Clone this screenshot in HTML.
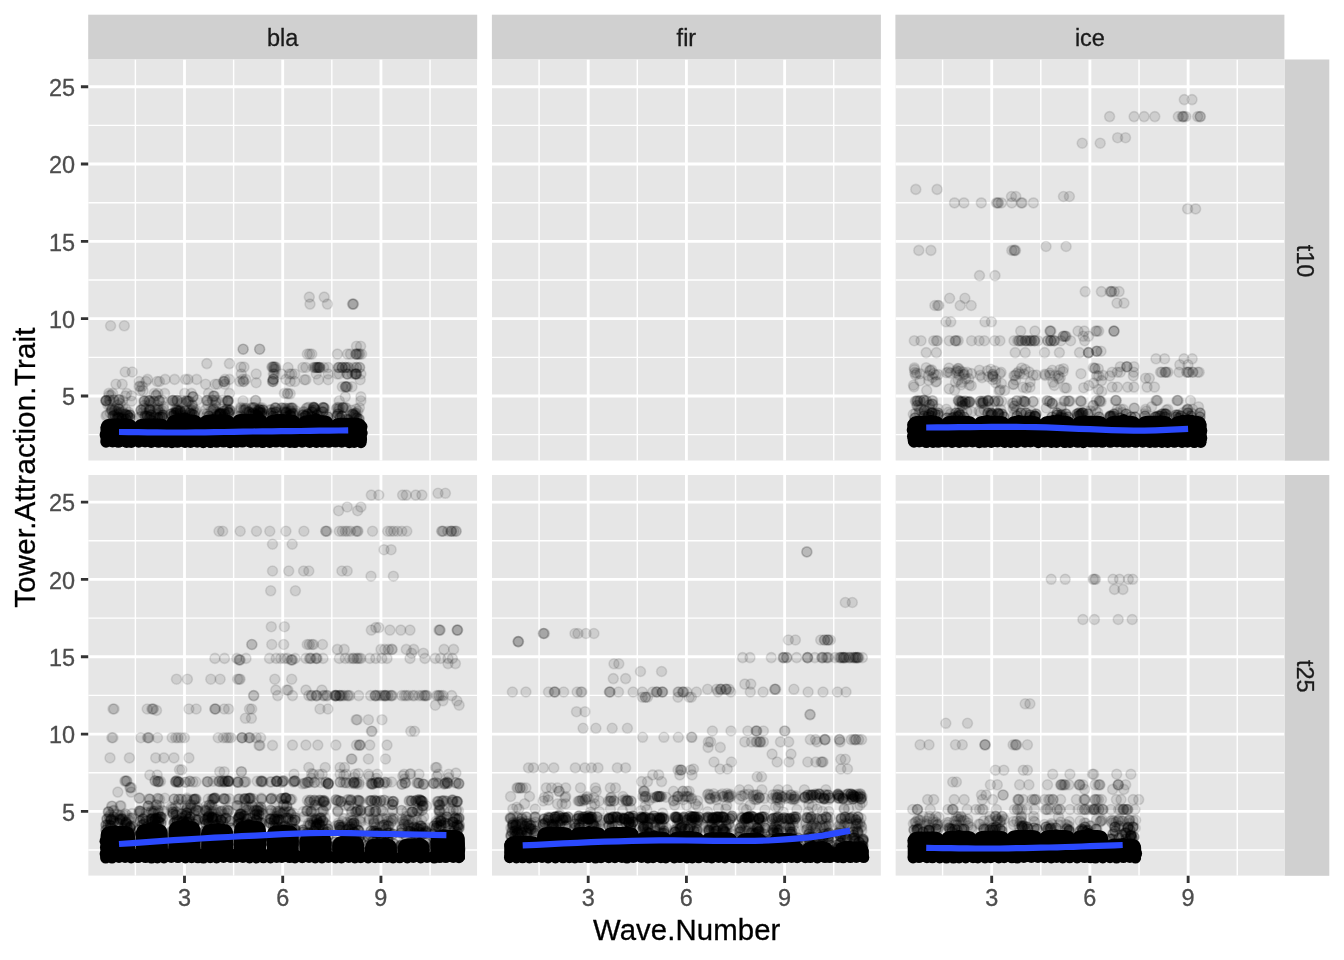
<!DOCTYPE html>
<html lang="en"><head><meta charset="utf-8"><title>Tower.Attraction.Trait by Wave.Number</title>
<style>
html,body{margin:0;padding:0;background:#fff}
svg{display:block}
text{font-family:"Liberation Sans",sans-serif}
.st{font-size:23.47px;fill:#1a1a1a;stroke:#1a1a1a;stroke-width:.3px}
.ax{font-size:23.47px;fill:#4d4d4d;stroke:#4d4d4d;stroke-width:.3px}
.ti{font-size:29.33px;fill:#000;stroke:#000;stroke-width:.3px}
.p circle{r:5px;fill:#000;fill-opacity:.1;stroke:#000;stroke-opacity:.1;stroke-width:1.6px}
.p path{fill:#000}
.k circle{r:5.6px;fill:#000}
.q circle{r:5px;fill:#000;fill-opacity:.27;stroke:#000;stroke-opacity:.27;stroke-width:1.6px}
</style></head><body>
<svg width="1344" height="960" viewBox="0 0 1344 960" role="img" aria-label="Scatter plot of Tower.Attraction.Trait by Wave.Number, faceted by tower type and trial">
<rect width="1344" height="960" fill="#fff"/>
<rect x="88.2" y="14.7" width="389.0" height="44.8" fill="#D0D0D0"/>
<text class="st" x="282.7" y="45.6" text-anchor="middle">bla</text>
<rect x="491.9" y="14.7" width="389.0" height="44.8" fill="#D0D0D0"/>
<text class="st" x="686.4" y="45.6" text-anchor="middle">fir</text>
<rect x="895.4" y="14.7" width="389.0" height="44.8" fill="#D0D0D0"/>
<text class="st" x="1089.9" y="45.6" text-anchor="middle">ice</text>
<rect x="1284.5" y="59.5" width="44.8" height="401.2" fill="#D0D0D0"/>
<text class="st" transform="translate(1297.4,261.0) rotate(90)" text-anchor="middle">t10</text>
<rect x="1284.5" y="475.0" width="44.8" height="400.8" fill="#D0D0D0"/>
<text class="st" transform="translate(1297.4,676.3) rotate(90)" text-anchor="middle">t25</text>
<g clip-path="url(#c00)">
<rect x="88.2" y="59.5" width="389.0" height="401.2" fill="#E6E6E6"/>
<path d="M88.2 434.66h389.0M88.2 357.34h389.0M88.2 280.01h389.0M88.2 202.69h389.0M88.2 125.36h389.0M135.39 59.5v401.2M233.61 59.5v401.2M331.83 59.5v401.2M430.05 59.5v401.2" stroke="#fff" stroke-width="1.42" fill="none"/>
<path d="M88.2 396.00h389.0M88.2 318.68h389.0M88.2 241.35h389.0M88.2 164.03h389.0M88.2 86.70h389.0M184.50 59.5v401.2M282.72 59.5v401.2M380.94 59.5v401.2" stroke="#fff" stroke-width="2.85" fill="none"/>
<g class="p"><path d="M100.5 429.4Q100.5 418.4 111.5 418.4H126.5Q137.5 418.4 137.5 429.4V440.6Q137.5 446.6 131.5 446.6H106.5Q100.5 446.6 100.5 440.6Z"/><path d="M133.3 429.4Q133.3 418.4 144.3 418.4H159.3Q170.3 418.4 170.3 429.4V440.6Q170.3 446.6 164.3 446.6H139.3Q133.3 446.6 133.3 440.6Z"/><path d="M166.0 425.6Q166.0 414.6 177.0 414.6H192.0Q203.0 414.6 203.0 425.6V440.6Q203.0 446.6 197.0 446.6H172.0Q166.0 446.6 166.0 440.6Z"/><path d="M198.7 425.6Q198.7 414.6 209.7 414.6H224.7Q235.7 414.6 235.7 425.6V440.6Q235.7 446.6 229.7 446.6H204.7Q198.7 446.6 198.7 440.6Z"/><path d="M231.5 424.8Q231.5 413.8 242.5 413.8H257.5Q268.5 413.8 268.5 424.8V440.6Q268.5 446.6 262.5 446.6H237.5Q231.5 446.6 231.5 440.6Z"/><path d="M264.2 425.6Q264.2 414.6 275.2 414.6H290.2Q301.2 414.6 301.2 425.6V440.6Q301.2 446.6 295.2 446.6H270.2Q264.2 446.6 264.2 440.6Z"/><path d="M297.0 426.3Q297.0 415.3 308.0 415.3H323.0Q334.0 415.3 334.0 426.3V440.6Q334.0 446.6 328.0 446.6H303.0Q297.0 446.6 297.0 440.6Z"/><path d="M329.7 428.7Q329.7 417.7 340.7 417.7H355.7Q366.7 417.7 366.7 428.7V440.6Q366.7 446.6 360.7 446.6H335.7Q329.7 446.6 329.7 440.6Z"/></g><g class="k"><circle cx="106.0" cy="442.1" r="5.6"/><circle cx="112.6" cy="441.9" r="5.6"/><circle cx="118.3" cy="442.2" r="5.6"/><circle cx="126.5" cy="442.3" r="5.6"/><circle cx="131.3" cy="442.4" r="5.6"/><circle cx="110.4" cy="431.5" r="5.6"/><circle cx="114.5" cy="425.4" r="5.6"/><circle cx="118.2" cy="424.3" r="5.6"/><circle cx="124.7" cy="425.6" r="5.6"/><circle cx="128.0" cy="430.8" r="5.6"/><circle cx="106.2" cy="427.4" r="5.6"/><circle cx="105.2" cy="434.7" r="5.6"/><circle cx="138.7" cy="442.1" r="5.6"/><circle cx="145.1" cy="441.9" r="5.6"/><circle cx="151.2" cy="442.4" r="5.6"/><circle cx="158.6" cy="442.2" r="5.6"/><circle cx="165.8" cy="442.2" r="5.6"/><circle cx="141.8" cy="431.7" r="5.6"/><circle cx="146.3" cy="425.1" r="5.6"/><circle cx="152.4" cy="424.6" r="5.6"/><circle cx="157.3" cy="424.3" r="5.6"/><circle cx="159.9" cy="429.0" r="5.6"/><circle cx="171.9" cy="442.6" r="5.6"/><circle cx="177.6" cy="442.2" r="5.6"/><circle cx="185.0" cy="442.4" r="5.6"/><circle cx="190.6" cy="442.4" r="5.6"/><circle cx="197.2" cy="442.1" r="5.6"/><circle cx="175.2" cy="427.4" r="5.6"/><circle cx="178.7" cy="419.2" r="5.6"/><circle cx="184.9" cy="418.0" r="5.6"/><circle cx="187.8" cy="419.9" r="5.6"/><circle cx="194.4" cy="425.2" r="5.6"/><circle cx="203.3" cy="442.6" r="5.6"/><circle cx="210.5" cy="442.5" r="5.6"/><circle cx="216.7" cy="442.2" r="5.6"/><circle cx="223.5" cy="442.0" r="5.6"/><circle cx="230.0" cy="442.6" r="5.6"/><circle cx="208.6" cy="426.3" r="5.6"/><circle cx="212.3" cy="420.1" r="5.6"/><circle cx="217.3" cy="420.5" r="5.6"/><circle cx="222.5" cy="420.7" r="5.6"/><circle cx="225.3" cy="428.1" r="5.6"/><circle cx="236.7" cy="442.2" r="5.6"/><circle cx="242.4" cy="442.0" r="5.6"/><circle cx="250.7" cy="442.3" r="5.6"/><circle cx="257.0" cy="442.0" r="5.6"/><circle cx="262.7" cy="442.5" r="5.6"/><circle cx="241.5" cy="425.0" r="5.6"/><circle cx="243.8" cy="421.1" r="5.6"/><circle cx="249.0" cy="419.9" r="5.6"/><circle cx="255.2" cy="419.0" r="5.6"/><circle cx="258.1" cy="427.3" r="5.6"/><circle cx="269.8" cy="442.3" r="5.6"/><circle cx="276.1" cy="442.0" r="5.6"/><circle cx="282.9" cy="442.1" r="5.6"/><circle cx="289.9" cy="442.4" r="5.6"/><circle cx="294.9" cy="442.5" r="5.6"/><circle cx="271.9" cy="425.3" r="5.6"/><circle cx="277.4" cy="419.7" r="5.6"/><circle cx="281.9" cy="419.2" r="5.6"/><circle cx="288.1" cy="420.5" r="5.6"/><circle cx="291.5" cy="426.6" r="5.6"/><circle cx="302.1" cy="442.1" r="5.6"/><circle cx="309.7" cy="442.3" r="5.6"/><circle cx="316.4" cy="442.4" r="5.6"/><circle cx="322.1" cy="442.1" r="5.6"/><circle cx="328.9" cy="442.2" r="5.6"/><circle cx="306.7" cy="427.1" r="5.6"/><circle cx="310.7" cy="420.0" r="5.6"/><circle cx="316.2" cy="418.8" r="5.6"/><circle cx="320.7" cy="421.9" r="5.6"/><circle cx="325.7" cy="426.7" r="5.6"/><circle cx="335.5" cy="442.0" r="5.6"/><circle cx="341.7" cy="442.1" r="5.6"/><circle cx="349.2" cy="442.6" r="5.6"/><circle cx="354.2" cy="442.3" r="5.6"/><circle cx="361.0" cy="442.6" r="5.6"/><circle cx="340.0" cy="430.0" r="5.6"/><circle cx="344.1" cy="424.6" r="5.6"/><circle cx="347.8" cy="424.2" r="5.6"/><circle cx="354.1" cy="423.4" r="5.6"/><circle cx="358.4" cy="428.1" r="5.6"/><circle cx="361.9" cy="426.7" r="5.6"/><circle cx="362.1" cy="433.1" r="5.6"/><circle cx="361.5" cy="439.0" r="5.6"/></g><g class="q"><circle cx="128" cy="416" r="5"/><circle cx="117" cy="419" r="5"/><circle cx="119" cy="418" r="5"/><circle cx="126" cy="419" r="5"/><circle cx="118" cy="417" r="5"/><circle cx="130" cy="418" r="5"/><circle cx="113" cy="416" r="5"/><circle cx="122" cy="419" r="5"/><circle cx="130" cy="415" r="5"/><circle cx="127" cy="415" r="5"/><circle cx="147" cy="416" r="5"/><circle cx="162" cy="417" r="5"/><circle cx="151" cy="420" r="5"/><circle cx="150" cy="417" r="5"/><circle cx="163" cy="415" r="5"/><circle cx="151" cy="415" r="5"/><circle cx="145" cy="416" r="5"/><circle cx="153" cy="421" r="5"/><circle cx="158" cy="418" r="5"/><circle cx="160" cy="417" r="5"/><circle cx="171" cy="414" r="5"/><circle cx="194" cy="415" r="5"/><circle cx="180" cy="411" r="5"/><circle cx="176" cy="413" r="5"/><circle cx="178" cy="411" r="5"/><circle cx="192" cy="414" r="5"/><circle cx="174" cy="415" r="5"/><circle cx="185" cy="411" r="5"/><circle cx="174" cy="413" r="5"/><circle cx="190" cy="413" r="5"/><circle cx="225" cy="414" r="5"/><circle cx="229" cy="413" r="5"/><circle cx="220" cy="414" r="5"/><circle cx="220" cy="414" r="5"/><circle cx="219" cy="415" r="5"/><circle cx="209" cy="416" r="5"/><circle cx="220" cy="413" r="5"/><circle cx="217" cy="416" r="5"/><circle cx="224" cy="411" r="5"/><circle cx="228" cy="412" r="5"/><circle cx="260" cy="410" r="5"/><circle cx="251" cy="414" r="5"/><circle cx="255" cy="414" r="5"/><circle cx="258" cy="411" r="5"/><circle cx="260" cy="412" r="5"/><circle cx="262" cy="413" r="5"/><circle cx="249" cy="412" r="5"/><circle cx="263" cy="410" r="5"/><circle cx="258" cy="416" r="5"/><circle cx="253" cy="413" r="5"/><circle cx="286" cy="412" r="5"/><circle cx="276" cy="412" r="5"/><circle cx="273" cy="416" r="5"/><circle cx="290" cy="415" r="5"/><circle cx="291" cy="416" r="5"/><circle cx="273" cy="413" r="5"/><circle cx="271" cy="413" r="5"/><circle cx="293" cy="414" r="5"/><circle cx="287" cy="417" r="5"/><circle cx="286" cy="413" r="5"/><circle cx="317" cy="415" r="5"/><circle cx="312" cy="412" r="5"/><circle cx="303" cy="418" r="5"/><circle cx="328" cy="417" r="5"/><circle cx="306" cy="416" r="5"/><circle cx="323" cy="412" r="5"/><circle cx="303" cy="415" r="5"/><circle cx="305" cy="416" r="5"/><circle cx="308" cy="414" r="5"/><circle cx="312" cy="417" r="5"/><circle cx="348" cy="420" r="5"/><circle cx="338" cy="414" r="5"/><circle cx="340" cy="418" r="5"/><circle cx="354" cy="415" r="5"/><circle cx="359" cy="419" r="5"/><circle cx="353" cy="414" r="5"/><circle cx="337" cy="416" r="5"/><circle cx="357" cy="418" r="5"/><circle cx="342" cy="416" r="5"/><circle cx="347" cy="419" r="5"/></g><g class="p"><circle cx="118.3" cy="413.8" r="5"/><circle cx="120.8" cy="412.9" r="5"/><circle cx="114.1" cy="414.3" r="5"/><circle cx="127.9" cy="415.3" r="5"/><circle cx="120.6" cy="417.5" r="5"/><circle cx="125.3" cy="414.5" r="5"/><circle cx="107.1" cy="415.0" r="5"/><circle cx="112.2" cy="408.8" r="5"/><circle cx="115.1" cy="415.0" r="5"/><circle cx="115.3" cy="408.9" r="5"/><circle cx="122.5" cy="411.9" r="5"/><circle cx="124.7" cy="414.1" r="5"/><circle cx="116.8" cy="411.6" r="5"/><circle cx="106.0" cy="415.9" r="5"/><circle cx="114.7" cy="415.4" r="5"/><circle cx="122.6" cy="414.1" r="5"/><circle cx="128.9" cy="412.4" r="5"/><circle cx="116.8" cy="413.9" r="5"/><circle cx="124.3" cy="413.8" r="5"/><circle cx="123.3" cy="417.2" r="5"/><circle cx="117.6" cy="415.2" r="5"/><circle cx="110.1" cy="412.8" r="5"/><circle cx="118.7" cy="412.4" r="5"/><circle cx="125.7" cy="409.4" r="5"/><circle cx="151.6" cy="414.8" r="5"/><circle cx="150.9" cy="410.1" r="5"/><circle cx="161.6" cy="410.1" r="5"/><circle cx="143.6" cy="408.4" r="5"/><circle cx="155.2" cy="416.9" r="5"/><circle cx="157.7" cy="408.5" r="5"/><circle cx="149.2" cy="411.4" r="5"/><circle cx="146.9" cy="415.7" r="5"/><circle cx="157.5" cy="417.6" r="5"/><circle cx="160.2" cy="412.7" r="5"/><circle cx="141.2" cy="416.5" r="5"/><circle cx="155.7" cy="409.5" r="5"/><circle cx="146.0" cy="408.6" r="5"/><circle cx="141.3" cy="409.7" r="5"/><circle cx="149.1" cy="416.9" r="5"/><circle cx="145.9" cy="413.4" r="5"/><circle cx="159.4" cy="409.7" r="5"/><circle cx="142.2" cy="412.8" r="5"/><circle cx="155.7" cy="414.4" r="5"/><circle cx="161.5" cy="415.1" r="5"/><circle cx="139.2" cy="417.3" r="5"/><circle cx="156.5" cy="412.5" r="5"/><circle cx="163.5" cy="408.9" r="5"/><circle cx="162.5" cy="417.3" r="5"/><circle cx="191.0" cy="411.1" r="5"/><circle cx="188.6" cy="411.0" r="5"/><circle cx="195.0" cy="411.7" r="5"/><circle cx="181.2" cy="412.7" r="5"/><circle cx="176.8" cy="412.2" r="5"/><circle cx="171.6" cy="416.2" r="5"/><circle cx="180.1" cy="410.3" r="5"/><circle cx="190.2" cy="414.5" r="5"/><circle cx="187.7" cy="417.3" r="5"/><circle cx="175.7" cy="408.5" r="5"/><circle cx="179.0" cy="414.0" r="5"/><circle cx="185.8" cy="414.9" r="5"/><circle cx="183.9" cy="415.4" r="5"/><circle cx="172.7" cy="416.0" r="5"/><circle cx="185.1" cy="417.0" r="5"/><circle cx="182.0" cy="414.6" r="5"/><circle cx="182.3" cy="416.7" r="5"/><circle cx="195.2" cy="413.3" r="5"/><circle cx="193.4" cy="408.6" r="5"/><circle cx="180.4" cy="413.2" r="5"/><circle cx="222.5" cy="413.7" r="5"/><circle cx="212.1" cy="410.8" r="5"/><circle cx="227.6" cy="409.1" r="5"/><circle cx="220.6" cy="414.2" r="5"/><circle cx="229.7" cy="411.7" r="5"/><circle cx="205.9" cy="416.9" r="5"/><circle cx="223.8" cy="417.1" r="5"/><circle cx="204.3" cy="414.0" r="5"/><circle cx="217.7" cy="413.5" r="5"/><circle cx="216.9" cy="412.2" r="5"/><circle cx="221.9" cy="413.7" r="5"/><circle cx="213.8" cy="408.5" r="5"/><circle cx="211.0" cy="410.4" r="5"/><circle cx="215.4" cy="414.3" r="5"/><circle cx="205.8" cy="409.6" r="5"/><circle cx="222.5" cy="409.3" r="5"/><circle cx="216.0" cy="411.4" r="5"/><circle cx="207.3" cy="414.0" r="5"/><circle cx="242.3" cy="417.3" r="5"/><circle cx="261.7" cy="415.6" r="5"/><circle cx="240.7" cy="415.8" r="5"/><circle cx="246.8" cy="412.6" r="5"/><circle cx="240.8" cy="408.5" r="5"/><circle cx="262.6" cy="416.3" r="5"/><circle cx="247.5" cy="411.3" r="5"/><circle cx="259.9" cy="413.1" r="5"/><circle cx="260.9" cy="414.7" r="5"/><circle cx="249.9" cy="413.0" r="5"/><circle cx="254.4" cy="415.8" r="5"/><circle cx="252.9" cy="415.6" r="5"/><circle cx="245.8" cy="408.7" r="5"/><circle cx="260.4" cy="410.1" r="5"/><circle cx="237.8" cy="416.3" r="5"/><circle cx="243.6" cy="410.4" r="5"/><circle cx="258.9" cy="412.2" r="5"/><circle cx="255.7" cy="410.2" r="5"/><circle cx="238.6" cy="416.9" r="5"/><circle cx="259.6" cy="417.3" r="5"/><circle cx="275.5" cy="417.3" r="5"/><circle cx="270.0" cy="409.8" r="5"/><circle cx="278.3" cy="416.2" r="5"/><circle cx="273.5" cy="411.6" r="5"/><circle cx="295.0" cy="413.0" r="5"/><circle cx="293.2" cy="413.0" r="5"/><circle cx="284.7" cy="411.4" r="5"/><circle cx="290.7" cy="410.6" r="5"/><circle cx="295.6" cy="410.7" r="5"/><circle cx="293.3" cy="415.7" r="5"/><circle cx="283.6" cy="412.1" r="5"/><circle cx="291.3" cy="413.2" r="5"/><circle cx="290.3" cy="414.0" r="5"/><circle cx="285.0" cy="409.8" r="5"/><circle cx="290.5" cy="411.6" r="5"/><circle cx="269.6" cy="416.0" r="5"/><circle cx="282.9" cy="415.3" r="5"/><circle cx="271.3" cy="409.7" r="5"/><circle cx="327.1" cy="414.8" r="5"/><circle cx="313.1" cy="410.1" r="5"/><circle cx="304.0" cy="411.7" r="5"/><circle cx="305.7" cy="415.0" r="5"/><circle cx="324.1" cy="417.1" r="5"/><circle cx="303.3" cy="413.8" r="5"/><circle cx="315.2" cy="409.6" r="5"/><circle cx="321.1" cy="411.4" r="5"/><circle cx="306.3" cy="408.5" r="5"/><circle cx="313.1" cy="412.0" r="5"/><circle cx="312.5" cy="417.2" r="5"/><circle cx="314.7" cy="416.2" r="5"/><circle cx="303.2" cy="411.9" r="5"/><circle cx="318.9" cy="416.7" r="5"/><circle cx="316.7" cy="414.4" r="5"/><circle cx="312.4" cy="410.4" r="5"/><circle cx="315.2" cy="409.5" r="5"/><circle cx="318.3" cy="413.3" r="5"/><circle cx="351.7" cy="414.5" r="5"/><circle cx="338.4" cy="411.3" r="5"/><circle cx="351.4" cy="410.3" r="5"/><circle cx="338.4" cy="409.2" r="5"/><circle cx="356.0" cy="409.1" r="5"/><circle cx="358.0" cy="411.3" r="5"/><circle cx="356.3" cy="412.8" r="5"/><circle cx="355.7" cy="415.9" r="5"/><circle cx="355.6" cy="413.5" r="5"/><circle cx="354.9" cy="413.4" r="5"/><circle cx="355.8" cy="417.0" r="5"/><circle cx="336.3" cy="409.0" r="5"/><circle cx="118.7" cy="409.0" r="5"/><circle cx="119.0" cy="409.0" r="5"/><circle cx="118.8" cy="409.0" r="5"/><circle cx="111.6" cy="410.2" r="5"/><circle cx="112.0" cy="410.2" r="5"/><circle cx="111.4" cy="410.2" r="5"/><circle cx="113.9" cy="410.2" r="5"/><circle cx="114.7" cy="410.2" r="5"/><circle cx="149.7" cy="410.3" r="5"/><circle cx="149.6" cy="410.2" r="5"/><circle cx="157.9" cy="410.3" r="5"/><circle cx="157.8" cy="410.3" r="5"/><circle cx="149.6" cy="409.6" r="5"/><circle cx="150.0" cy="409.6" r="5"/><circle cx="140.7" cy="410.3" r="5"/><circle cx="141.1" cy="410.3" r="5"/><circle cx="180.5" cy="410.1" r="5"/><circle cx="192.9" cy="410.3" r="5"/><circle cx="176.9" cy="410.1" r="5"/><circle cx="191.0" cy="409.9" r="5"/><circle cx="195.8" cy="410.0" r="5"/><circle cx="176.3" cy="410.2" r="5"/><circle cx="176.7" cy="410.2" r="5"/><circle cx="178.2" cy="410.3" r="5"/><circle cx="213.6" cy="409.7" r="5"/><circle cx="213.2" cy="409.7" r="5"/><circle cx="227.2" cy="409.5" r="5"/><circle cx="226.5" cy="409.5" r="5"/><circle cx="230.2" cy="410.2" r="5"/><circle cx="229.8" cy="410.2" r="5"/><circle cx="229.9" cy="410.2" r="5"/><circle cx="240.7" cy="410.2" r="5"/><circle cx="245.2" cy="410.0" r="5"/><circle cx="244.5" cy="409.7" r="5"/><circle cx="259.4" cy="409.5" r="5"/><circle cx="258.6" cy="409.5" r="5"/><circle cx="107.8" cy="404.9" r="5"/><circle cx="120.3" cy="403.4" r="5"/><circle cx="109.7" cy="404.9" r="5"/><circle cx="122.6" cy="406.4" r="5"/><circle cx="117.6" cy="405.1" r="5"/><circle cx="163.5" cy="406.6" r="5"/><circle cx="149.4" cy="404.9" r="5"/><circle cx="157.7" cy="405.3" r="5"/><circle cx="144.0" cy="405.5" r="5"/><circle cx="151.0" cy="402.4" r="5"/><circle cx="192.3" cy="405.5" r="5"/><circle cx="186.0" cy="403.6" r="5"/><circle cx="192.2" cy="404.8" r="5"/><circle cx="181.8" cy="403.3" r="5"/><circle cx="215.5" cy="405.7" r="5"/><circle cx="216.0" cy="402.5" r="5"/><circle cx="207.9" cy="404.7" r="5"/><circle cx="122.6" cy="400.5" r="5"/><circle cx="113.6" cy="400.0" r="5"/><circle cx="113.9" cy="400.0" r="5"/><circle cx="106.1" cy="400.8" r="5"/><circle cx="106.2" cy="400.8" r="5"/><circle cx="110.0" cy="400.2" r="5"/><circle cx="109.2" cy="400.2" r="5"/><circle cx="119.0" cy="399.8" r="5"/><circle cx="119.5" cy="399.8" r="5"/><circle cx="118.5" cy="399.8" r="5"/><circle cx="131.7" cy="401.1" r="5"/><circle cx="105.9" cy="400.6" r="5"/><circle cx="106.4" cy="400.6" r="5"/><circle cx="105.8" cy="400.6" r="5"/><circle cx="158.2" cy="400.7" r="5"/><circle cx="154.3" cy="401.2" r="5"/><circle cx="153.9" cy="401.2" r="5"/><circle cx="147.6" cy="400.4" r="5"/><circle cx="162.0" cy="400.1" r="5"/><circle cx="149.5" cy="400.8" r="5"/><circle cx="148.8" cy="400.8" r="5"/><circle cx="149.6" cy="400.8" r="5"/><circle cx="144.2" cy="401.1" r="5"/><circle cx="144.0" cy="401.1" r="5"/><circle cx="144.7" cy="401.1" r="5"/><circle cx="159.3" cy="400.8" r="5"/><circle cx="159.4" cy="400.8" r="5"/><circle cx="175.0" cy="401.1" r="5"/><circle cx="181.4" cy="400.3" r="5"/><circle cx="186.1" cy="400.8" r="5"/><circle cx="186.5" cy="400.8" r="5"/><circle cx="177.1" cy="400.5" r="5"/><circle cx="176.8" cy="400.5" r="5"/><circle cx="177.4" cy="400.5" r="5"/><circle cx="173.0" cy="400.8" r="5"/><circle cx="172.1" cy="400.8" r="5"/><circle cx="187.7" cy="401.2" r="5"/><circle cx="187.5" cy="401.2" r="5"/><circle cx="197.4" cy="399.9" r="5"/><circle cx="189.4" cy="401.1" r="5"/><circle cx="188.4" cy="401.1" r="5"/><circle cx="172.5" cy="400.3" r="5"/><circle cx="173.2" cy="400.3" r="5"/><circle cx="222.5" cy="400.1" r="5"/><circle cx="207.8" cy="400.4" r="5"/><circle cx="206.9" cy="400.5" r="5"/><circle cx="206.7" cy="400.5" r="5"/><circle cx="212.8" cy="400.3" r="5"/><circle cx="212.1" cy="400.3" r="5"/><circle cx="228.6" cy="401.0" r="5"/><circle cx="227.8" cy="401.0" r="5"/><circle cx="228.0" cy="400.6" r="5"/><circle cx="227.8" cy="400.6" r="5"/><circle cx="217.0" cy="400.1" r="5"/><circle cx="215.6" cy="400.9" r="5"/><circle cx="227.9" cy="401.2" r="5"/><circle cx="227.0" cy="400.7" r="5"/><circle cx="243.0" cy="400.8" r="5"/><circle cx="255.3" cy="400.5" r="5"/><circle cx="255.9" cy="400.5" r="5"/><circle cx="260.0" cy="407.9" r="5"/><circle cx="253.4" cy="407.7" r="5"/><circle cx="254.3" cy="407.7" r="5"/><circle cx="254.3" cy="407.7" r="5"/><circle cx="252.1" cy="407.8" r="5"/><circle cx="251.5" cy="407.8" r="5"/><circle cx="243.8" cy="408.3" r="5"/><circle cx="246.0" cy="408.0" r="5"/><circle cx="240.6" cy="407.4" r="5"/><circle cx="262.3" cy="407.9" r="5"/><circle cx="281.5" cy="408.0" r="5"/><circle cx="285.5" cy="408.3" r="5"/><circle cx="285.2" cy="408.3" r="5"/><circle cx="281.6" cy="408.0" r="5"/><circle cx="283.3" cy="408.1" r="5"/><circle cx="275.1" cy="407.7" r="5"/><circle cx="291.6" cy="408.1" r="5"/><circle cx="291.2" cy="408.1" r="5"/><circle cx="292.1" cy="408.1" r="5"/><circle cx="292.9" cy="408.1" r="5"/><circle cx="275.9" cy="408.0" r="5"/><circle cx="275.1" cy="408.0" r="5"/><circle cx="275.8" cy="408.0" r="5"/><circle cx="288.6" cy="408.3" r="5"/><circle cx="289.6" cy="408.3" r="5"/><circle cx="314.4" cy="408.2" r="5"/><circle cx="308.7" cy="407.3" r="5"/><circle cx="313.2" cy="407.2" r="5"/><circle cx="313.4" cy="407.2" r="5"/><circle cx="323.8" cy="407.7" r="5"/><circle cx="322.9" cy="407.7" r="5"/><circle cx="307.1" cy="407.8" r="5"/><circle cx="324.4" cy="408.0" r="5"/><circle cx="324.0" cy="408.0" r="5"/><circle cx="313.8" cy="407.7" r="5"/><circle cx="314.0" cy="407.7" r="5"/><circle cx="323.0" cy="407.5" r="5"/><circle cx="323.1" cy="407.5" r="5"/><circle cx="314.5" cy="407.6" r="5"/><circle cx="313.9" cy="407.6" r="5"/><circle cx="338.2" cy="407.4" r="5"/><circle cx="339.6" cy="407.9" r="5"/><circle cx="342.6" cy="407.5" r="5"/><circle cx="125.4" cy="396.0" r="5"/><circle cx="109.1" cy="395.6" r="5"/><circle cx="131.4" cy="395.8" r="5"/><circle cx="156.3" cy="395.4" r="5"/><circle cx="155.8" cy="395.4" r="5"/><circle cx="193.2" cy="396.8" r="5"/><circle cx="192.8" cy="396.8" r="5"/><circle cx="192.8" cy="396.8" r="5"/><circle cx="213.9" cy="396.1" r="5"/><circle cx="213.3" cy="396.1" r="5"/><circle cx="214.5" cy="396.1" r="5"/><circle cx="110.6" cy="325.8" r="5"/><circle cx="124.3" cy="325.8" r="5"/><circle cx="243.2" cy="349.2" r="5"/><circle cx="243.1" cy="349.2" r="5"/><circle cx="259.6" cy="349.2" r="5"/><circle cx="259.7" cy="349.2" r="5"/><circle cx="206.8" cy="363.6" r="5"/><circle cx="229.4" cy="363.6" r="5"/><circle cx="241.0" cy="367.1" r="5"/><circle cx="244.0" cy="367.1" r="5"/><circle cx="271.8" cy="367.1" r="5"/><circle cx="273.3" cy="367.1" r="5"/><circle cx="274.8" cy="367.1" r="5"/><circle cx="272.5" cy="367.1" r="5"/><circle cx="274.0" cy="367.1" r="5"/><circle cx="275.8" cy="367.1" r="5"/><circle cx="274.0" cy="369.3" r="5"/><circle cx="275.5" cy="369.3" r="5"/><circle cx="125.2" cy="372.0" r="5"/><circle cx="132.2" cy="372.0" r="5"/><circle cx="241.3" cy="374.0" r="5"/><circle cx="256.2" cy="374.0" r="5"/><circle cx="273.3" cy="374.0" r="5"/><circle cx="274.3" cy="374.0" r="5"/><circle cx="281.5" cy="374.0" r="5"/><circle cx="147.5" cy="379.4" r="5"/><circle cx="165.1" cy="379.4" r="5"/><circle cx="174.6" cy="379.4" r="5"/><circle cx="185.5" cy="379.4" r="5"/><circle cx="188.0" cy="379.4" r="5"/><circle cx="196.6" cy="379.4" r="5"/><circle cx="224.9" cy="379.4" r="5"/><circle cx="229.4" cy="379.4" r="5"/><circle cx="242.8" cy="379.4" r="5"/><circle cx="245.7" cy="379.4" r="5"/><circle cx="273.3" cy="379.4" r="5"/><circle cx="273.2" cy="379.4" r="5"/><circle cx="273.3" cy="379.4" r="5"/><circle cx="285.9" cy="379.4" r="5"/><circle cx="157.2" cy="381.5" r="5"/><circle cx="159.4" cy="381.5" r="5"/><circle cx="139.3" cy="381.5" r="5"/><circle cx="146.0" cy="381.5" r="5"/><circle cx="224.2" cy="381.5" r="5"/><circle cx="224.4" cy="381.5" r="5"/><circle cx="223.4" cy="381.5" r="5"/><circle cx="239.8" cy="381.5" r="5"/><circle cx="243.5" cy="381.5" r="5"/><circle cx="243.5" cy="381.5" r="5"/><circle cx="272.5" cy="381.5" r="5"/><circle cx="272.8" cy="381.5" r="5"/><circle cx="273.2" cy="381.5" r="5"/><circle cx="256.2" cy="382.7" r="5"/><circle cx="116.0" cy="384.2" r="5"/><circle cx="122.2" cy="384.2" r="5"/><circle cx="205.6" cy="384.2" r="5"/><circle cx="215.2" cy="384.2" r="5"/><circle cx="217.5" cy="384.2" r="5"/><circle cx="224.9" cy="384.2" r="5"/><circle cx="140.1" cy="386.4" r="5"/><circle cx="139.1" cy="386.4" r="5"/><circle cx="142.3" cy="386.4" r="5"/><circle cx="140.1" cy="390.9" r="5"/><circle cx="143.1" cy="390.9" r="5"/><circle cx="108.8" cy="393.4" r="5"/><circle cx="112.6" cy="393.4" r="5"/><circle cx="126.7" cy="393.4" r="5"/><circle cx="154.2" cy="393.4" r="5"/><circle cx="157.9" cy="393.4" r="5"/><circle cx="164.6" cy="393.4" r="5"/><circle cx="184.7" cy="393.4" r="5"/><circle cx="191.4" cy="393.4" r="5"/><circle cx="208.5" cy="393.4" r="5"/><circle cx="229.4" cy="393.4" r="5"/><circle cx="284.4" cy="393.4" r="5"/><circle cx="287.4" cy="393.4" r="5"/><circle cx="111.1" cy="395.3" r="5"/><circle cx="309.3" cy="297.1" r="5"/><circle cx="324.2" cy="297.1" r="5"/><circle cx="310.0" cy="304.1" r="5"/><circle cx="327.4" cy="304.1" r="5"/><circle cx="353.5" cy="304.1" r="5"/><circle cx="353.0" cy="304.1" r="5"/><circle cx="352.5" cy="304.1" r="5"/><circle cx="356.5" cy="346.2" r="5"/><circle cx="360.6" cy="346.2" r="5"/><circle cx="307.3" cy="354.1" r="5"/><circle cx="309.6" cy="354.1" r="5"/><circle cx="311.8" cy="354.1" r="5"/><circle cx="337.4" cy="354.1" r="5"/><circle cx="347.5" cy="354.1" r="5"/><circle cx="350.5" cy="354.1" r="5"/><circle cx="355.7" cy="354.1" r="5"/><circle cx="356.5" cy="354.1" r="5"/><circle cx="356.2" cy="354.1" r="5"/><circle cx="358.7" cy="354.1" r="5"/><circle cx="357.6" cy="354.1" r="5"/><circle cx="359.8" cy="354.1" r="5"/><circle cx="361.7" cy="354.1" r="5"/><circle cx="288.0" cy="367.5" r="5"/><circle cx="302.9" cy="367.5" r="5"/><circle cx="305.9" cy="367.5" r="5"/><circle cx="315.5" cy="367.5" r="5"/><circle cx="319.7" cy="367.5" r="5"/><circle cx="316.9" cy="367.5" r="5"/><circle cx="316.6" cy="367.5" r="5"/><circle cx="317.8" cy="367.5" r="5"/><circle cx="314.7" cy="367.5" r="5"/><circle cx="313.4" cy="367.5" r="5"/><circle cx="318.0" cy="367.5" r="5"/><circle cx="320.0" cy="367.5" r="5"/><circle cx="318.9" cy="367.5" r="5"/><circle cx="319.3" cy="367.5" r="5"/><circle cx="323.7" cy="367.5" r="5"/><circle cx="328.2" cy="367.5" r="5"/><circle cx="339.3" cy="367.5" r="5"/><circle cx="338.7" cy="367.5" r="5"/><circle cx="338.2" cy="367.5" r="5"/><circle cx="342.3" cy="367.5" r="5"/><circle cx="342.2" cy="367.5" r="5"/><circle cx="342.2" cy="367.5" r="5"/><circle cx="345.3" cy="367.5" r="5"/><circle cx="346.1" cy="367.5" r="5"/><circle cx="345.3" cy="367.5" r="5"/><circle cx="348.3" cy="367.5" r="5"/><circle cx="348.6" cy="367.5" r="5"/><circle cx="353.5" cy="367.5" r="5"/><circle cx="356.5" cy="367.5" r="5"/><circle cx="356.5" cy="367.5" r="5"/><circle cx="359.4" cy="367.5" r="5"/><circle cx="359.8" cy="367.5" r="5"/><circle cx="289.5" cy="374.0" r="5"/><circle cx="291.7" cy="374.0" r="5"/><circle cx="294.7" cy="374.0" r="5"/><circle cx="316.3" cy="374.0" r="5"/><circle cx="328.2" cy="374.0" r="5"/><circle cx="337.1" cy="374.0" r="5"/><circle cx="339.3" cy="374.0" r="5"/><circle cx="347.5" cy="374.0" r="5"/><circle cx="347.4" cy="374.0" r="5"/><circle cx="347.0" cy="374.0" r="5"/><circle cx="352.0" cy="374.0" r="5"/><circle cx="356.5" cy="374.0" r="5"/><circle cx="356.4" cy="374.0" r="5"/><circle cx="355.1" cy="374.0" r="5"/><circle cx="355.7" cy="374.0" r="5"/><circle cx="356.2" cy="374.0" r="5"/><circle cx="355.3" cy="374.0" r="5"/><circle cx="360.9" cy="374.0" r="5"/><circle cx="304.4" cy="379.7" r="5"/><circle cx="305.9" cy="379.7" r="5"/><circle cx="318.5" cy="379.7" r="5"/><circle cx="328.2" cy="379.7" r="5"/><circle cx="360.2" cy="379.7" r="5"/><circle cx="290.2" cy="381.5" r="5"/><circle cx="294.7" cy="381.5" r="5"/><circle cx="342.3" cy="386.8" r="5"/><circle cx="346.0" cy="386.8" r="5"/><circle cx="345.4" cy="386.8" r="5"/><circle cx="345.5" cy="386.8" r="5"/><circle cx="347.5" cy="386.8" r="5"/><circle cx="346.5" cy="386.8" r="5"/><circle cx="352.0" cy="386.8" r="5"/><circle cx="290.2" cy="393.8" r="5"/><circle cx="288.0" cy="393.8" r="5"/><circle cx="345.3" cy="396.8" r="5"/><circle cx="360.9" cy="396.8" r="5"/><circle cx="339.3" cy="400.8" r="5"/><circle cx="360.9" cy="400.8" r="5"/><circle cx="337.1" cy="407.7" r="5"/><circle cx="343.1" cy="407.7" r="5"/><circle cx="343.7" cy="407.7" r="5"/><circle cx="342.8" cy="407.7" r="5"/><circle cx="345.3" cy="407.7" r="5"/><circle cx="346.1" cy="407.7" r="5"/><circle cx="359.4" cy="407.7" r="5"/></g><path d="M119.0 432.0 L128.6 432.1 L138.1 432.2 L147.7 432.3 L157.2 432.4 L166.8 432.5 L176.3 432.5 L185.9 432.5 L195.4 432.4 L205.0 432.3 L214.5 432.2 L224.1 432.0 L233.6 431.9 L243.2 431.7 L252.7 431.5 L262.3 431.4 L271.8 431.3 L281.4 431.2 L290.9 431.1 L300.5 431.0 L310.0 430.8 L319.6 430.7 L329.1 430.6 L338.7 430.5 L348.2 430.3" fill="none" stroke="#2A49FE" stroke-width="6.2" stroke-linejoin="round"/>
</g>
<g clip-path="url(#c01)">
<rect x="491.9" y="59.5" width="389.0" height="401.2" fill="#E6E6E6"/>
<path d="M491.9 434.66h389.0M491.9 357.34h389.0M491.9 280.01h389.0M491.9 202.69h389.0M491.9 125.36h389.0M539.09 59.5v401.2M637.31 59.5v401.2M735.53 59.5v401.2M833.75 59.5v401.2" stroke="#fff" stroke-width="1.42" fill="none"/>
<path d="M491.9 396.00h389.0M491.9 318.68h389.0M491.9 241.35h389.0M491.9 164.03h389.0M491.9 86.70h389.0M588.20 59.5v401.2M686.42 59.5v401.2M784.64 59.5v401.2" stroke="#fff" stroke-width="2.85" fill="none"/>
<g class="p"></g><g class="k"></g><g class="q"></g><g class="p"></g>
</g>
<g clip-path="url(#c02)">
<rect x="895.4" y="59.5" width="389.0" height="401.2" fill="#E6E6E6"/>
<path d="M895.4 434.66h389.0M895.4 357.34h389.0M895.4 280.01h389.0M895.4 202.69h389.0M895.4 125.36h389.0M942.59 59.5v401.2M1040.81 59.5v401.2M1139.03 59.5v401.2M1237.25 59.5v401.2" stroke="#fff" stroke-width="1.42" fill="none"/>
<path d="M895.4 396.00h389.0M895.4 318.68h389.0M895.4 241.35h389.0M895.4 164.03h389.0M895.4 86.70h389.0M991.70 59.5v401.2M1089.92 59.5v401.2M1188.14 59.5v401.2" stroke="#fff" stroke-width="2.85" fill="none"/>
<g class="p"><path d="M907.7 426.8Q907.7 415.8 918.7 415.8H933.7Q944.7 415.8 944.7 426.8V440.6Q944.7 446.6 938.7 446.6H913.7Q907.7 446.6 907.7 440.6Z"/><path d="M940.5 426.8Q940.5 415.8 951.5 415.8H966.5Q977.5 415.8 977.5 426.8V440.6Q977.5 446.6 971.5 446.6H946.5Q940.5 446.6 940.5 440.6Z"/><path d="M973.2 426.8Q973.2 415.8 984.2 415.8H999.2Q1010.2 415.8 1010.2 426.8V440.6Q1010.2 446.6 1004.2 446.6H979.2Q973.2 446.6 973.2 440.6Z"/><path d="M1005.9 426.8Q1005.9 415.8 1016.9 415.8H1031.9Q1042.9 415.8 1042.9 426.8V440.6Q1042.9 446.6 1036.9 446.6H1011.9Q1005.9 446.6 1005.9 440.6Z"/><path d="M1038.7 426.8Q1038.7 415.8 1049.7 415.8H1064.7Q1075.7 415.8 1075.7 426.8V440.6Q1075.7 446.6 1069.7 446.6H1044.7Q1038.7 446.6 1038.7 440.6Z"/><path d="M1071.4 426.8Q1071.4 415.8 1082.4 415.8H1097.4Q1108.4 415.8 1108.4 426.8V440.6Q1108.4 446.6 1102.4 446.6H1077.4Q1071.4 446.6 1071.4 440.6Z"/><path d="M1104.2 426.8Q1104.2 415.8 1115.2 415.8H1130.2Q1141.2 415.8 1141.2 426.8V440.6Q1141.2 446.6 1135.2 446.6H1110.2Q1104.2 446.6 1104.2 440.6Z"/><path d="M1136.9 426.8Q1136.9 415.8 1147.9 415.8H1162.9Q1173.9 415.8 1173.9 426.8V440.6Q1173.9 446.6 1167.9 446.6H1142.9Q1136.9 446.6 1136.9 440.6Z"/><path d="M1169.6 426.8Q1169.6 415.8 1180.6 415.8H1195.6Q1206.6 415.8 1206.6 426.8V440.6Q1206.6 446.6 1200.6 446.6H1175.6Q1169.6 446.6 1169.6 440.6Z"/></g><g class="k"><circle cx="914.0" cy="442.1" r="5.6"/><circle cx="919.2" cy="441.9" r="5.6"/><circle cx="926.3" cy="442.5" r="5.6"/><circle cx="933.0" cy="442.3" r="5.6"/><circle cx="938.3" cy="442.2" r="5.6"/><circle cx="916.6" cy="427.0" r="5.6"/><circle cx="920.8" cy="421.6" r="5.6"/><circle cx="925.8" cy="422.4" r="5.6"/><circle cx="930.9" cy="420.6" r="5.6"/><circle cx="935.5" cy="428.6" r="5.6"/><circle cx="912.7" cy="424.8" r="5.6"/><circle cx="912.3" cy="429.9" r="5.6"/><circle cx="912.6" cy="436.5" r="5.6"/><circle cx="945.0" cy="442.0" r="5.6"/><circle cx="952.0" cy="442.4" r="5.6"/><circle cx="959.2" cy="442.3" r="5.6"/><circle cx="965.9" cy="442.0" r="5.6"/><circle cx="972.5" cy="441.9" r="5.6"/><circle cx="949.6" cy="427.1" r="5.6"/><circle cx="952.9" cy="422.3" r="5.6"/><circle cx="959.8" cy="421.5" r="5.6"/><circle cx="962.5" cy="421.6" r="5.6"/><circle cx="968.7" cy="427.4" r="5.6"/><circle cx="979.2" cy="442.6" r="5.6"/><circle cx="984.7" cy="442.2" r="5.6"/><circle cx="991.3" cy="442.3" r="5.6"/><circle cx="997.5" cy="441.9" r="5.6"/><circle cx="1004.7" cy="442.3" r="5.6"/><circle cx="981.8" cy="429.5" r="5.6"/><circle cx="987.1" cy="420.6" r="5.6"/><circle cx="992.2" cy="421.5" r="5.6"/><circle cx="996.4" cy="423.0" r="5.6"/><circle cx="1000.9" cy="427.0" r="5.6"/><circle cx="1010.7" cy="442.3" r="5.6"/><circle cx="1016.9" cy="442.4" r="5.6"/><circle cx="1024.9" cy="442.1" r="5.6"/><circle cx="1030.4" cy="441.9" r="5.6"/><circle cx="1038.3" cy="442.6" r="5.6"/><circle cx="1015.2" cy="429.4" r="5.6"/><circle cx="1018.9" cy="420.6" r="5.6"/><circle cx="1024.0" cy="422.4" r="5.6"/><circle cx="1030.4" cy="421.2" r="5.6"/><circle cx="1034.0" cy="426.5" r="5.6"/><circle cx="1044.5" cy="442.0" r="5.6"/><circle cx="1051.3" cy="442.3" r="5.6"/><circle cx="1056.6" cy="442.3" r="5.6"/><circle cx="1064.7" cy="442.5" r="5.6"/><circle cx="1070.1" cy="442.4" r="5.6"/><circle cx="1046.7" cy="426.6" r="5.6"/><circle cx="1053.2" cy="420.6" r="5.6"/><circle cx="1058.6" cy="419.8" r="5.6"/><circle cx="1062.8" cy="423.6" r="5.6"/><circle cx="1066.9" cy="429.0" r="5.6"/><circle cx="1077.6" cy="442.2" r="5.6"/><circle cx="1083.4" cy="442.6" r="5.6"/><circle cx="1090.6" cy="442.0" r="5.6"/><circle cx="1096.0" cy="442.0" r="5.6"/><circle cx="1102.3" cy="442.2" r="5.6"/><circle cx="1080.9" cy="429.5" r="5.6"/><circle cx="1085.1" cy="421.0" r="5.6"/><circle cx="1089.7" cy="421.8" r="5.6"/><circle cx="1094.2" cy="422.5" r="5.6"/><circle cx="1097.9" cy="427.5" r="5.6"/><circle cx="1110.2" cy="442.2" r="5.6"/><circle cx="1117.0" cy="441.9" r="5.6"/><circle cx="1123.5" cy="442.2" r="5.6"/><circle cx="1128.7" cy="442.1" r="5.6"/><circle cx="1135.7" cy="442.2" r="5.6"/><circle cx="1113.3" cy="428.3" r="5.6"/><circle cx="1119.2" cy="421.2" r="5.6"/><circle cx="1123.7" cy="419.7" r="5.6"/><circle cx="1126.7" cy="423.6" r="5.6"/><circle cx="1131.7" cy="426.6" r="5.6"/><circle cx="1142.7" cy="442.1" r="5.6"/><circle cx="1149.8" cy="442.4" r="5.6"/><circle cx="1155.2" cy="442.2" r="5.6"/><circle cx="1161.9" cy="442.3" r="5.6"/><circle cx="1167.7" cy="442.4" r="5.6"/><circle cx="1147.0" cy="427.7" r="5.6"/><circle cx="1152.0" cy="422.8" r="5.6"/><circle cx="1156.1" cy="422.3" r="5.6"/><circle cx="1160.3" cy="421.0" r="5.6"/><circle cx="1164.0" cy="429.2" r="5.6"/><circle cx="1174.4" cy="442.2" r="5.6"/><circle cx="1182.0" cy="442.4" r="5.6"/><circle cx="1187.5" cy="442.1" r="5.6"/><circle cx="1194.3" cy="442.5" r="5.6"/><circle cx="1200.8" cy="442.4" r="5.6"/><circle cx="1180.1" cy="427.1" r="5.6"/><circle cx="1182.9" cy="420.4" r="5.6"/><circle cx="1188.4" cy="419.9" r="5.6"/><circle cx="1191.7" cy="420.4" r="5.6"/><circle cx="1198.6" cy="427.3" r="5.6"/><circle cx="1200.9" cy="424.8" r="5.6"/><circle cx="1201.7" cy="430.8" r="5.6"/><circle cx="1201.7" cy="438.1" r="5.6"/></g><g class="q"><circle cx="938" cy="413" r="5"/><circle cx="915" cy="418" r="5"/><circle cx="935" cy="414" r="5"/><circle cx="931" cy="416" r="5"/><circle cx="929" cy="415" r="5"/><circle cx="928" cy="417" r="5"/><circle cx="924" cy="416" r="5"/><circle cx="932" cy="413" r="5"/><circle cx="938" cy="415" r="5"/><circle cx="958" cy="417" r="5"/><circle cx="947" cy="418" r="5"/><circle cx="958" cy="416" r="5"/><circle cx="956" cy="413" r="5"/><circle cx="960" cy="415" r="5"/><circle cx="952" cy="418" r="5"/><circle cx="954" cy="417" r="5"/><circle cx="959" cy="413" r="5"/><circle cx="964" cy="417" r="5"/><circle cx="1002" cy="414" r="5"/><circle cx="998" cy="413" r="5"/><circle cx="999" cy="414" r="5"/><circle cx="988" cy="413" r="5"/><circle cx="1004" cy="417" r="5"/><circle cx="998" cy="414" r="5"/><circle cx="991" cy="415" r="5"/><circle cx="991" cy="413" r="5"/><circle cx="992" cy="414" r="5"/><circle cx="1021" cy="413" r="5"/><circle cx="1035" cy="416" r="5"/><circle cx="1026" cy="413" r="5"/><circle cx="1030" cy="415" r="5"/><circle cx="1017" cy="416" r="5"/><circle cx="1030" cy="417" r="5"/><circle cx="1035" cy="417" r="5"/><circle cx="1035" cy="416" r="5"/><circle cx="1036" cy="414" r="5"/><circle cx="1057" cy="415" r="5"/><circle cx="1061" cy="415" r="5"/><circle cx="1052" cy="417" r="5"/><circle cx="1057" cy="413" r="5"/><circle cx="1060" cy="418" r="5"/><circle cx="1066" cy="414" r="5"/><circle cx="1068" cy="417" r="5"/><circle cx="1064" cy="418" r="5"/><circle cx="1061" cy="417" r="5"/><circle cx="1083" cy="413" r="5"/><circle cx="1080" cy="415" r="5"/><circle cx="1099" cy="417" r="5"/><circle cx="1082" cy="413" r="5"/><circle cx="1088" cy="414" r="5"/><circle cx="1078" cy="416" r="5"/><circle cx="1081" cy="414" r="5"/><circle cx="1079" cy="413" r="5"/><circle cx="1077" cy="414" r="5"/><circle cx="1110" cy="417" r="5"/><circle cx="1131" cy="417" r="5"/><circle cx="1114" cy="414" r="5"/><circle cx="1120" cy="418" r="5"/><circle cx="1135" cy="417" r="5"/><circle cx="1111" cy="416" r="5"/><circle cx="1126" cy="414" r="5"/><circle cx="1113" cy="416" r="5"/><circle cx="1110" cy="416" r="5"/><circle cx="1162" cy="414" r="5"/><circle cx="1166" cy="414" r="5"/><circle cx="1165" cy="414" r="5"/><circle cx="1155" cy="417" r="5"/><circle cx="1160" cy="416" r="5"/><circle cx="1145" cy="416" r="5"/><circle cx="1165" cy="417" r="5"/><circle cx="1158" cy="416" r="5"/><circle cx="1156" cy="417" r="5"/><circle cx="1200" cy="417" r="5"/><circle cx="1191" cy="416" r="5"/><circle cx="1176" cy="415" r="5"/><circle cx="1179" cy="418" r="5"/><circle cx="1176" cy="417" r="5"/><circle cx="1178" cy="415" r="5"/><circle cx="1188" cy="413" r="5"/><circle cx="1200" cy="413" r="5"/><circle cx="1181" cy="416" r="5"/></g><g class="p"><circle cx="919.7" cy="410.0" r="5"/><circle cx="929.5" cy="408.4" r="5"/><circle cx="931.7" cy="412.6" r="5"/><circle cx="924.2" cy="410.5" r="5"/><circle cx="913.3" cy="414.3" r="5"/><circle cx="923.8" cy="413.7" r="5"/><circle cx="932.1" cy="412.7" r="5"/><circle cx="915.7" cy="413.2" r="5"/><circle cx="919.2" cy="412.9" r="5"/><circle cx="926.8" cy="411.0" r="5"/><circle cx="921.2" cy="409.6" r="5"/><circle cx="918.7" cy="407.5" r="5"/><circle cx="938.3" cy="408.9" r="5"/><circle cx="924.5" cy="410.6" r="5"/><circle cx="928.3" cy="414.2" r="5"/><circle cx="924.1" cy="410.5" r="5"/><circle cx="950.6" cy="413.8" r="5"/><circle cx="966.9" cy="411.7" r="5"/><circle cx="959.5" cy="407.4" r="5"/><circle cx="961.9" cy="412.3" r="5"/><circle cx="971.6" cy="411.7" r="5"/><circle cx="946.4" cy="409.3" r="5"/><circle cx="948.5" cy="412.2" r="5"/><circle cx="1000.6" cy="409.4" r="5"/><circle cx="979.0" cy="411.1" r="5"/><circle cx="989.4" cy="410.8" r="5"/><circle cx="984.1" cy="410.0" r="5"/><circle cx="980.5" cy="412.4" r="5"/><circle cx="988.4" cy="407.3" r="5"/><circle cx="1013.3" cy="408.7" r="5"/><circle cx="1016.4" cy="410.1" r="5"/><circle cx="1021.6" cy="411.0" r="5"/><circle cx="1031.1" cy="411.5" r="5"/><circle cx="1014.5" cy="413.6" r="5"/><circle cx="1046.2" cy="408.0" r="5"/><circle cx="1060.9" cy="407.1" r="5"/><circle cx="1062.2" cy="414.4" r="5"/><circle cx="1061.3" cy="408.5" r="5"/><circle cx="1095.8" cy="410.7" r="5"/><circle cx="1086.2" cy="411.0" r="5"/><circle cx="1097.7" cy="412.5" r="5"/><circle cx="1090.6" cy="410.9" r="5"/><circle cx="1134.6" cy="408.3" r="5"/><circle cx="1134.0" cy="408.1" r="5"/><circle cx="1117.3" cy="412.8" r="5"/><circle cx="1122.4" cy="412.6" r="5"/><circle cx="1120.8" cy="409.3" r="5"/><circle cx="1166.4" cy="410.0" r="5"/><circle cx="1163.7" cy="413.8" r="5"/><circle cx="1151.6" cy="406.8" r="5"/><circle cx="1146.1" cy="411.3" r="5"/><circle cx="1144.1" cy="413.9" r="5"/><circle cx="1198.5" cy="406.9" r="5"/><circle cx="1192.0" cy="413.6" r="5"/><circle cx="1182.8" cy="412.8" r="5"/><circle cx="1192.6" cy="409.3" r="5"/><circle cx="1186.5" cy="410.5" r="5"/><circle cx="916.1" cy="401.2" r="5"/><circle cx="915.3" cy="401.2" r="5"/><circle cx="926.7" cy="400.9" r="5"/><circle cx="926.0" cy="400.9" r="5"/><circle cx="917.2" cy="400.4" r="5"/><circle cx="923.7" cy="400.3" r="5"/><circle cx="924.2" cy="400.3" r="5"/><circle cx="923.6" cy="400.3" r="5"/><circle cx="932.0" cy="400.7" r="5"/><circle cx="932.7" cy="400.7" r="5"/><circle cx="917.8" cy="401.2" r="5"/><circle cx="917.4" cy="401.2" r="5"/><circle cx="919.8" cy="400.8" r="5"/><circle cx="920.2" cy="400.8" r="5"/><circle cx="958.2" cy="400.4" r="5"/><circle cx="958.7" cy="400.4" r="5"/><circle cx="969.8" cy="402.0" r="5"/><circle cx="959.8" cy="401.8" r="5"/><circle cx="960.8" cy="401.8" r="5"/><circle cx="962.5" cy="402.2" r="5"/><circle cx="962.5" cy="402.2" r="5"/><circle cx="969.6" cy="401.3" r="5"/><circle cx="967.2" cy="402.2" r="5"/><circle cx="965.0" cy="401.1" r="5"/><circle cx="969.0" cy="402.0" r="5"/><circle cx="969.6" cy="402.0" r="5"/><circle cx="968.4" cy="402.0" r="5"/><circle cx="965.4" cy="401.1" r="5"/><circle cx="958.7" cy="401.1" r="5"/><circle cx="961.9" cy="401.4" r="5"/><circle cx="961.9" cy="401.4" r="5"/><circle cx="983.2" cy="400.9" r="5"/><circle cx="987.8" cy="400.5" r="5"/><circle cx="988.5" cy="400.5" r="5"/><circle cx="988.1" cy="400.5" r="5"/><circle cx="998.4" cy="401.3" r="5"/><circle cx="998.3" cy="401.3" r="5"/><circle cx="1001.6" cy="401.3" r="5"/><circle cx="994.7" cy="401.5" r="5"/><circle cx="994.2" cy="401.5" r="5"/><circle cx="995.0" cy="400.6" r="5"/><circle cx="980.0" cy="401.3" r="5"/><circle cx="980.4" cy="401.3" r="5"/><circle cx="982.7" cy="401.7" r="5"/><circle cx="983.6" cy="401.7" r="5"/><circle cx="988.2" cy="401.2" r="5"/><circle cx="988.3" cy="401.2" r="5"/><circle cx="1016.7" cy="400.9" r="5"/><circle cx="1017.0" cy="400.9" r="5"/><circle cx="1024.0" cy="401.2" r="5"/><circle cx="1023.2" cy="401.2" r="5"/><circle cx="1032.9" cy="401.6" r="5"/><circle cx="1033.2" cy="401.6" r="5"/><circle cx="1021.6" cy="400.6" r="5"/><circle cx="1024.7" cy="401.8" r="5"/><circle cx="1024.7" cy="401.8" r="5"/><circle cx="1025.4" cy="401.8" r="5"/><circle cx="1065.0" cy="401.0" r="5"/><circle cx="1064.1" cy="401.0" r="5"/><circle cx="1069.0" cy="401.1" r="5"/><circle cx="1068.5" cy="401.1" r="5"/><circle cx="1069.9" cy="401.1" r="5"/><circle cx="1047.0" cy="400.7" r="5"/><circle cx="1047.7" cy="400.7" r="5"/><circle cx="1049.7" cy="401.5" r="5"/><circle cx="1049.6" cy="401.5" r="5"/><circle cx="1081.2" cy="401.4" r="5"/><circle cx="1081.1" cy="401.4" r="5"/><circle cx="1080.3" cy="400.9" r="5"/><circle cx="1101.2" cy="401.6" r="5"/><circle cx="1100.1" cy="401.3" r="5"/><circle cx="1099.4" cy="401.3" r="5"/><circle cx="916.8" cy="405.6" r="5"/><circle cx="917.4" cy="405.6" r="5"/><circle cx="929.7" cy="404.8" r="5"/><circle cx="929.3" cy="404.8" r="5"/><circle cx="932.0" cy="404.2" r="5"/><circle cx="932.4" cy="404.2" r="5"/><circle cx="932.9" cy="404.2" r="5"/><circle cx="965.3" cy="403.7" r="5"/><circle cx="965.4" cy="403.7" r="5"/><circle cx="962.5" cy="405.8" r="5"/><circle cx="962.3" cy="405.8" r="5"/><circle cx="983.2" cy="403.1" r="5"/><circle cx="983.1" cy="403.1" r="5"/><circle cx="980.9" cy="403.2" r="5"/><circle cx="981.8" cy="403.2" r="5"/><circle cx="1014.7" cy="406.0" r="5"/><circle cx="1014.0" cy="406.0" r="5"/><circle cx="1013.4" cy="403.3" r="5"/><circle cx="1012.4" cy="403.3" r="5"/><circle cx="1052.5" cy="403.5" r="5"/><circle cx="1052.3" cy="403.5" r="5"/><circle cx="1052.0" cy="403.5" r="5"/><circle cx="1093.5" cy="405.6" r="5"/><circle cx="1092.9" cy="405.6" r="5"/><circle cx="926.2" cy="367.7" r="5"/><circle cx="933.7" cy="373.6" r="5"/><circle cx="916.8" cy="373.3" r="5"/><circle cx="915.5" cy="374.9" r="5"/><circle cx="931.7" cy="369.9" r="5"/><circle cx="914.4" cy="367.9" r="5"/><circle cx="930.1" cy="371.0" r="5"/><circle cx="935.7" cy="375.0" r="5"/><circle cx="914.8" cy="372.6" r="5"/><circle cx="920.2" cy="373.7" r="5"/><circle cx="928.2" cy="375.6" r="5"/><circle cx="930.1" cy="370.1" r="5"/><circle cx="938.2" cy="374.6" r="5"/><circle cx="914.5" cy="369.6" r="5"/><circle cx="958.7" cy="368.6" r="5"/><circle cx="960.1" cy="370.9" r="5"/><circle cx="948.2" cy="371.9" r="5"/><circle cx="963.3" cy="372.1" r="5"/><circle cx="956.4" cy="370.3" r="5"/><circle cx="950.3" cy="373.1" r="5"/><circle cx="957.7" cy="368.5" r="5"/><circle cx="957.7" cy="371.2" r="5"/><circle cx="949.0" cy="368.1" r="5"/><circle cx="959.0" cy="375.0" r="5"/><circle cx="956.1" cy="372.4" r="5"/><circle cx="964.4" cy="374.3" r="5"/><circle cx="963.4" cy="374.6" r="5"/><circle cx="946.5" cy="372.7" r="5"/><circle cx="971.6" cy="373.6" r="5"/><circle cx="967.3" cy="372.4" r="5"/><circle cx="1001.1" cy="372.3" r="5"/><circle cx="980.3" cy="375.4" r="5"/><circle cx="979.4" cy="370.2" r="5"/><circle cx="992.8" cy="376.2" r="5"/><circle cx="992.9" cy="376.6" r="5"/><circle cx="999.9" cy="373.5" r="5"/><circle cx="992.4" cy="374.5" r="5"/><circle cx="988.3" cy="376.7" r="5"/><circle cx="992.8" cy="374.4" r="5"/><circle cx="990.8" cy="369.3" r="5"/><circle cx="994.7" cy="370.9" r="5"/><circle cx="987.4" cy="370.7" r="5"/><circle cx="1021.7" cy="368.0" r="5"/><circle cx="1025.1" cy="369.4" r="5"/><circle cx="1029.0" cy="371.9" r="5"/><circle cx="1033.2" cy="375.3" r="5"/><circle cx="1036.4" cy="375.1" r="5"/><circle cx="1016.6" cy="373.5" r="5"/><circle cx="1015.1" cy="375.5" r="5"/><circle cx="1019.6" cy="373.9" r="5"/><circle cx="1013.9" cy="375.7" r="5"/><circle cx="1018.5" cy="371.8" r="5"/><circle cx="1024.1" cy="374.1" r="5"/><circle cx="1055.1" cy="375.4" r="5"/><circle cx="1058.4" cy="375.7" r="5"/><circle cx="1059.9" cy="369.7" r="5"/><circle cx="1049.6" cy="373.0" r="5"/><circle cx="1045.1" cy="375.4" r="5"/><circle cx="1044.7" cy="374.2" r="5"/><circle cx="1063.0" cy="371.7" r="5"/><circle cx="1063.4" cy="368.7" r="5"/><circle cx="1050.0" cy="375.3" r="5"/><circle cx="1052.3" cy="370.3" r="5"/><circle cx="1102.9" cy="375.4" r="5"/><circle cx="1095.0" cy="368.2" r="5"/><circle cx="1096.8" cy="375.8" r="5"/><circle cx="1094.8" cy="368.6" r="5"/><circle cx="1093.3" cy="367.7" r="5"/><circle cx="1081.0" cy="373.7" r="5"/><circle cx="1098.3" cy="368.8" r="5"/><circle cx="926.7" cy="390.4" r="5"/><circle cx="936.6" cy="381.5" r="5"/><circle cx="914.0" cy="387.0" r="5"/><circle cx="935.7" cy="382.0" r="5"/><circle cx="932.4" cy="377.5" r="5"/><circle cx="913.5" cy="385.2" r="5"/><circle cx="920.0" cy="380.7" r="5"/><circle cx="928.7" cy="380.4" r="5"/><circle cx="969.2" cy="385.0" r="5"/><circle cx="949.2" cy="388.9" r="5"/><circle cx="968.8" cy="378.6" r="5"/><circle cx="971.3" cy="385.7" r="5"/><circle cx="961.9" cy="382.3" r="5"/><circle cx="961.1" cy="384.8" r="5"/><circle cx="965.6" cy="378.9" r="5"/><circle cx="954.7" cy="390.3" r="5"/><circle cx="955.5" cy="382.2" r="5"/><circle cx="958.2" cy="380.1" r="5"/><circle cx="995.7" cy="382.9" r="5"/><circle cx="982.0" cy="377.6" r="5"/><circle cx="1001.4" cy="383.5" r="5"/><circle cx="1000.2" cy="389.9" r="5"/><circle cx="999.3" cy="390.9" r="5"/><circle cx="1004.6" cy="390.5" r="5"/><circle cx="992.6" cy="379.7" r="5"/><circle cx="996.0" cy="379.3" r="5"/><circle cx="1013.2" cy="384.4" r="5"/><circle cx="1030.0" cy="387.2" r="5"/><circle cx="1026.4" cy="388.2" r="5"/><circle cx="1015.6" cy="380.0" r="5"/><circle cx="1030.2" cy="382.1" r="5"/><circle cx="1023.1" cy="387.3" r="5"/><circle cx="1013.5" cy="384.3" r="5"/><circle cx="1064.7" cy="387.9" r="5"/><circle cx="1058.9" cy="378.9" r="5"/><circle cx="1066.5" cy="388.0" r="5"/><circle cx="1060.3" cy="377.8" r="5"/><circle cx="1052.9" cy="382.3" r="5"/><circle cx="1054.3" cy="385.4" r="5"/><circle cx="1093.7" cy="383.1" r="5"/><circle cx="1083.7" cy="387.7" r="5"/><circle cx="1101.5" cy="380.6" r="5"/><circle cx="1098.4" cy="389.6" r="5"/><circle cx="1088.8" cy="385.6" r="5"/><circle cx="1082.2" cy="143.2" r="5"/><circle cx="915.8" cy="189.4" r="5"/><circle cx="937.1" cy="189.4" r="5"/><circle cx="1011.5" cy="196.5" r="5"/><circle cx="1015.8" cy="196.5" r="5"/><circle cx="1063.5" cy="196.5" r="5"/><circle cx="1069.4" cy="196.5" r="5"/><circle cx="954.5" cy="202.9" r="5"/><circle cx="963.9" cy="202.9" r="5"/><circle cx="981.3" cy="202.9" r="5"/><circle cx="997.7" cy="202.9" r="5"/><circle cx="996.5" cy="202.9" r="5"/><circle cx="998.4" cy="202.9" r="5"/><circle cx="1001.4" cy="202.9" r="5"/><circle cx="1011.8" cy="202.9" r="5"/><circle cx="1022.2" cy="202.9" r="5"/><circle cx="1021.2" cy="202.9" r="5"/><circle cx="1033.4" cy="202.9" r="5"/><circle cx="1184.3" cy="99.6" r="5"/><circle cx="1192.0" cy="99.6" r="5"/><circle cx="1109.6" cy="116.6" r="5"/><circle cx="1134.1" cy="116.6" r="5"/><circle cx="1144.1" cy="116.6" r="5"/><circle cx="1154.8" cy="116.6" r="5"/><circle cx="1178.3" cy="116.6" r="5"/><circle cx="1183.1" cy="116.6" r="5"/><circle cx="1183.8" cy="116.6" r="5"/><circle cx="1182.3" cy="116.6" r="5"/><circle cx="1185.8" cy="116.6" r="5"/><circle cx="1197.7" cy="116.6" r="5"/><circle cx="1200.4" cy="116.6" r="5"/><circle cx="1200.0" cy="116.6" r="5"/><circle cx="1117.6" cy="137.7" r="5"/><circle cx="1125.5" cy="137.7" r="5"/><circle cx="1100.2" cy="143.2" r="5"/><circle cx="1187.6" cy="208.9" r="5"/><circle cx="1195.6" cy="208.9" r="5"/><circle cx="918.8" cy="250.4" r="5"/><circle cx="930.9" cy="250.4" r="5"/><circle cx="1011.8" cy="250.4" r="5"/><circle cx="1014.0" cy="250.4" r="5"/><circle cx="1014.7" cy="250.4" r="5"/><circle cx="1015.5" cy="250.4" r="5"/><circle cx="1046.0" cy="246.5" r="5"/><circle cx="1066.1" cy="246.5" r="5"/><circle cx="979.5" cy="275.6" r="5"/><circle cx="995.0" cy="275.6" r="5"/><circle cx="1085.2" cy="291.6" r="5"/><circle cx="949.6" cy="298.3" r="5"/><circle cx="964.9" cy="298.3" r="5"/><circle cx="934.9" cy="305.5" r="5"/><circle cx="937.7" cy="305.5" r="5"/><circle cx="938.8" cy="305.5" r="5"/><circle cx="960.2" cy="305.5" r="5"/><circle cx="971.2" cy="305.5" r="5"/><circle cx="946.0" cy="321.8" r="5"/><circle cx="950.8" cy="321.8" r="5"/><circle cx="985.0" cy="321.8" r="5"/><circle cx="991.4" cy="321.8" r="5"/><circle cx="1020.7" cy="331.1" r="5"/><circle cx="1034.9" cy="331.1" r="5"/><circle cx="1051.0" cy="331.1" r="5"/><circle cx="1050.1" cy="331.1" r="5"/><circle cx="1050.1" cy="331.1" r="5"/><circle cx="1078.0" cy="331.1" r="5"/><circle cx="1084.3" cy="331.1" r="5"/><circle cx="1063.2" cy="336.3" r="5"/><circle cx="1063.3" cy="336.3" r="5"/><circle cx="1065.2" cy="336.3" r="5"/><circle cx="1066.2" cy="336.3" r="5"/><circle cx="1064.9" cy="336.3" r="5"/><circle cx="1083.2" cy="336.3" r="5"/><circle cx="1088.5" cy="336.3" r="5"/><circle cx="914.3" cy="340.7" r="5"/><circle cx="921.0" cy="340.7" r="5"/><circle cx="933.7" cy="340.7" r="5"/><circle cx="936.4" cy="340.7" r="5"/><circle cx="937.4" cy="340.7" r="5"/><circle cx="949.3" cy="340.7" r="5"/><circle cx="955.3" cy="340.7" r="5"/><circle cx="955.3" cy="340.7" r="5"/><circle cx="956.3" cy="340.7" r="5"/><circle cx="958.2" cy="340.7" r="5"/><circle cx="971.6" cy="340.7" r="5"/><circle cx="979.1" cy="340.7" r="5"/><circle cx="984.3" cy="340.7" r="5"/><circle cx="994.7" cy="340.7" r="5"/><circle cx="999.9" cy="340.7" r="5"/><circle cx="1014.0" cy="340.7" r="5"/><circle cx="1021.5" cy="340.7" r="5"/><circle cx="1017.8" cy="340.7" r="5"/><circle cx="1019.0" cy="340.7" r="5"/><circle cx="1021.7" cy="340.7" r="5"/><circle cx="1019.6" cy="340.7" r="5"/><circle cx="1025.2" cy="340.7" r="5"/><circle cx="1027.3" cy="340.7" r="5"/><circle cx="1026.5" cy="340.7" r="5"/><circle cx="1025.4" cy="340.7" r="5"/><circle cx="1031.2" cy="340.7" r="5"/><circle cx="1034.3" cy="340.7" r="5"/><circle cx="1031.7" cy="340.7" r="5"/><circle cx="1029.5" cy="340.7" r="5"/><circle cx="1030.1" cy="340.7" r="5"/><circle cx="1034.3" cy="340.7" r="5"/><circle cx="1034.9" cy="340.7" r="5"/><circle cx="1037.9" cy="340.7" r="5"/><circle cx="1050.5" cy="340.7" r="5"/><circle cx="1054.1" cy="340.7" r="5"/><circle cx="1047.9" cy="340.7" r="5"/><circle cx="1053.7" cy="340.7" r="5"/><circle cx="1054.7" cy="340.7" r="5"/><circle cx="1050.7" cy="340.7" r="5"/><circle cx="1051.2" cy="340.7" r="5"/><circle cx="1047.8" cy="340.7" r="5"/><circle cx="1060.9" cy="340.7" r="5"/><circle cx="1070.6" cy="340.7" r="5"/><circle cx="1084.7" cy="340.7" r="5"/><circle cx="926.2" cy="352.6" r="5"/><circle cx="936.4" cy="352.6" r="5"/><circle cx="1015.2" cy="352.6" r="5"/><circle cx="1025.2" cy="352.6" r="5"/><circle cx="1044.6" cy="352.6" r="5"/><circle cx="1059.4" cy="352.6" r="5"/><circle cx="1079.5" cy="352.6" r="5"/><circle cx="1088.5" cy="352.6" r="5"/><circle cx="1088.5" cy="352.6" r="5"/><circle cx="1088.5" cy="352.6" r="5"/><circle cx="1101.4" cy="291.6" r="5"/><circle cx="1111.4" cy="291.6" r="5"/><circle cx="1111.6" cy="291.6" r="5"/><circle cx="1110.2" cy="291.6" r="5"/><circle cx="1114.3" cy="291.6" r="5"/><circle cx="1119.1" cy="291.6" r="5"/><circle cx="1117.0" cy="303.1" r="5"/><circle cx="1124.0" cy="303.1" r="5"/><circle cx="1095.7" cy="331.1" r="5"/><circle cx="1096.9" cy="331.1" r="5"/><circle cx="1098.7" cy="331.1" r="5"/><circle cx="1114.0" cy="331.1" r="5"/><circle cx="1114.1" cy="331.1" r="5"/><circle cx="1113.8" cy="331.1" r="5"/><circle cx="1096.5" cy="351.2" r="5"/><circle cx="1097.2" cy="351.2" r="5"/><circle cx="1096.6" cy="351.2" r="5"/><circle cx="1101.0" cy="351.2" r="5"/><circle cx="1156.0" cy="358.8" r="5"/><circle cx="1164.6" cy="358.8" r="5"/><circle cx="1184.0" cy="358.8" r="5"/><circle cx="1192.2" cy="358.8" r="5"/><circle cx="1179.8" cy="364.8" r="5"/><circle cx="1188.0" cy="364.8" r="5"/><circle cx="1120.3" cy="366.7" r="5"/><circle cx="1126.7" cy="366.7" r="5"/><circle cx="1126.7" cy="366.7" r="5"/><circle cx="1127.2" cy="366.7" r="5"/><circle cx="1134.0" cy="366.7" r="5"/><circle cx="1112.1" cy="372.2" r="5"/><circle cx="1117.3" cy="372.2" r="5"/><circle cx="1120.3" cy="372.2" r="5"/><circle cx="1133.7" cy="372.2" r="5"/><circle cx="1160.5" cy="372.2" r="5"/><circle cx="1165.7" cy="372.2" r="5"/><circle cx="1161.8" cy="372.2" r="5"/><circle cx="1166.0" cy="372.2" r="5"/><circle cx="1164.9" cy="372.2" r="5"/><circle cx="1167.9" cy="372.2" r="5"/><circle cx="1179.1" cy="372.2" r="5"/><circle cx="1188.8" cy="372.2" r="5"/><circle cx="1192.9" cy="372.2" r="5"/><circle cx="1192.6" cy="372.2" r="5"/><circle cx="1186.7" cy="372.2" r="5"/><circle cx="1188.5" cy="372.2" r="5"/><circle cx="1197.7" cy="372.2" r="5"/><circle cx="1187.3" cy="372.2" r="5"/><circle cx="1199.2" cy="372.2" r="5"/><circle cx="1098.7" cy="375.9" r="5"/><circle cx="1109.9" cy="375.9" r="5"/><circle cx="1133.4" cy="375.9" r="5"/><circle cx="1145.6" cy="378.2" r="5"/><circle cx="1149.3" cy="378.2" r="5"/><circle cx="1112.1" cy="387.1" r="5"/><circle cx="1117.3" cy="387.1" r="5"/><circle cx="1127.7" cy="387.1" r="5"/><circle cx="1134.0" cy="387.1" r="5"/><circle cx="1147.1" cy="387.1" r="5"/><circle cx="1154.5" cy="387.1" r="5"/><circle cx="1101.7" cy="391.5" r="5"/><circle cx="1096.5" cy="400.5" r="5"/><circle cx="1099.5" cy="400.5" r="5"/><circle cx="1116.3" cy="400.5" r="5"/><circle cx="1115.4" cy="400.5" r="5"/><circle cx="1116.1" cy="400.5" r="5"/><circle cx="1156.0" cy="400.5" r="5"/><circle cx="1156.8" cy="400.5" r="5"/><circle cx="1157.5" cy="400.5" r="5"/><circle cx="1177.3" cy="400.5" r="5"/><circle cx="1178.3" cy="400.5" r="5"/><circle cx="1177.2" cy="400.5" r="5"/><circle cx="1190.5" cy="400.5" r="5"/><circle cx="1117.3" cy="409.4" r="5"/><circle cx="1123.3" cy="409.4" r="5"/><circle cx="1145.6" cy="409.4" r="5"/><circle cx="1167.9" cy="409.4" r="5"/><circle cx="1188.0" cy="409.4" r="5"/><circle cx="1187.6" cy="409.4" r="5"/><circle cx="1187.3" cy="409.4" r="5"/><circle cx="1199.2" cy="420.6" r="5"/></g><path d="M926.2 427.5 L937.1 427.4 L948.0 427.3 L959.0 427.2 L969.9 427.1 L980.8 427.0 L991.7 426.9 L1002.6 426.9 L1013.5 426.9 L1024.4 427.0 L1035.4 427.1 L1046.3 427.4 L1057.2 427.8 L1068.1 428.3 L1079.0 428.8 L1089.9 429.2 L1100.8 429.7 L1111.7 430.1 L1122.7 430.4 L1133.6 430.6 L1144.5 430.6 L1155.4 430.3 L1166.3 429.9 L1177.2 429.4 L1188.1 428.9" fill="none" stroke="#2A49FE" stroke-width="6.2" stroke-linejoin="round"/>
</g>
<g clip-path="url(#c10)">
<rect x="88.2" y="475.0" width="389.0" height="400.8" fill="#E6E6E6"/>
<path d="M88.2 850.06h389.0M88.2 772.74h389.0M88.2 695.41h389.0M88.2 618.09h389.0M88.2 540.76h389.0M135.39 475.0v400.8M233.61 475.0v400.8M331.83 475.0v400.8M430.05 475.0v400.8" stroke="#fff" stroke-width="1.42" fill="none"/>
<path d="M88.2 811.40h389.0M88.2 734.08h389.0M88.2 656.75h389.0M88.2 579.43h389.0M88.2 502.10h389.0M184.50 475.0v400.8M282.72 475.0v400.8M380.94 475.0v400.8" stroke="#fff" stroke-width="2.85" fill="none"/>
<g class="p"><path d="M100.5 837.1Q100.5 826.1 111.5 826.1H124.0Q135.0 826.1 135.0 837.1V856.4Q135.0 856.5 134.9 856.5H100.6Q100.5 856.5 100.5 856.4Z"/><path d="M100.5 853.5Q100.5 848.5 105.5 848.5H132.5Q137.5 848.5 137.5 853.5V856.0Q137.5 862.0 131.5 862.0H106.5Q100.5 862.0 100.5 856.0Z"/><path d="M135.8 834.8Q135.8 823.8 146.8 823.8H156.8Q167.8 823.8 167.8 834.8V856.4Q167.8 856.5 167.7 856.5H135.9Q135.8 856.5 135.8 856.4Z"/><path d="M133.3 853.5Q133.3 848.5 138.3 848.5H165.3Q170.3 848.5 170.3 853.5V856.0Q170.3 862.0 164.3 862.0H139.3Q133.3 862.0 133.3 856.0Z"/><path d="M168.5 831.7Q168.5 820.7 179.5 820.7H189.5Q200.5 820.7 200.5 831.7V856.4Q200.5 856.5 200.4 856.5H168.6Q168.5 856.5 168.5 856.4Z"/><path d="M166.0 853.5Q166.0 848.5 171.0 848.5H198.0Q203.0 848.5 203.0 853.5V856.0Q203.0 862.0 197.0 862.0H172.0Q166.0 862.0 166.0 856.0Z"/><path d="M201.2 834.8Q201.2 823.8 212.2 823.8H222.2Q233.2 823.8 233.2 834.8V856.4Q233.2 856.5 233.1 856.5H201.3Q201.2 856.5 201.2 856.4Z"/><path d="M198.7 853.5Q198.7 848.5 203.7 848.5H230.7Q235.7 848.5 235.7 853.5V856.0Q235.7 862.0 229.7 862.0H204.7Q198.7 862.0 198.7 856.0Z"/><path d="M234.0 831.7Q234.0 820.7 245.0 820.7H255.0Q266.0 820.7 266.0 831.7V856.4Q266.0 856.5 265.9 856.5H234.1Q234.0 856.5 234.0 856.4Z"/><path d="M231.5 853.5Q231.5 848.5 236.5 848.5H263.5Q268.5 848.5 268.5 853.5V856.0Q268.5 862.0 262.5 862.0H237.5Q231.5 862.0 231.5 856.0Z"/><path d="M266.7 836.3Q266.7 825.3 277.7 825.3H287.7Q298.7 825.3 298.7 836.3V858.0Q298.7 858.1 298.6 858.1H266.8Q266.7 858.1 266.7 858.0Z"/><path d="M264.2 855.1Q264.2 850.1 269.2 850.1H296.2Q301.2 850.1 301.2 855.1V856.0Q301.2 862.0 295.2 862.0H270.2Q264.2 862.0 264.2 856.0Z"/><path d="M299.5 842.5Q299.5 831.5 310.5 831.5H320.5Q331.5 831.5 331.5 842.5V858.7Q331.5 858.8 331.4 858.8H299.6Q299.5 858.8 299.5 858.7Z"/><path d="M297.0 855.8Q297.0 850.8 302.0 850.8H329.0Q334.0 850.8 334.0 855.8V856.0Q334.0 862.0 328.0 862.0H303.0Q297.0 862.0 297.0 856.0Z"/><path d="M332.2 847.1Q332.2 836.1 343.2 836.1H353.2Q364.2 836.1 364.2 847.1V859.5Q364.2 859.6 364.1 859.6H332.3Q332.2 859.6 332.2 859.5Z"/><path d="M329.7 856.6Q329.7 851.6 334.7 851.6H361.7Q366.7 851.6 366.7 856.6V856.0Q366.7 862.0 360.7 862.0H335.7Q329.7 862.0 329.7 856.0Z"/><path d="M364.9 849.5Q364.9 838.5 375.9 838.5H385.9Q396.9 838.5 396.9 849.5V860.3Q396.9 860.4 396.8 860.4H365.0Q364.9 860.4 364.9 860.3Z"/><path d="M362.4 857.4Q362.4 852.4 367.4 852.4H394.4Q399.4 852.4 399.4 857.4V856.0Q399.4 862.0 393.4 862.0H368.4Q362.4 862.0 362.4 856.0Z"/><path d="M397.7 849.5Q397.7 838.5 408.7 838.5H418.7Q429.7 838.5 429.7 849.5V860.3Q429.7 860.4 429.6 860.4H397.8Q397.7 860.4 397.7 860.3Z"/><path d="M395.2 857.4Q395.2 852.4 400.2 852.4H427.2Q432.2 852.4 432.2 857.4V856.0Q432.2 862.0 426.2 862.0H401.2Q395.2 862.0 395.2 856.0Z"/><path d="M430.4 841.0Q430.4 830.0 441.4 830.0H453.9Q464.9 830.0 464.9 841.0V859.5Q464.9 859.6 464.8 859.6H430.5Q430.4 859.6 430.4 859.5Z"/><path d="M427.9 856.6Q427.9 851.6 432.9 851.6H459.9Q464.9 851.6 464.9 856.6V856.0Q464.9 862.0 458.9 862.0H433.9Q427.9 862.0 427.9 856.0Z"/></g><g class="k"><circle cx="105.7" cy="858.0" r="5.6"/><circle cx="112.0" cy="858.0" r="5.6"/><circle cx="119.0" cy="857.3" r="5.6"/><circle cx="125.1" cy="857.4" r="5.6"/><circle cx="131.2" cy="857.8" r="5.6"/><circle cx="108.2" cy="839.8" r="5.6"/><circle cx="115.8" cy="830.8" r="5.6"/><circle cx="118.9" cy="832.2" r="5.6"/><circle cx="123.5" cy="833.3" r="5.6"/><circle cx="127.8" cy="838.1" r="5.6"/><circle cx="106.5" cy="835.1" r="5.6"/><circle cx="105.1" cy="841.3" r="5.6"/><circle cx="105.6" cy="847.5" r="5.6"/><circle cx="105.2" cy="853.9" r="5.6"/><circle cx="138.1" cy="857.5" r="5.6"/><circle cx="145.4" cy="857.5" r="5.6"/><circle cx="151.5" cy="858.0" r="5.6"/><circle cx="157.4" cy="857.8" r="5.6"/><circle cx="164.0" cy="857.8" r="5.6"/><circle cx="141.2" cy="834.5" r="5.6"/><circle cx="147.5" cy="828.9" r="5.6"/><circle cx="150.4" cy="828.0" r="5.6"/><circle cx="157.2" cy="829.4" r="5.6"/><circle cx="161.6" cy="835.0" r="5.6"/><circle cx="171.3" cy="857.3" r="5.6"/><circle cx="177.9" cy="857.5" r="5.6"/><circle cx="185.4" cy="857.9" r="5.6"/><circle cx="191.7" cy="857.6" r="5.6"/><circle cx="197.9" cy="857.7" r="5.6"/><circle cx="175.4" cy="833.5" r="5.6"/><circle cx="180.6" cy="826.6" r="5.6"/><circle cx="184.5" cy="824.2" r="5.6"/><circle cx="190.3" cy="828.4" r="5.6"/><circle cx="194.3" cy="831.5" r="5.6"/><circle cx="203.5" cy="858.0" r="5.6"/><circle cx="210.3" cy="857.6" r="5.6"/><circle cx="216.6" cy="857.9" r="5.6"/><circle cx="223.6" cy="857.3" r="5.6"/><circle cx="230.6" cy="857.4" r="5.6"/><circle cx="206.4" cy="835.7" r="5.6"/><circle cx="211.7" cy="829.9" r="5.6"/><circle cx="218.0" cy="828.7" r="5.6"/><circle cx="222.2" cy="830.7" r="5.6"/><circle cx="226.2" cy="835.1" r="5.6"/><circle cx="236.3" cy="857.4" r="5.6"/><circle cx="242.9" cy="857.3" r="5.6"/><circle cx="249.6" cy="857.9" r="5.6"/><circle cx="256.4" cy="857.8" r="5.6"/><circle cx="263.4" cy="857.7" r="5.6"/><circle cx="241.1" cy="832.1" r="5.6"/><circle cx="244.0" cy="827.7" r="5.6"/><circle cx="248.9" cy="824.8" r="5.6"/><circle cx="256.1" cy="827.6" r="5.6"/><circle cx="259.2" cy="833.8" r="5.6"/><circle cx="270.5" cy="857.8" r="5.6"/><circle cx="276.7" cy="857.4" r="5.6"/><circle cx="281.8" cy="857.3" r="5.6"/><circle cx="289.5" cy="857.5" r="5.6"/><circle cx="295.0" cy="857.9" r="5.6"/><circle cx="274.7" cy="835.8" r="5.6"/><circle cx="279.4" cy="833.2" r="5.6"/><circle cx="284.0" cy="830.0" r="5.6"/><circle cx="286.2" cy="831.5" r="5.6"/><circle cx="292.0" cy="837.3" r="5.6"/><circle cx="302.3" cy="857.6" r="5.6"/><circle cx="309.0" cy="857.4" r="5.6"/><circle cx="315.2" cy="857.8" r="5.6"/><circle cx="322.0" cy="857.9" r="5.6"/><circle cx="328.5" cy="857.4" r="5.6"/><circle cx="307.5" cy="843.7" r="5.6"/><circle cx="311.3" cy="837.3" r="5.6"/><circle cx="314.3" cy="837.8" r="5.6"/><circle cx="319.9" cy="839.0" r="5.6"/><circle cx="324.2" cy="842.4" r="5.6"/><circle cx="335.4" cy="857.9" r="5.6"/><circle cx="341.5" cy="857.9" r="5.6"/><circle cx="348.7" cy="857.4" r="5.6"/><circle cx="354.9" cy="857.9" r="5.6"/><circle cx="360.8" cy="857.6" r="5.6"/><circle cx="339.9" cy="849.5" r="5.6"/><circle cx="342.2" cy="842.2" r="5.6"/><circle cx="347.5" cy="841.8" r="5.6"/><circle cx="352.4" cy="842.5" r="5.6"/><circle cx="356.6" cy="847.7" r="5.6"/><circle cx="368.1" cy="857.9" r="5.6"/><circle cx="375.1" cy="857.6" r="5.6"/><circle cx="380.5" cy="857.5" r="5.6"/><circle cx="387.2" cy="857.3" r="5.6"/><circle cx="393.1" cy="857.8" r="5.6"/><circle cx="372.3" cy="852.2" r="5.6"/><circle cx="377.1" cy="845.6" r="5.6"/><circle cx="380.5" cy="844.4" r="5.6"/><circle cx="385.7" cy="843.3" r="5.6"/><circle cx="390.9" cy="852.1" r="5.6"/><circle cx="399.7" cy="857.7" r="5.6"/><circle cx="407.3" cy="857.8" r="5.6"/><circle cx="413.3" cy="857.4" r="5.6"/><circle cx="420.7" cy="857.9" r="5.6"/><circle cx="427.1" cy="857.4" r="5.6"/><circle cx="404.8" cy="849.3" r="5.6"/><circle cx="408.4" cy="845.2" r="5.6"/><circle cx="412.5" cy="844.5" r="5.6"/><circle cx="419.8" cy="843.2" r="5.6"/><circle cx="423.4" cy="851.0" r="5.6"/><circle cx="434.2" cy="858.0" r="5.6"/><circle cx="439.8" cy="857.5" r="5.6"/><circle cx="445.8" cy="857.5" r="5.6"/><circle cx="453.2" cy="857.4" r="5.6"/><circle cx="459.0" cy="857.6" r="5.6"/><circle cx="438.2" cy="841.0" r="5.6"/><circle cx="443.2" cy="834.9" r="5.6"/><circle cx="445.9" cy="834.9" r="5.6"/><circle cx="449.6" cy="836.4" r="5.6"/><circle cx="455.9" cy="840.6" r="5.6"/><circle cx="458.8" cy="839.0" r="5.6"/><circle cx="459.3" cy="844.9" r="5.6"/><circle cx="459.4" cy="850.4" r="5.6"/></g><g class="q"><circle cx="110" cy="825" r="5"/><circle cx="126" cy="822" r="5"/><circle cx="125" cy="825" r="5"/><circle cx="127" cy="824" r="5"/><circle cx="108" cy="825" r="5"/><circle cx="107" cy="819" r="5"/><circle cx="131" cy="826" r="5"/><circle cx="114" cy="821" r="5"/><circle cx="111" cy="828" r="5"/><circle cx="111" cy="826" r="5"/><circle cx="122" cy="819" r="5"/><circle cx="111" cy="819" r="5"/><circle cx="120" cy="820" r="5"/><circle cx="127" cy="828" r="5"/><circle cx="123" cy="829" r="5"/><circle cx="106" cy="825" r="5"/><circle cx="126" cy="823" r="5"/><circle cx="111" cy="820" r="5"/><circle cx="130" cy="827" r="5"/><circle cx="118" cy="823" r="5"/><circle cx="130" cy="828" r="5"/><circle cx="120" cy="819" r="5"/><circle cx="155" cy="819" r="5"/><circle cx="159" cy="822" r="5"/><circle cx="146" cy="821" r="5"/><circle cx="152" cy="824" r="5"/><circle cx="161" cy="823" r="5"/><circle cx="151" cy="819" r="5"/><circle cx="160" cy="817" r="5"/><circle cx="156" cy="825" r="5"/><circle cx="161" cy="817" r="5"/><circle cx="157" cy="819" r="5"/><circle cx="152" cy="822" r="5"/><circle cx="154" cy="826" r="5"/><circle cx="156" cy="818" r="5"/><circle cx="143" cy="819" r="5"/><circle cx="157" cy="826" r="5"/><circle cx="140" cy="821" r="5"/><circle cx="144" cy="824" r="5"/><circle cx="155" cy="820" r="5"/><circle cx="158" cy="821" r="5"/><circle cx="147" cy="827" r="5"/><circle cx="142" cy="825" r="5"/><circle cx="152" cy="819" r="5"/><circle cx="177" cy="820" r="5"/><circle cx="196" cy="820" r="5"/><circle cx="190" cy="817" r="5"/><circle cx="189" cy="819" r="5"/><circle cx="186" cy="816" r="5"/><circle cx="176" cy="815" r="5"/><circle cx="194" cy="824" r="5"/><circle cx="177" cy="822" r="5"/><circle cx="174" cy="823" r="5"/><circle cx="188" cy="823" r="5"/><circle cx="173" cy="814" r="5"/><circle cx="182" cy="818" r="5"/><circle cx="184" cy="821" r="5"/><circle cx="183" cy="822" r="5"/><circle cx="187" cy="822" r="5"/><circle cx="175" cy="822" r="5"/><circle cx="182" cy="814" r="5"/><circle cx="187" cy="813" r="5"/><circle cx="182" cy="822" r="5"/><circle cx="190" cy="822" r="5"/><circle cx="198" cy="820" r="5"/><circle cx="179" cy="821" r="5"/><circle cx="212" cy="817" r="5"/><circle cx="230" cy="821" r="5"/><circle cx="210" cy="828" r="5"/><circle cx="206" cy="824" r="5"/><circle cx="221" cy="820" r="5"/><circle cx="226" cy="818" r="5"/><circle cx="213" cy="820" r="5"/><circle cx="216" cy="819" r="5"/><circle cx="209" cy="816" r="5"/><circle cx="205" cy="820" r="5"/><circle cx="213" cy="818" r="5"/><circle cx="208" cy="817" r="5"/><circle cx="204" cy="819" r="5"/><circle cx="223" cy="822" r="5"/><circle cx="209" cy="823" r="5"/><circle cx="216" cy="825" r="5"/><circle cx="208" cy="818" r="5"/><circle cx="219" cy="824" r="5"/><circle cx="221" cy="820" r="5"/><circle cx="208" cy="821" r="5"/><circle cx="219" cy="826" r="5"/><circle cx="212" cy="818" r="5"/><circle cx="252" cy="822" r="5"/><circle cx="247" cy="819" r="5"/><circle cx="255" cy="815" r="5"/><circle cx="239" cy="824" r="5"/><circle cx="248" cy="824" r="5"/><circle cx="241" cy="823" r="5"/><circle cx="239" cy="817" r="5"/><circle cx="239" cy="818" r="5"/><circle cx="262" cy="823" r="5"/><circle cx="257" cy="818" r="5"/><circle cx="241" cy="814" r="5"/><circle cx="256" cy="820" r="5"/><circle cx="260" cy="823" r="5"/><circle cx="259" cy="815" r="5"/><circle cx="240" cy="814" r="5"/><circle cx="257" cy="814" r="5"/><circle cx="244" cy="816" r="5"/><circle cx="257" cy="821" r="5"/><circle cx="238" cy="824" r="5"/><circle cx="250" cy="818" r="5"/><circle cx="240" cy="817" r="5"/><circle cx="238" cy="819" r="5"/><circle cx="283" cy="827" r="5"/><circle cx="271" cy="819" r="5"/><circle cx="292" cy="822" r="5"/><circle cx="270" cy="823" r="5"/><circle cx="295" cy="820" r="5"/><circle cx="288" cy="829" r="5"/><circle cx="285" cy="826" r="5"/><circle cx="295" cy="829" r="5"/><circle cx="275" cy="819" r="5"/><circle cx="273" cy="826" r="5"/><circle cx="278" cy="819" r="5"/><circle cx="288" cy="818" r="5"/><circle cx="275" cy="828" r="5"/><circle cx="279" cy="820" r="5"/><circle cx="286" cy="818" r="5"/><circle cx="288" cy="828" r="5"/><circle cx="278" cy="827" r="5"/><circle cx="277" cy="821" r="5"/><circle cx="281" cy="820" r="5"/><circle cx="270" cy="819" r="5"/><circle cx="274" cy="821" r="5"/><circle cx="292" cy="829" r="5"/><circle cx="317" cy="824" r="5"/><circle cx="303" cy="830" r="5"/><circle cx="314" cy="831" r="5"/><circle cx="307" cy="833" r="5"/><circle cx="309" cy="833" r="5"/><circle cx="310" cy="825" r="5"/><circle cx="327" cy="832" r="5"/><circle cx="303" cy="832" r="5"/><circle cx="325" cy="833" r="5"/><circle cx="320" cy="834" r="5"/><circle cx="312" cy="833" r="5"/><circle cx="319" cy="831" r="5"/><circle cx="323" cy="829" r="5"/><circle cx="313" cy="835" r="5"/><circle cx="357" cy="840" r="5"/><circle cx="348" cy="829" r="5"/><circle cx="356" cy="836" r="5"/><circle cx="359" cy="837" r="5"/><circle cx="350" cy="833" r="5"/><circle cx="354" cy="837" r="5"/><circle cx="346" cy="836" r="5"/><circle cx="359" cy="831" r="5"/><circle cx="377" cy="833" r="5"/><circle cx="384" cy="839" r="5"/><circle cx="381" cy="841" r="5"/><circle cx="373" cy="841" r="5"/><circle cx="370" cy="835" r="5"/><circle cx="390" cy="833" r="5"/><circle cx="374" cy="831" r="5"/><circle cx="377" cy="834" r="5"/><circle cx="416" cy="837" r="5"/><circle cx="419" cy="832" r="5"/><circle cx="419" cy="836" r="5"/><circle cx="423" cy="834" r="5"/><circle cx="410" cy="831" r="5"/><circle cx="411" cy="842" r="5"/><circle cx="426" cy="831" r="5"/><circle cx="415" cy="834" r="5"/><circle cx="452" cy="833" r="5"/><circle cx="454" cy="827" r="5"/><circle cx="459" cy="828" r="5"/><circle cx="441" cy="825" r="5"/><circle cx="448" cy="824" r="5"/><circle cx="434" cy="826" r="5"/><circle cx="457" cy="832" r="5"/><circle cx="436" cy="828" r="5"/><circle cx="319" cy="823" r="5"/><circle cx="316" cy="827" r="5"/><circle cx="321" cy="818" r="5"/><circle cx="316" cy="826" r="5"/><circle cx="328" cy="829" r="5"/><circle cx="317" cy="820" r="5"/><circle cx="323" cy="821" r="5"/><circle cx="320" cy="825" r="5"/><circle cx="360" cy="836" r="5"/><circle cx="346" cy="830" r="5"/><circle cx="354" cy="832" r="5"/><circle cx="340" cy="830" r="5"/><circle cx="352" cy="829" r="5"/><circle cx="358" cy="830" r="5"/><circle cx="340" cy="827" r="5"/><circle cx="345" cy="836" r="5"/><circle cx="346" cy="835" r="5"/><circle cx="352" cy="824" r="5"/><circle cx="354" cy="823" r="5"/><circle cx="339" cy="825" r="5"/><circle cx="355" cy="833" r="5"/><circle cx="348" cy="834" r="5"/><circle cx="376" cy="831" r="5"/><circle cx="378" cy="833" r="5"/><circle cx="386" cy="829" r="5"/><circle cx="371" cy="831" r="5"/><circle cx="388" cy="838" r="5"/><circle cx="387" cy="838" r="5"/><circle cx="379" cy="833" r="5"/><circle cx="368" cy="837" r="5"/><circle cx="385" cy="835" r="5"/><circle cx="381" cy="836" r="5"/><circle cx="384" cy="825" r="5"/><circle cx="388" cy="833" r="5"/><circle cx="393" cy="834" r="5"/><circle cx="375" cy="833" r="5"/><circle cx="426" cy="833" r="5"/><circle cx="408" cy="831" r="5"/><circle cx="417" cy="828" r="5"/><circle cx="419" cy="829" r="5"/><circle cx="411" cy="832" r="5"/><circle cx="426" cy="832" r="5"/><circle cx="421" cy="833" r="5"/><circle cx="401" cy="833" r="5"/><circle cx="414" cy="833" r="5"/><circle cx="406" cy="836" r="5"/><circle cx="402" cy="829" r="5"/><circle cx="414" cy="827" r="5"/><circle cx="423" cy="828" r="5"/><circle cx="421" cy="826" r="5"/><circle cx="457" cy="819" r="5"/><circle cx="457" cy="825" r="5"/><circle cx="459" cy="818" r="5"/><circle cx="455" cy="818" r="5"/><circle cx="453" cy="822" r="5"/><circle cx="447" cy="817" r="5"/><circle cx="441" cy="821" r="5"/><circle cx="458" cy="826" r="5"/><circle cx="437" cy="826" r="5"/><circle cx="445" cy="823" r="5"/><circle cx="439" cy="827" r="5"/><circle cx="437" cy="823" r="5"/><circle cx="107" cy="838" r="5"/><circle cx="106" cy="830" r="5"/><circle cx="107" cy="834" r="5"/><circle cx="131" cy="833" r="5"/><circle cx="132" cy="851" r="5"/><circle cx="132" cy="846" r="5"/><circle cx="139" cy="836" r="5"/><circle cx="139" cy="830" r="5"/><circle cx="138" cy="836" r="5"/><circle cx="165" cy="850" r="5"/><circle cx="165" cy="846" r="5"/><circle cx="164" cy="852" r="5"/><circle cx="172" cy="831" r="5"/><circle cx="171" cy="845" r="5"/><circle cx="172" cy="839" r="5"/><circle cx="198" cy="849" r="5"/><circle cx="197" cy="838" r="5"/><circle cx="197" cy="832" r="5"/><circle cx="205" cy="841" r="5"/><circle cx="205" cy="850" r="5"/><circle cx="205" cy="831" r="5"/><circle cx="230" cy="845" r="5"/><circle cx="229" cy="835" r="5"/><circle cx="231" cy="828" r="5"/><circle cx="237" cy="842" r="5"/><circle cx="237" cy="847" r="5"/><circle cx="238" cy="838" r="5"/><circle cx="262" cy="838" r="5"/><circle cx="263" cy="842" r="5"/><circle cx="263" cy="837" r="5"/><circle cx="270" cy="841" r="5"/><circle cx="270" cy="837" r="5"/><circle cx="270" cy="842" r="5"/><circle cx="296" cy="845" r="5"/><circle cx="295" cy="830" r="5"/><circle cx="296" cy="841" r="5"/><circle cx="303" cy="843" r="5"/><circle cx="302" cy="854" r="5"/><circle cx="303" cy="840" r="5"/><circle cx="328" cy="846" r="5"/><circle cx="328" cy="836" r="5"/><circle cx="329" cy="846" r="5"/><circle cx="335" cy="854" r="5"/><circle cx="335" cy="846" r="5"/><circle cx="335" cy="842" r="5"/><circle cx="361" cy="842" r="5"/><circle cx="360" cy="855" r="5"/><circle cx="361" cy="852" r="5"/><circle cx="368" cy="845" r="5"/><circle cx="368" cy="851" r="5"/><circle cx="368" cy="854" r="5"/><circle cx="394" cy="854" r="5"/><circle cx="394" cy="844" r="5"/><circle cx="393" cy="848" r="5"/><circle cx="401" cy="846" r="5"/><circle cx="401" cy="845" r="5"/><circle cx="401" cy="854" r="5"/><circle cx="426" cy="843" r="5"/><circle cx="426" cy="853" r="5"/><circle cx="426" cy="847" r="5"/><circle cx="434" cy="839" r="5"/><circle cx="433" cy="834" r="5"/><circle cx="434" cy="845" r="5"/><circle cx="459" cy="838" r="5"/><circle cx="460" cy="849" r="5"/><circle cx="459" cy="854" r="5"/></g><g class="p"><circle cx="109.6" cy="817.6" r="5"/><circle cx="110.4" cy="814.6" r="5"/><circle cx="122.2" cy="819.0" r="5"/><circle cx="132.1" cy="818.4" r="5"/><circle cx="129.7" cy="818.2" r="5"/><circle cx="120.6" cy="815.1" r="5"/><circle cx="121.1" cy="817.8" r="5"/><circle cx="126.6" cy="814.7" r="5"/><circle cx="120.6" cy="816.2" r="5"/><circle cx="113.3" cy="817.0" r="5"/><circle cx="125.2" cy="813.8" r="5"/><circle cx="132.0" cy="813.6" r="5"/><circle cx="131.9" cy="817.9" r="5"/><circle cx="113.2" cy="810.7" r="5"/><circle cx="117.1" cy="815.2" r="5"/><circle cx="128.7" cy="820.1" r="5"/><circle cx="109.0" cy="816.4" r="5"/><circle cx="111.2" cy="820.8" r="5"/><circle cx="124.6" cy="815.5" r="5"/><circle cx="117.8" cy="814.5" r="5"/><circle cx="113.9" cy="817.2" r="5"/><circle cx="114.7" cy="814.5" r="5"/><circle cx="150.7" cy="812.9" r="5"/><circle cx="153.0" cy="813.0" r="5"/><circle cx="139.9" cy="810.7" r="5"/><circle cx="162.5" cy="818.4" r="5"/><circle cx="158.1" cy="813.0" r="5"/><circle cx="158.1" cy="819.0" r="5"/><circle cx="139.6" cy="813.2" r="5"/><circle cx="153.2" cy="818.0" r="5"/><circle cx="159.0" cy="818.1" r="5"/><circle cx="162.0" cy="810.5" r="5"/><circle cx="157.6" cy="809.9" r="5"/><circle cx="146.3" cy="812.5" r="5"/><circle cx="139.2" cy="811.0" r="5"/><circle cx="143.4" cy="818.6" r="5"/><circle cx="158.6" cy="818.5" r="5"/><circle cx="155.5" cy="808.7" r="5"/><circle cx="152.8" cy="813.2" r="5"/><circle cx="158.6" cy="811.1" r="5"/><circle cx="151.8" cy="818.6" r="5"/><circle cx="164.5" cy="811.2" r="5"/><circle cx="151.2" cy="811.9" r="5"/><circle cx="145.2" cy="816.6" r="5"/><circle cx="172.4" cy="811.7" r="5"/><circle cx="186.2" cy="814.9" r="5"/><circle cx="176.3" cy="811.8" r="5"/><circle cx="171.4" cy="807.3" r="5"/><circle cx="175.6" cy="806.2" r="5"/><circle cx="186.3" cy="812.7" r="5"/><circle cx="173.3" cy="809.2" r="5"/><circle cx="172.9" cy="812.4" r="5"/><circle cx="197.5" cy="807.1" r="5"/><circle cx="190.0" cy="809.7" r="5"/><circle cx="187.6" cy="808.0" r="5"/><circle cx="194.4" cy="815.0" r="5"/><circle cx="194.9" cy="805.5" r="5"/><circle cx="186.7" cy="812.5" r="5"/><circle cx="172.8" cy="812.3" r="5"/><circle cx="172.3" cy="808.7" r="5"/><circle cx="187.0" cy="808.1" r="5"/><circle cx="194.2" cy="812.6" r="5"/><circle cx="191.0" cy="808.0" r="5"/><circle cx="186.0" cy="815.4" r="5"/><circle cx="226.8" cy="813.2" r="5"/><circle cx="216.3" cy="809.9" r="5"/><circle cx="207.2" cy="818.8" r="5"/><circle cx="221.6" cy="811.4" r="5"/><circle cx="218.0" cy="813.1" r="5"/><circle cx="224.4" cy="810.2" r="5"/><circle cx="221.1" cy="811.2" r="5"/><circle cx="217.5" cy="817.3" r="5"/><circle cx="225.1" cy="818.6" r="5"/><circle cx="208.6" cy="813.0" r="5"/><circle cx="213.8" cy="809.5" r="5"/><circle cx="212.0" cy="813.8" r="5"/><circle cx="209.1" cy="810.0" r="5"/><circle cx="213.6" cy="811.4" r="5"/><circle cx="223.4" cy="814.3" r="5"/><circle cx="207.2" cy="808.7" r="5"/><circle cx="205.1" cy="810.2" r="5"/><circle cx="208.3" cy="814.5" r="5"/><circle cx="215.8" cy="814.5" r="5"/><circle cx="219.6" cy="811.8" r="5"/><circle cx="221.9" cy="818.4" r="5"/><circle cx="213.9" cy="817.1" r="5"/><circle cx="262.2" cy="810.2" r="5"/><circle cx="262.8" cy="813.8" r="5"/><circle cx="254.8" cy="810.4" r="5"/><circle cx="245.5" cy="814.0" r="5"/><circle cx="252.7" cy="806.4" r="5"/><circle cx="249.8" cy="810.4" r="5"/><circle cx="261.6" cy="813.2" r="5"/><circle cx="246.1" cy="806.5" r="5"/><circle cx="239.0" cy="815.6" r="5"/><circle cx="254.3" cy="810.8" r="5"/><circle cx="260.6" cy="809.9" r="5"/><circle cx="244.2" cy="808.9" r="5"/><circle cx="248.5" cy="809.2" r="5"/><circle cx="242.0" cy="815.3" r="5"/><circle cx="260.7" cy="806.9" r="5"/><circle cx="240.8" cy="814.9" r="5"/><circle cx="258.6" cy="808.4" r="5"/><circle cx="248.6" cy="806.9" r="5"/><circle cx="258.3" cy="807.1" r="5"/><circle cx="260.8" cy="807.3" r="5"/><circle cx="269.7" cy="813.8" r="5"/><circle cx="272.1" cy="811.0" r="5"/><circle cx="291.2" cy="814.1" r="5"/><circle cx="281.1" cy="813.2" r="5"/><circle cx="277.4" cy="813.2" r="5"/><circle cx="294.8" cy="820.3" r="5"/><circle cx="279.8" cy="812.0" r="5"/><circle cx="274.3" cy="816.9" r="5"/><circle cx="291.0" cy="814.5" r="5"/><circle cx="276.5" cy="816.3" r="5"/><circle cx="279.2" cy="815.2" r="5"/><circle cx="295.6" cy="818.0" r="5"/><circle cx="278.1" cy="811.0" r="5"/><circle cx="282.4" cy="813.7" r="5"/><circle cx="292.3" cy="819.6" r="5"/><circle cx="274.3" cy="819.1" r="5"/><circle cx="274.3" cy="820.0" r="5"/><circle cx="275.8" cy="810.8" r="5"/><circle cx="293.2" cy="813.2" r="5"/><circle cx="283.1" cy="812.6" r="5"/><circle cx="294.7" cy="817.6" r="5"/><circle cx="288.8" cy="819.3" r="5"/><circle cx="312.3" cy="821.2" r="5"/><circle cx="318.8" cy="824.6" r="5"/><circle cx="313.1" cy="825.1" r="5"/><circle cx="311.8" cy="818.2" r="5"/><circle cx="308.6" cy="823.3" r="5"/><circle cx="318.1" cy="824.8" r="5"/><circle cx="325.5" cy="823.4" r="5"/><circle cx="310.3" cy="823.4" r="5"/><circle cx="314.3" cy="822.0" r="5"/><circle cx="313.0" cy="822.4" r="5"/><circle cx="307.5" cy="826.2" r="5"/><circle cx="325.0" cy="817.8" r="5"/><circle cx="321.8" cy="821.6" r="5"/><circle cx="327.6" cy="825.5" r="5"/><circle cx="303.7" cy="816.8" r="5"/><circle cx="316.6" cy="821.0" r="5"/><circle cx="315.9" cy="819.1" r="5"/><circle cx="319.7" cy="818.8" r="5"/><circle cx="315.8" cy="818.3" r="5"/><circle cx="319.7" cy="817.9" r="5"/><circle cx="322.6" cy="825.5" r="5"/><circle cx="314.0" cy="819.6" r="5"/><circle cx="353.8" cy="822.9" r="5"/><circle cx="350.6" cy="817.5" r="5"/><circle cx="340.9" cy="825.1" r="5"/><circle cx="343.1" cy="826.6" r="5"/><circle cx="350.8" cy="821.2" r="5"/><circle cx="360.9" cy="821.9" r="5"/><circle cx="341.3" cy="827.1" r="5"/><circle cx="350.7" cy="826.6" r="5"/><circle cx="338.6" cy="822.7" r="5"/><circle cx="356.4" cy="824.8" r="5"/><circle cx="342.2" cy="827.8" r="5"/><circle cx="360.4" cy="818.5" r="5"/><circle cx="348.9" cy="827.5" r="5"/><circle cx="359.9" cy="820.9" r="5"/><circle cx="353.7" cy="820.2" r="5"/><circle cx="349.7" cy="823.3" r="5"/><circle cx="355.1" cy="827.3" r="5"/><circle cx="342.3" cy="821.5" r="5"/><circle cx="347.1" cy="822.2" r="5"/><circle cx="349.9" cy="827.1" r="5"/><circle cx="339.5" cy="828.4" r="5"/><circle cx="352.5" cy="820.5" r="5"/><circle cx="335.6" cy="826.0" r="5"/><circle cx="343.7" cy="818.6" r="5"/><circle cx="387.3" cy="826.1" r="5"/><circle cx="379.8" cy="821.2" r="5"/><circle cx="388.6" cy="826.1" r="5"/><circle cx="373.2" cy="818.9" r="5"/><circle cx="386.0" cy="824.6" r="5"/><circle cx="374.3" cy="822.9" r="5"/><circle cx="368.8" cy="820.7" r="5"/><circle cx="388.5" cy="825.8" r="5"/><circle cx="390.9" cy="817.9" r="5"/><circle cx="369.3" cy="819.0" r="5"/><circle cx="388.2" cy="821.0" r="5"/><circle cx="373.8" cy="822.5" r="5"/><circle cx="392.7" cy="820.9" r="5"/><circle cx="393.0" cy="818.3" r="5"/><circle cx="383.5" cy="818.3" r="5"/><circle cx="380.2" cy="826.7" r="5"/><circle cx="382.2" cy="825.9" r="5"/><circle cx="375.9" cy="827.3" r="5"/><circle cx="381.6" cy="818.8" r="5"/><circle cx="394.0" cy="819.0" r="5"/><circle cx="386.6" cy="819.0" r="5"/><circle cx="373.9" cy="820.8" r="5"/><circle cx="391.7" cy="820.3" r="5"/><circle cx="378.0" cy="819.4" r="5"/><circle cx="390.9" cy="823.2" r="5"/><circle cx="373.8" cy="824.1" r="5"/><circle cx="419.6" cy="825.9" r="5"/><circle cx="406.1" cy="816.5" r="5"/><circle cx="401.7" cy="827.1" r="5"/><circle cx="421.7" cy="820.2" r="5"/><circle cx="423.6" cy="816.9" r="5"/><circle cx="405.3" cy="819.3" r="5"/><circle cx="407.6" cy="820.1" r="5"/><circle cx="402.0" cy="818.9" r="5"/><circle cx="406.0" cy="820.3" r="5"/><circle cx="412.6" cy="820.2" r="5"/><circle cx="411.2" cy="828.1" r="5"/><circle cx="408.5" cy="825.3" r="5"/><circle cx="426.7" cy="827.9" r="5"/><circle cx="420.8" cy="826.8" r="5"/><circle cx="409.2" cy="819.6" r="5"/><circle cx="415.3" cy="828.0" r="5"/><circle cx="408.0" cy="824.7" r="5"/><circle cx="417.5" cy="822.1" r="5"/><circle cx="412.5" cy="828.2" r="5"/><circle cx="412.1" cy="822.7" r="5"/><circle cx="404.3" cy="821.4" r="5"/><circle cx="404.3" cy="823.7" r="5"/><circle cx="403.9" cy="824.0" r="5"/><circle cx="402.9" cy="821.4" r="5"/><circle cx="416.3" cy="816.8" r="5"/><circle cx="408.6" cy="827.0" r="5"/><circle cx="443.9" cy="819.3" r="5"/><circle cx="439.5" cy="816.6" r="5"/><circle cx="440.1" cy="820.5" r="5"/><circle cx="436.2" cy="821.3" r="5"/><circle cx="453.5" cy="822.2" r="5"/><circle cx="440.7" cy="821.4" r="5"/><circle cx="459.3" cy="825.1" r="5"/><circle cx="452.8" cy="821.7" r="5"/><circle cx="459.2" cy="825.0" r="5"/><circle cx="455.5" cy="828.0" r="5"/><circle cx="457.9" cy="827.8" r="5"/><circle cx="441.9" cy="825.6" r="5"/><circle cx="440.7" cy="817.5" r="5"/><circle cx="438.8" cy="821.2" r="5"/><circle cx="449.1" cy="827.7" r="5"/><circle cx="453.4" cy="816.5" r="5"/><circle cx="446.9" cy="825.9" r="5"/><circle cx="441.2" cy="821.3" r="5"/><circle cx="458.6" cy="819.2" r="5"/><circle cx="440.8" cy="826.7" r="5"/><circle cx="452.5" cy="822.3" r="5"/><circle cx="441.7" cy="818.3" r="5"/><circle cx="114.0" cy="810.4" r="5"/><circle cx="108.8" cy="811.9" r="5"/><circle cx="108.3" cy="811.9" r="5"/><circle cx="108.3" cy="812.0" r="5"/><circle cx="151.4" cy="810.5" r="5"/><circle cx="153.8" cy="811.2" r="5"/><circle cx="154.2" cy="811.2" r="5"/><circle cx="140.2" cy="811.5" r="5"/><circle cx="139.2" cy="811.5" r="5"/><circle cx="140.5" cy="811.5" r="5"/><circle cx="186.2" cy="810.4" r="5"/><circle cx="186.5" cy="810.4" r="5"/><circle cx="175.9" cy="811.9" r="5"/><circle cx="197.4" cy="810.7" r="5"/><circle cx="197.9" cy="810.7" r="5"/><circle cx="198.3" cy="810.7" r="5"/><circle cx="195.9" cy="810.1" r="5"/><circle cx="196.4" cy="810.1" r="5"/><circle cx="196.4" cy="810.1" r="5"/><circle cx="206.4" cy="811.1" r="5"/><circle cx="206.4" cy="811.1" r="5"/><circle cx="205.5" cy="810.5" r="5"/><circle cx="211.5" cy="811.4" r="5"/><circle cx="227.3" cy="809.9" r="5"/><circle cx="227.4" cy="809.9" r="5"/><circle cx="228.6" cy="811.0" r="5"/><circle cx="228.5" cy="811.0" r="5"/><circle cx="246.5" cy="810.1" r="5"/><circle cx="246.8" cy="810.1" r="5"/><circle cx="256.5" cy="810.6" r="5"/><circle cx="256.9" cy="810.6" r="5"/><circle cx="256.8" cy="810.6" r="5"/><circle cx="259.1" cy="811.5" r="5"/><circle cx="258.7" cy="811.5" r="5"/><circle cx="257.6" cy="810.6" r="5"/><circle cx="277.4" cy="811.8" r="5"/><circle cx="270.8" cy="810.3" r="5"/><circle cx="270.6" cy="810.3" r="5"/><circle cx="279.6" cy="811.0" r="5"/><circle cx="289.0" cy="811.8" r="5"/><circle cx="290.0" cy="811.8" r="5"/><circle cx="288.1" cy="811.8" r="5"/><circle cx="283.8" cy="811.7" r="5"/><circle cx="284.8" cy="811.7" r="5"/><circle cx="313.9" cy="811.1" r="5"/><circle cx="323.1" cy="810.6" r="5"/><circle cx="322.7" cy="810.6" r="5"/><circle cx="311.4" cy="811.4" r="5"/><circle cx="311.0" cy="811.6" r="5"/><circle cx="310.4" cy="811.6" r="5"/><circle cx="311.8" cy="811.6" r="5"/><circle cx="321.6" cy="811.6" r="5"/><circle cx="324.0" cy="811.2" r="5"/><circle cx="303.4" cy="811.5" r="5"/><circle cx="306.7" cy="810.9" r="5"/><circle cx="307.6" cy="810.9" r="5"/><circle cx="307.0" cy="810.9" r="5"/><circle cx="356.7" cy="811.9" r="5"/><circle cx="356.0" cy="811.9" r="5"/><circle cx="360.9" cy="810.1" r="5"/><circle cx="357.5" cy="810.5" r="5"/><circle cx="357.6" cy="810.5" r="5"/><circle cx="358.0" cy="810.5" r="5"/><circle cx="355.3" cy="812.0" r="5"/><circle cx="360.8" cy="810.5" r="5"/><circle cx="338.1" cy="811.5" r="5"/><circle cx="337.7" cy="811.5" r="5"/><circle cx="337.8" cy="810.2" r="5"/><circle cx="351.5" cy="811.5" r="5"/><circle cx="351.9" cy="811.5" r="5"/><circle cx="359.9" cy="811.0" r="5"/><circle cx="360.7" cy="811.0" r="5"/><circle cx="376.0" cy="811.2" r="5"/><circle cx="375.5" cy="811.2" r="5"/><circle cx="375.8" cy="811.2" r="5"/><circle cx="374.7" cy="812.1" r="5"/><circle cx="373.7" cy="812.1" r="5"/><circle cx="382.3" cy="810.9" r="5"/><circle cx="382.8" cy="810.9" r="5"/><circle cx="380.9" cy="810.1" r="5"/><circle cx="392.2" cy="810.6" r="5"/><circle cx="393.0" cy="810.6" r="5"/><circle cx="369.5" cy="810.8" r="5"/><circle cx="369.7" cy="810.8" r="5"/><circle cx="369.2" cy="811.2" r="5"/><circle cx="368.3" cy="811.2" r="5"/><circle cx="406.9" cy="811.3" r="5"/><circle cx="412.4" cy="811.9" r="5"/><circle cx="412.2" cy="811.9" r="5"/><circle cx="421.9" cy="810.2" r="5"/><circle cx="422.5" cy="810.2" r="5"/><circle cx="417.4" cy="810.7" r="5"/><circle cx="417.2" cy="810.7" r="5"/><circle cx="417.6" cy="810.7" r="5"/><circle cx="401.6" cy="810.5" r="5"/><circle cx="401.4" cy="810.5" r="5"/><circle cx="419.1" cy="811.9" r="5"/><circle cx="412.1" cy="812.1" r="5"/><circle cx="412.7" cy="812.1" r="5"/><circle cx="411.3" cy="812.1" r="5"/><circle cx="439.1" cy="810.4" r="5"/><circle cx="439.9" cy="810.4" r="5"/><circle cx="439.1" cy="810.4" r="5"/><circle cx="453.3" cy="810.2" r="5"/><circle cx="456.1" cy="810.7" r="5"/><circle cx="439.2" cy="811.5" r="5"/><circle cx="440.2" cy="811.5" r="5"/><circle cx="444.3" cy="811.3" r="5"/><circle cx="456.6" cy="810.3" r="5"/><circle cx="458.5" cy="810.7" r="5"/><circle cx="449.4" cy="811.6" r="5"/><circle cx="450.5" cy="810.7" r="5"/><circle cx="111.6" cy="806.2" r="5"/><circle cx="112.3" cy="806.2" r="5"/><circle cx="120.1" cy="805.9" r="5"/><circle cx="121.0" cy="805.9" r="5"/><circle cx="159.3" cy="805.7" r="5"/><circle cx="156.6" cy="804.9" r="5"/><circle cx="156.1" cy="804.9" r="5"/><circle cx="148.4" cy="806.0" r="5"/><circle cx="148.0" cy="806.0" r="5"/><circle cx="148.5" cy="806.0" r="5"/><circle cx="178.5" cy="804.6" r="5"/><circle cx="190.6" cy="804.8" r="5"/><circle cx="190.5" cy="804.6" r="5"/><circle cx="185.2" cy="805.8" r="5"/><circle cx="209.4" cy="805.0" r="5"/><circle cx="209.4" cy="805.0" r="5"/><circle cx="205.9" cy="806.3" r="5"/><circle cx="211.9" cy="805.1" r="5"/><circle cx="211.3" cy="805.1" r="5"/><circle cx="251.5" cy="805.0" r="5"/><circle cx="237.2" cy="805.7" r="5"/><circle cx="236.8" cy="805.7" r="5"/><circle cx="237.9" cy="805.7" r="5"/><circle cx="283.6" cy="804.8" r="5"/><circle cx="283.3" cy="804.8" r="5"/><circle cx="284.3" cy="804.8" r="5"/><circle cx="286.7" cy="806.2" r="5"/><circle cx="287.0" cy="806.2" r="5"/><circle cx="286.5" cy="806.2" r="5"/><circle cx="314.8" cy="805.2" r="5"/><circle cx="315.7" cy="805.2" r="5"/><circle cx="325.6" cy="805.8" r="5"/><circle cx="326.3" cy="805.8" r="5"/><circle cx="345.5" cy="805.7" r="5"/><circle cx="348.8" cy="805.9" r="5"/><circle cx="349.1" cy="805.9" r="5"/><circle cx="392.2" cy="804.5" r="5"/><circle cx="392.6" cy="804.5" r="5"/><circle cx="392.3" cy="804.5" r="5"/><circle cx="423.0" cy="805.4" r="5"/><circle cx="426.5" cy="806.0" r="5"/><circle cx="423.3" cy="806.0" r="5"/><circle cx="422.5" cy="806.0" r="5"/><circle cx="422.4" cy="806.0" r="5"/><circle cx="439.7" cy="805.4" r="5"/><circle cx="439.4" cy="804.8" r="5"/><circle cx="439.6" cy="804.8" r="5"/><circle cx="438.4" cy="804.8" r="5"/><circle cx="150.0" cy="799.3" r="5"/><circle cx="149.8" cy="799.3" r="5"/><circle cx="158.2" cy="798.5" r="5"/><circle cx="157.4" cy="798.5" r="5"/><circle cx="164.8" cy="798.2" r="5"/><circle cx="159.6" cy="799.2" r="5"/><circle cx="148.8" cy="798.9" r="5"/><circle cx="139.2" cy="798.1" r="5"/><circle cx="139.7" cy="798.1" r="5"/><circle cx="194.1" cy="799.7" r="5"/><circle cx="193.7" cy="799.7" r="5"/><circle cx="174.0" cy="799.1" r="5"/><circle cx="174.3" cy="799.1" r="5"/><circle cx="186.5" cy="799.5" r="5"/><circle cx="186.9" cy="799.6" r="5"/><circle cx="186.9" cy="798.0" r="5"/><circle cx="178.5" cy="799.3" r="5"/><circle cx="178.6" cy="799.3" r="5"/><circle cx="181.6" cy="799.2" r="5"/><circle cx="181.0" cy="799.2" r="5"/><circle cx="196.2" cy="799.1" r="5"/><circle cx="195.8" cy="799.1" r="5"/><circle cx="192.1" cy="799.2" r="5"/><circle cx="195.1" cy="799.3" r="5"/><circle cx="194.3" cy="799.3" r="5"/><circle cx="194.7" cy="799.3" r="5"/><circle cx="213.9" cy="798.2" r="5"/><circle cx="214.2" cy="798.2" r="5"/><circle cx="223.7" cy="798.9" r="5"/><circle cx="223.9" cy="798.9" r="5"/><circle cx="214.8" cy="798.7" r="5"/><circle cx="214.0" cy="798.7" r="5"/><circle cx="215.7" cy="798.0" r="5"/><circle cx="214.7" cy="798.0" r="5"/><circle cx="213.0" cy="799.3" r="5"/><circle cx="213.0" cy="799.3" r="5"/><circle cx="212.0" cy="799.1" r="5"/><circle cx="224.1" cy="798.6" r="5"/><circle cx="208.2" cy="799.1" r="5"/><circle cx="225.0" cy="799.1" r="5"/><circle cx="225.8" cy="799.1" r="5"/><circle cx="229.5" cy="798.8" r="5"/><circle cx="250.6" cy="798.2" r="5"/><circle cx="253.6" cy="798.7" r="5"/><circle cx="245.3" cy="799.5" r="5"/><circle cx="245.0" cy="798.7" r="5"/><circle cx="244.1" cy="798.7" r="5"/><circle cx="249.4" cy="798.6" r="5"/><circle cx="248.6" cy="798.6" r="5"/><circle cx="248.6" cy="798.6" r="5"/><circle cx="249.4" cy="798.2" r="5"/><circle cx="239.1" cy="799.3" r="5"/><circle cx="238.1" cy="799.3" r="5"/><circle cx="239.6" cy="798.8" r="5"/><circle cx="250.8" cy="798.4" r="5"/><circle cx="250.1" cy="798.4" r="5"/><circle cx="261.7" cy="799.2" r="5"/><circle cx="261.5" cy="799.2" r="5"/><circle cx="261.3" cy="798.1" r="5"/><circle cx="245.1" cy="798.9" r="5"/><circle cx="245.2" cy="798.9" r="5"/><circle cx="291.9" cy="799.3" r="5"/><circle cx="270.8" cy="798.9" r="5"/><circle cx="271.1" cy="798.9" r="5"/><circle cx="271.3" cy="798.9" r="5"/><circle cx="284.8" cy="798.0" r="5"/><circle cx="285.7" cy="798.0" r="5"/><circle cx="285.6" cy="798.0" r="5"/><circle cx="271.8" cy="798.1" r="5"/><circle cx="285.9" cy="798.1" r="5"/><circle cx="286.2" cy="798.1" r="5"/><circle cx="283.8" cy="798.5" r="5"/><circle cx="275.2" cy="799.5" r="5"/><circle cx="285.9" cy="798.6" r="5"/><circle cx="285.9" cy="798.6" r="5"/><circle cx="290.3" cy="799.6" r="5"/><circle cx="290.5" cy="799.6" r="5"/><circle cx="282.0" cy="798.5" r="5"/><circle cx="281.4" cy="798.5" r="5"/><circle cx="281.1" cy="798.5" r="5"/><circle cx="307.4" cy="800.4" r="5"/><circle cx="309.3" cy="802.0" r="5"/><circle cx="309.3" cy="802.0" r="5"/><circle cx="314.1" cy="801.4" r="5"/><circle cx="314.4" cy="800.3" r="5"/><circle cx="320.7" cy="800.5" r="5"/><circle cx="324.6" cy="801.2" r="5"/><circle cx="319.8" cy="800.3" r="5"/><circle cx="319.2" cy="800.3" r="5"/><circle cx="314.4" cy="800.3" r="5"/><circle cx="322.7" cy="801.3" r="5"/><circle cx="323.8" cy="800.6" r="5"/><circle cx="324.4" cy="800.6" r="5"/><circle cx="322.9" cy="800.6" r="5"/><circle cx="324.0" cy="802.0" r="5"/><circle cx="323.4" cy="802.0" r="5"/><circle cx="324.1" cy="802.0" r="5"/><circle cx="316.7" cy="801.1" r="5"/><circle cx="310.5" cy="800.3" r="5"/><circle cx="310.2" cy="800.3" r="5"/><circle cx="357.1" cy="800.5" r="5"/><circle cx="336.0" cy="799.8" r="5"/><circle cx="335.7" cy="799.8" r="5"/><circle cx="350.8" cy="800.4" r="5"/><circle cx="350.9" cy="799.9" r="5"/><circle cx="350.9" cy="799.9" r="5"/><circle cx="347.4" cy="799.8" r="5"/><circle cx="348.4" cy="799.8" r="5"/><circle cx="338.0" cy="800.6" r="5"/><circle cx="338.5" cy="800.6" r="5"/><circle cx="337.1" cy="800.6" r="5"/><circle cx="360.1" cy="801.1" r="5"/><circle cx="359.1" cy="801.1" r="5"/><circle cx="358.6" cy="800.2" r="5"/><circle cx="358.0" cy="800.2" r="5"/><circle cx="340.9" cy="801.6" r="5"/><circle cx="341.2" cy="801.6" r="5"/><circle cx="340.6" cy="801.6" r="5"/><circle cx="358.8" cy="800.7" r="5"/><circle cx="351.3" cy="801.1" r="5"/><circle cx="371.7" cy="800.7" r="5"/><circle cx="371.1" cy="800.7" r="5"/><circle cx="371.5" cy="800.7" r="5"/><circle cx="370.2" cy="800.7" r="5"/><circle cx="369.9" cy="800.7" r="5"/><circle cx="393.8" cy="801.5" r="5"/><circle cx="393.1" cy="801.5" r="5"/><circle cx="379.9" cy="802.0" r="5"/><circle cx="384.0" cy="800.3" r="5"/><circle cx="384.4" cy="800.3" r="5"/><circle cx="374.8" cy="801.0" r="5"/><circle cx="380.8" cy="800.6" r="5"/><circle cx="381.0" cy="800.6" r="5"/><circle cx="374.8" cy="800.3" r="5"/><circle cx="374.5" cy="800.3" r="5"/><circle cx="388.8" cy="801.3" r="5"/><circle cx="392.8" cy="801.6" r="5"/><circle cx="393.0" cy="801.6" r="5"/><circle cx="377.1" cy="801.3" r="5"/><circle cx="377.1" cy="801.3" r="5"/><circle cx="376.4" cy="801.3" r="5"/><circle cx="417.5" cy="799.8" r="5"/><circle cx="417.7" cy="801.6" r="5"/><circle cx="411.7" cy="801.0" r="5"/><circle cx="411.4" cy="801.0" r="5"/><circle cx="411.4" cy="801.0" r="5"/><circle cx="421.1" cy="800.6" r="5"/><circle cx="420.7" cy="800.6" r="5"/><circle cx="420.5" cy="800.6" r="5"/><circle cx="422.4" cy="801.5" r="5"/><circle cx="423.0" cy="801.5" r="5"/><circle cx="409.0" cy="800.9" r="5"/><circle cx="409.7" cy="800.9" r="5"/><circle cx="421.5" cy="801.1" r="5"/><circle cx="421.7" cy="801.1" r="5"/><circle cx="421.8" cy="801.1" r="5"/><circle cx="415.8" cy="800.8" r="5"/><circle cx="416.1" cy="800.8" r="5"/><circle cx="415.4" cy="800.8" r="5"/><circle cx="419.0" cy="799.9" r="5"/><circle cx="419.8" cy="799.9" r="5"/><circle cx="419.9" cy="799.9" r="5"/><circle cx="438.6" cy="801.5" r="5"/><circle cx="457.2" cy="801.6" r="5"/><circle cx="457.1" cy="801.6" r="5"/><circle cx="442.6" cy="801.1" r="5"/><circle cx="443.0" cy="801.1" r="5"/><circle cx="452.3" cy="800.1" r="5"/><circle cx="452.1" cy="800.1" r="5"/><circle cx="453.2" cy="800.1" r="5"/><circle cx="452.8" cy="801.9" r="5"/><circle cx="452.2" cy="801.9" r="5"/><circle cx="444.0" cy="800.6" r="5"/><circle cx="441.6" cy="800.9" r="5"/><circle cx="457.5" cy="801.6" r="5"/><circle cx="456.8" cy="801.6" r="5"/><circle cx="456.6" cy="801.6" r="5"/><circle cx="446.8" cy="801.2" r="5"/><circle cx="446.0" cy="801.2" r="5"/><circle cx="437.2" cy="801.6" r="5"/><circle cx="438.0" cy="801.6" r="5"/><circle cx="126.6" cy="781.0" r="5"/><circle cx="126.8" cy="781.0" r="5"/><circle cx="124.8" cy="781.1" r="5"/><circle cx="125.6" cy="781.1" r="5"/><circle cx="155.2" cy="780.8" r="5"/><circle cx="155.0" cy="780.8" r="5"/><circle cx="158.9" cy="781.5" r="5"/><circle cx="158.2" cy="781.5" r="5"/><circle cx="160.5" cy="781.4" r="5"/><circle cx="158.0" cy="781.6" r="5"/><circle cx="157.4" cy="781.6" r="5"/><circle cx="176.7" cy="780.9" r="5"/><circle cx="176.8" cy="780.9" r="5"/><circle cx="195.8" cy="781.8" r="5"/><circle cx="175.8" cy="781.9" r="5"/><circle cx="175.8" cy="781.9" r="5"/><circle cx="185.0" cy="782.2" r="5"/><circle cx="185.9" cy="782.2" r="5"/><circle cx="178.3" cy="782.0" r="5"/><circle cx="179.0" cy="782.0" r="5"/><circle cx="178.6" cy="782.0" r="5"/><circle cx="192.9" cy="782.0" r="5"/><circle cx="178.1" cy="782.1" r="5"/><circle cx="175.4" cy="781.4" r="5"/><circle cx="189.7" cy="781.3" r="5"/><circle cx="189.8" cy="781.3" r="5"/><circle cx="207.7" cy="781.7" r="5"/><circle cx="207.8" cy="781.7" r="5"/><circle cx="207.0" cy="781.7" r="5"/><circle cx="229.2" cy="781.4" r="5"/><circle cx="228.0" cy="781.1" r="5"/><circle cx="228.5" cy="781.1" r="5"/><circle cx="227.4" cy="781.1" r="5"/><circle cx="222.9" cy="781.0" r="5"/><circle cx="222.3" cy="781.0" r="5"/><circle cx="224.4" cy="782.1" r="5"/><circle cx="224.5" cy="781.4" r="5"/><circle cx="225.4" cy="781.4" r="5"/><circle cx="218.7" cy="781.4" r="5"/><circle cx="219.7" cy="781.4" r="5"/><circle cx="219.0" cy="781.4" r="5"/><circle cx="228.0" cy="781.3" r="5"/><circle cx="228.2" cy="781.3" r="5"/><circle cx="228.9" cy="781.3" r="5"/><circle cx="221.9" cy="781.9" r="5"/><circle cx="213.0" cy="781.3" r="5"/><circle cx="244.0" cy="782.3" r="5"/><circle cx="262.1" cy="781.0" r="5"/><circle cx="237.2" cy="781.7" r="5"/><circle cx="260.9" cy="781.1" r="5"/><circle cx="261.4" cy="781.1" r="5"/><circle cx="245.8" cy="781.7" r="5"/><circle cx="244.9" cy="781.7" r="5"/><circle cx="257.2" cy="781.2" r="5"/><circle cx="262.1" cy="781.7" r="5"/><circle cx="263.1" cy="781.7" r="5"/><circle cx="261.2" cy="781.7" r="5"/><circle cx="237.9" cy="782.3" r="5"/><circle cx="238.3" cy="782.3" r="5"/><circle cx="237.7" cy="782.3" r="5"/><circle cx="283.2" cy="781.0" r="5"/><circle cx="276.3" cy="781.3" r="5"/><circle cx="276.8" cy="781.3" r="5"/><circle cx="277.1" cy="781.3" r="5"/><circle cx="271.0" cy="781.9" r="5"/><circle cx="270.6" cy="781.9" r="5"/><circle cx="294.9" cy="781.1" r="5"/><circle cx="295.3" cy="781.1" r="5"/><circle cx="294.7" cy="781.1" r="5"/><circle cx="293.6" cy="781.8" r="5"/><circle cx="293.5" cy="781.8" r="5"/><circle cx="294.2" cy="780.9" r="5"/><circle cx="282.2" cy="782.1" r="5"/><circle cx="282.2" cy="782.1" r="5"/><circle cx="283.7" cy="780.9" r="5"/><circle cx="282.7" cy="780.9" r="5"/><circle cx="276.6" cy="781.4" r="5"/><circle cx="277.3" cy="781.4" r="5"/><circle cx="276.2" cy="781.4" r="5"/><circle cx="328.1" cy="784.0" r="5"/><circle cx="328.1" cy="784.0" r="5"/><circle cx="328.3" cy="784.0" r="5"/><circle cx="307.4" cy="782.0" r="5"/><circle cx="328.4" cy="783.3" r="5"/><circle cx="328.1" cy="783.3" r="5"/><circle cx="328.3" cy="783.3" r="5"/><circle cx="309.4" cy="782.5" r="5"/><circle cx="307.5" cy="782.3" r="5"/><circle cx="308.4" cy="782.3" r="5"/><circle cx="314.5" cy="782.4" r="5"/><circle cx="314.8" cy="782.4" r="5"/><circle cx="304.5" cy="783.3" r="5"/><circle cx="305.5" cy="783.4" r="5"/><circle cx="320.6" cy="782.5" r="5"/><circle cx="325.7" cy="782.2" r="5"/><circle cx="326.0" cy="782.2" r="5"/><circle cx="302.5" cy="783.8" r="5"/><circle cx="353.5" cy="783.1" r="5"/><circle cx="353.8" cy="783.1" r="5"/><circle cx="359.1" cy="784.3" r="5"/><circle cx="345.7" cy="782.7" r="5"/><circle cx="346.2" cy="782.7" r="5"/><circle cx="354.9" cy="783.8" r="5"/><circle cx="349.6" cy="783.3" r="5"/><circle cx="343.5" cy="782.6" r="5"/><circle cx="359.2" cy="782.3" r="5"/><circle cx="353.8" cy="782.2" r="5"/><circle cx="354.3" cy="782.2" r="5"/><circle cx="354.0" cy="782.2" r="5"/><circle cx="340.4" cy="782.1" r="5"/><circle cx="339.9" cy="782.1" r="5"/><circle cx="357.2" cy="783.0" r="5"/><circle cx="356.2" cy="783.0" r="5"/><circle cx="383.5" cy="783.8" r="5"/><circle cx="375.5" cy="782.6" r="5"/><circle cx="375.9" cy="782.6" r="5"/><circle cx="379.1" cy="782.8" r="5"/><circle cx="379.0" cy="782.8" r="5"/><circle cx="378.6" cy="782.8" r="5"/><circle cx="384.6" cy="782.2" r="5"/><circle cx="385.3" cy="782.2" r="5"/><circle cx="386.9" cy="782.7" r="5"/><circle cx="372.3" cy="784.1" r="5"/><circle cx="371.9" cy="784.1" r="5"/><circle cx="391.6" cy="782.0" r="5"/><circle cx="372.6" cy="783.6" r="5"/><circle cx="373.6" cy="783.6" r="5"/><circle cx="371.6" cy="783.5" r="5"/><circle cx="370.8" cy="783.5" r="5"/><circle cx="379.0" cy="782.4" r="5"/><circle cx="378.2" cy="782.4" r="5"/><circle cx="402.0" cy="784.2" r="5"/><circle cx="401.9" cy="784.2" r="5"/><circle cx="416.8" cy="783.0" r="5"/><circle cx="417.8" cy="783.0" r="5"/><circle cx="419.1" cy="783.2" r="5"/><circle cx="418.7" cy="783.2" r="5"/><circle cx="405.4" cy="782.9" r="5"/><circle cx="404.8" cy="782.9" r="5"/><circle cx="405.6" cy="782.9" r="5"/><circle cx="423.3" cy="784.2" r="5"/><circle cx="423.1" cy="784.2" r="5"/><circle cx="423.9" cy="784.2" r="5"/><circle cx="436.0" cy="782.5" r="5"/><circle cx="458.7" cy="783.6" r="5"/><circle cx="459.0" cy="783.6" r="5"/><circle cx="458.5" cy="783.6" r="5"/><circle cx="447.2" cy="782.0" r="5"/><circle cx="447.0" cy="782.0" r="5"/><circle cx="444.6" cy="783.9" r="5"/><circle cx="444.0" cy="783.9" r="5"/><circle cx="447.5" cy="783.3" r="5"/><circle cx="448.1" cy="783.3" r="5"/><circle cx="447.4" cy="783.3" r="5"/><circle cx="438.1" cy="783.6" r="5"/><circle cx="434.2" cy="783.4" r="5"/><circle cx="433.3" cy="783.4" r="5"/><circle cx="433.6" cy="783.4" r="5"/><circle cx="455.4" cy="782.8" r="5"/><circle cx="456.1" cy="782.8" r="5"/><circle cx="445.3" cy="783.1" r="5"/><circle cx="445.2" cy="783.1" r="5"/><circle cx="319.0" cy="774.5" r="5"/><circle cx="311.3" cy="778.0" r="5"/><circle cx="311.6" cy="773.6" r="5"/><circle cx="358.3" cy="773.6" r="5"/><circle cx="353.8" cy="777.5" r="5"/><circle cx="343.8" cy="775.3" r="5"/><circle cx="369.1" cy="776.2" r="5"/><circle cx="376.4" cy="778.3" r="5"/><circle cx="402.8" cy="775.9" r="5"/><circle cx="410.6" cy="773.8" r="5"/><circle cx="404.6" cy="779.0" r="5"/><circle cx="455.9" cy="773.1" r="5"/><circle cx="436.9" cy="776.4" r="5"/><circle cx="448.6" cy="777.6" r="5"/><circle cx="219.0" cy="531.2" r="5"/><circle cx="222.7" cy="531.2" r="5"/><circle cx="240.2" cy="531.2" r="5"/><circle cx="256.5" cy="531.2" r="5"/><circle cx="269.8" cy="531.2" r="5"/><circle cx="285.9" cy="531.2" r="5"/><circle cx="272.5" cy="544.2" r="5"/><circle cx="272.5" cy="571.0" r="5"/><circle cx="270.7" cy="590.8" r="5"/><circle cx="371.3" cy="495.1" r="5"/><circle cx="378.8" cy="495.1" r="5"/><circle cx="402.6" cy="495.1" r="5"/><circle cx="406.3" cy="495.1" r="5"/><circle cx="415.7" cy="495.1" r="5"/><circle cx="421.9" cy="495.1" r="5"/><circle cx="438.0" cy="493.3" r="5"/><circle cx="445.4" cy="493.3" r="5"/><circle cx="347.2" cy="507.0" r="5"/><circle cx="360.9" cy="507.0" r="5"/><circle cx="338.6" cy="510.7" r="5"/><circle cx="357.6" cy="510.7" r="5"/><circle cx="303.9" cy="531.2" r="5"/><circle cx="325.9" cy="531.2" r="5"/><circle cx="325.7" cy="531.2" r="5"/><circle cx="327.0" cy="531.2" r="5"/><circle cx="339.3" cy="531.2" r="5"/><circle cx="342.3" cy="531.2" r="5"/><circle cx="345.3" cy="531.2" r="5"/><circle cx="347.5" cy="531.2" r="5"/><circle cx="350.5" cy="531.2" r="5"/><circle cx="357.2" cy="531.2" r="5"/><circle cx="358.0" cy="531.2" r="5"/><circle cx="356.0" cy="531.2" r="5"/><circle cx="372.5" cy="531.2" r="5"/><circle cx="387.7" cy="531.2" r="5"/><circle cx="390.7" cy="531.2" r="5"/><circle cx="393.7" cy="531.2" r="5"/><circle cx="397.4" cy="531.2" r="5"/><circle cx="401.8" cy="531.2" r="5"/><circle cx="406.8" cy="531.2" r="5"/><circle cx="442.3" cy="531.2" r="5"/><circle cx="441.6" cy="531.2" r="5"/><circle cx="443.3" cy="531.2" r="5"/><circle cx="451.7" cy="531.2" r="5"/><circle cx="451.4" cy="531.2" r="5"/><circle cx="456.0" cy="531.2" r="5"/><circle cx="450.8" cy="531.2" r="5"/><circle cx="447.8" cy="531.2" r="5"/><circle cx="453.9" cy="531.2" r="5"/><circle cx="456.2" cy="531.2" r="5"/><circle cx="292.2" cy="544.2" r="5"/><circle cx="384.0" cy="549.7" r="5"/><circle cx="391.1" cy="549.7" r="5"/><circle cx="288.7" cy="571.0" r="5"/><circle cx="303.6" cy="571.0" r="5"/><circle cx="308.8" cy="571.0" r="5"/><circle cx="341.9" cy="571.0" r="5"/><circle cx="347.2" cy="571.0" r="5"/><circle cx="371.0" cy="576.2" r="5"/><circle cx="393.4" cy="576.2" r="5"/><circle cx="295.4" cy="590.8" r="5"/><circle cx="271.3" cy="626.7" r="5"/><circle cx="284.4" cy="626.7" r="5"/><circle cx="251.7" cy="644.5" r="5"/><circle cx="252.0" cy="644.5" r="5"/><circle cx="271.8" cy="644.5" r="5"/><circle cx="283.7" cy="644.5" r="5"/><circle cx="214.9" cy="658.4" r="5"/><circle cx="224.5" cy="658.4" r="5"/><circle cx="236.8" cy="658.4" r="5"/><circle cx="246.0" cy="658.4" r="5"/><circle cx="269.5" cy="658.4" r="5"/><circle cx="276.2" cy="658.4" r="5"/><circle cx="280.7" cy="658.4" r="5"/><circle cx="284.4" cy="658.4" r="5"/><circle cx="287.4" cy="658.4" r="5"/><circle cx="239.5" cy="659.9" r="5"/><circle cx="240.2" cy="659.9" r="5"/><circle cx="238.9" cy="659.9" r="5"/><circle cx="176.5" cy="679.2" r="5"/><circle cx="187.4" cy="679.2" r="5"/><circle cx="210.8" cy="679.2" r="5"/><circle cx="220.1" cy="679.2" r="5"/><circle cx="237.6" cy="679.2" r="5"/><circle cx="240.1" cy="679.2" r="5"/><circle cx="239.1" cy="679.2" r="5"/><circle cx="274.8" cy="679.2" r="5"/><circle cx="275.8" cy="690.1" r="5"/><circle cx="286.7" cy="690.1" r="5"/><circle cx="253.9" cy="695.6" r="5"/><circle cx="253.5" cy="695.6" r="5"/><circle cx="277.7" cy="695.6" r="5"/><circle cx="113.0" cy="709.0" r="5"/><circle cx="114.1" cy="709.0" r="5"/><circle cx="147.2" cy="709.0" r="5"/><circle cx="152.7" cy="709.0" r="5"/><circle cx="153.4" cy="709.0" r="5"/><circle cx="151.8" cy="709.0" r="5"/><circle cx="188.9" cy="709.0" r="5"/><circle cx="196.2" cy="709.0" r="5"/><circle cx="215.7" cy="709.0" r="5"/><circle cx="215.1" cy="709.0" r="5"/><circle cx="214.7" cy="709.0" r="5"/><circle cx="224.2" cy="709.0" r="5"/><circle cx="228.6" cy="709.0" r="5"/><circle cx="249.5" cy="709.0" r="5"/><circle cx="251.7" cy="709.0" r="5"/><circle cx="156.5" cy="710.4" r="5"/><circle cx="245.4" cy="718.3" r="5"/><circle cx="251.4" cy="718.3" r="5"/><circle cx="112.9" cy="737.7" r="5"/><circle cx="111.8" cy="737.7" r="5"/><circle cx="140.8" cy="737.7" r="5"/><circle cx="148.3" cy="737.7" r="5"/><circle cx="149.0" cy="737.7" r="5"/><circle cx="147.5" cy="737.7" r="5"/><circle cx="157.5" cy="737.7" r="5"/><circle cx="172.1" cy="737.7" r="5"/><circle cx="175.8" cy="737.7" r="5"/><circle cx="178.0" cy="737.7" r="5"/><circle cx="181.0" cy="737.7" r="5"/><circle cx="184.4" cy="737.7" r="5"/><circle cx="218.2" cy="737.7" r="5"/><circle cx="223.4" cy="737.7" r="5"/><circle cx="226.4" cy="737.7" r="5"/><circle cx="228.6" cy="737.7" r="5"/><circle cx="230.9" cy="737.7" r="5"/><circle cx="242.0" cy="737.7" r="5"/><circle cx="242.2" cy="737.7" r="5"/><circle cx="241.9" cy="737.7" r="5"/><circle cx="249.5" cy="737.7" r="5"/><circle cx="248.7" cy="737.7" r="5"/><circle cx="250.0" cy="737.7" r="5"/><circle cx="256.2" cy="737.7" r="5"/><circle cx="260.6" cy="737.7" r="5"/><circle cx="259.9" cy="745.4" r="5"/><circle cx="259.0" cy="745.4" r="5"/><circle cx="272.5" cy="745.4" r="5"/><circle cx="371.3" cy="630.1" r="5"/><circle cx="389.9" cy="630.1" r="5"/><circle cx="400.8" cy="630.1" r="5"/><circle cx="410.0" cy="630.1" r="5"/><circle cx="439.8" cy="630.1" r="5"/><circle cx="440.1" cy="630.1" r="5"/><circle cx="438.9" cy="630.1" r="5"/><circle cx="457.6" cy="630.1" r="5"/><circle cx="457.5" cy="630.1" r="5"/><circle cx="457.0" cy="630.1" r="5"/><circle cx="375.8" cy="627.6" r="5"/><circle cx="378.8" cy="627.6" r="5"/><circle cx="309.3" cy="644.5" r="5"/><circle cx="307.2" cy="644.5" r="5"/><circle cx="313.5" cy="644.5" r="5"/><circle cx="312.0" cy="644.5" r="5"/><circle cx="322.5" cy="644.5" r="5"/><circle cx="337.4" cy="649.4" r="5"/><circle cx="344.2" cy="649.4" r="5"/><circle cx="381.0" cy="649.4" r="5"/><circle cx="384.7" cy="649.4" r="5"/><circle cx="388.4" cy="649.4" r="5"/><circle cx="392.2" cy="649.4" r="5"/><circle cx="391.7" cy="649.4" r="5"/><circle cx="406.3" cy="649.4" r="5"/><circle cx="413.7" cy="649.4" r="5"/><circle cx="444.0" cy="649.4" r="5"/><circle cx="453.6" cy="649.4" r="5"/><circle cx="411.5" cy="653.2" r="5"/><circle cx="423.4" cy="653.2" r="5"/><circle cx="295.1" cy="658.4" r="5"/><circle cx="305.9" cy="658.4" r="5"/><circle cx="310.3" cy="658.4" r="5"/><circle cx="311.2" cy="658.4" r="5"/><circle cx="309.6" cy="658.4" r="5"/><circle cx="316.3" cy="658.4" r="5"/><circle cx="316.0" cy="658.4" r="5"/><circle cx="317.1" cy="658.4" r="5"/><circle cx="323.0" cy="658.4" r="5"/><circle cx="339.3" cy="658.4" r="5"/><circle cx="345.3" cy="658.4" r="5"/><circle cx="349.8" cy="658.4" r="5"/><circle cx="356.5" cy="658.4" r="5"/><circle cx="357.7" cy="658.4" r="5"/><circle cx="352.9" cy="658.4" r="5"/><circle cx="360.9" cy="658.4" r="5"/><circle cx="353.9" cy="658.4" r="5"/><circle cx="359.4" cy="658.4" r="5"/><circle cx="369.8" cy="658.4" r="5"/><circle cx="375.8" cy="658.4" r="5"/><circle cx="381.8" cy="658.4" r="5"/><circle cx="387.0" cy="658.4" r="5"/><circle cx="410.0" cy="658.4" r="5"/><circle cx="424.9" cy="658.4" r="5"/><circle cx="435.3" cy="658.4" r="5"/><circle cx="440.5" cy="658.4" r="5"/><circle cx="448.0" cy="658.4" r="5"/><circle cx="452.4" cy="658.4" r="5"/><circle cx="291.7" cy="659.9" r="5"/><circle cx="291.1" cy="659.9" r="5"/><circle cx="292.4" cy="659.9" r="5"/><circle cx="448.0" cy="663.6" r="5"/><circle cx="455.4" cy="663.6" r="5"/><circle cx="291.7" cy="679.2" r="5"/><circle cx="288.0" cy="690.1" r="5"/><circle cx="305.9" cy="690.1" r="5"/><circle cx="321.9" cy="690.1" r="5"/><circle cx="292.5" cy="695.6" r="5"/><circle cx="308.8" cy="695.6" r="5"/><circle cx="311.8" cy="695.6" r="5"/><circle cx="311.4" cy="695.6" r="5"/><circle cx="317.0" cy="695.6" r="5"/><circle cx="316.5" cy="695.6" r="5"/><circle cx="316.0" cy="695.6" r="5"/><circle cx="326.7" cy="695.6" r="5"/><circle cx="323.0" cy="695.6" r="5"/><circle cx="327.4" cy="695.6" r="5"/><circle cx="324.4" cy="695.6" r="5"/><circle cx="335.6" cy="695.6" r="5"/><circle cx="336.5" cy="695.6" r="5"/><circle cx="334.5" cy="695.6" r="5"/><circle cx="335.2" cy="695.6" r="5"/><circle cx="339.8" cy="695.6" r="5"/><circle cx="335.5" cy="695.6" r="5"/><circle cx="339.3" cy="695.6" r="5"/><circle cx="340.0" cy="695.6" r="5"/><circle cx="342.6" cy="695.6" r="5"/><circle cx="336.5" cy="695.6" r="5"/><circle cx="344.5" cy="695.6" r="5"/><circle cx="341.4" cy="695.6" r="5"/><circle cx="348.2" cy="695.6" r="5"/><circle cx="347.4" cy="695.6" r="5"/><circle cx="349.8" cy="695.6" r="5"/><circle cx="358.7" cy="695.6" r="5"/><circle cx="370.6" cy="695.6" r="5"/><circle cx="375.8" cy="695.6" r="5"/><circle cx="375.2" cy="695.6" r="5"/><circle cx="375.1" cy="695.6" r="5"/><circle cx="380.3" cy="695.6" r="5"/><circle cx="382.4" cy="695.6" r="5"/><circle cx="384.2" cy="695.6" r="5"/><circle cx="377.5" cy="695.6" r="5"/><circle cx="384.7" cy="695.6" r="5"/><circle cx="385.8" cy="695.6" r="5"/><circle cx="385.6" cy="695.6" r="5"/><circle cx="391.4" cy="695.6" r="5"/><circle cx="392.4" cy="695.6" r="5"/><circle cx="390.7" cy="695.6" r="5"/><circle cx="387.9" cy="695.6" r="5"/><circle cx="401.8" cy="695.6" r="5"/><circle cx="408.5" cy="695.6" r="5"/><circle cx="404.4" cy="695.6" r="5"/><circle cx="412.7" cy="695.6" r="5"/><circle cx="406.2" cy="695.6" r="5"/><circle cx="414.5" cy="695.6" r="5"/><circle cx="419.0" cy="695.6" r="5"/><circle cx="424.2" cy="695.6" r="5"/><circle cx="426.0" cy="695.6" r="5"/><circle cx="422.0" cy="695.6" r="5"/><circle cx="427.1" cy="695.6" r="5"/><circle cx="425.0" cy="695.6" r="5"/><circle cx="436.8" cy="695.6" r="5"/><circle cx="441.3" cy="695.6" r="5"/><circle cx="439.4" cy="695.6" r="5"/><circle cx="438.4" cy="695.6" r="5"/><circle cx="443.3" cy="695.6" r="5"/><circle cx="451.7" cy="695.6" r="5"/><circle cx="442.8" cy="700.8" r="5"/><circle cx="456.9" cy="700.8" r="5"/><circle cx="435.3" cy="705.2" r="5"/><circle cx="459.1" cy="705.2" r="5"/><circle cx="320.0" cy="709.0" r="5"/><circle cx="327.9" cy="709.0" r="5"/><circle cx="357.2" cy="719.7" r="5"/><circle cx="356.2" cy="719.7" r="5"/><circle cx="368.4" cy="719.7" r="5"/><circle cx="382.0" cy="719.7" r="5"/><circle cx="372.1" cy="731.3" r="5"/><circle cx="371.4" cy="731.3" r="5"/><circle cx="410.8" cy="731.3" r="5"/><circle cx="414.5" cy="731.3" r="5"/><circle cx="292.5" cy="745.1" r="5"/><circle cx="305.9" cy="745.1" r="5"/><circle cx="317.8" cy="745.1" r="5"/><circle cx="335.9" cy="745.1" r="5"/><circle cx="356.5" cy="745.1" r="5"/><circle cx="359.4" cy="745.1" r="5"/><circle cx="359.6" cy="745.1" r="5"/><circle cx="360.3" cy="745.1" r="5"/><circle cx="369.8" cy="745.1" r="5"/><circle cx="387.0" cy="745.1" r="5"/><circle cx="110.0" cy="757.9" r="5"/><circle cx="129.4" cy="757.9" r="5"/><circle cx="155.7" cy="757.9" r="5"/><circle cx="163.9" cy="757.9" r="5"/><circle cx="174.0" cy="757.9" r="5"/><circle cx="188.9" cy="757.9" r="5"/><circle cx="179.5" cy="769.8" r="5"/><circle cx="181.8" cy="769.8" r="5"/><circle cx="219.7" cy="771.7" r="5"/><circle cx="224.2" cy="771.7" r="5"/><circle cx="241.3" cy="771.7" r="5"/><circle cx="241.5" cy="771.7" r="5"/><circle cx="149.8" cy="775.0" r="5"/><circle cx="157.2" cy="775.0" r="5"/><circle cx="130.4" cy="787.6" r="5"/><circle cx="129.9" cy="787.6" r="5"/><circle cx="131.4" cy="787.6" r="5"/><circle cx="117.8" cy="792.1" r="5"/><circle cx="131.2" cy="792.1" r="5"/><circle cx="352.0" cy="759.0" r="5"/><circle cx="351.3" cy="759.0" r="5"/><circle cx="368.4" cy="759.0" r="5"/><circle cx="385.5" cy="759.0" r="5"/><circle cx="308.8" cy="767.5" r="5"/><circle cx="325.2" cy="767.5" r="5"/><circle cx="340.1" cy="767.5" r="5"/><circle cx="344.5" cy="767.5" r="5"/><circle cx="436.8" cy="767.5" r="5"/><circle cx="435.6" cy="767.5" r="5"/><circle cx="294.0" cy="774.2" r="5"/><circle cx="313.3" cy="774.2" r="5"/><circle cx="322.2" cy="774.2" r="5"/><circle cx="340.1" cy="774.2" r="5"/><circle cx="346.0" cy="774.2" r="5"/><circle cx="355.0" cy="774.2" r="5"/><circle cx="368.4" cy="774.2" r="5"/><circle cx="377.3" cy="774.2" r="5"/><circle cx="404.1" cy="774.2" r="5"/><circle cx="410.0" cy="774.2" r="5"/><circle cx="419.0" cy="774.2" r="5"/><circle cx="438.3" cy="774.2" r="5"/><circle cx="448.7" cy="774.2" r="5"/></g><path d="M119.0 844.0 L132.7 843.1 L146.3 842.1 L159.9 841.2 L173.6 840.2 L187.2 839.4 L200.9 838.5 L214.5 837.7 L228.2 837.0 L241.8 836.2 L255.4 835.6 L269.1 834.8 L282.7 834.2 L296.4 833.6 L310.0 833.2 L323.6 833.0 L337.3 833.0 L350.9 833.2 L364.6 833.5 L378.2 833.8 L391.9 834.0 L405.5 834.3 L419.1 834.5 L432.8 834.8 L446.4 835.1" fill="none" stroke="#2A49FE" stroke-width="6.2" stroke-linejoin="round"/>
</g>
<g clip-path="url(#c11)">
<rect x="491.9" y="475.0" width="389.0" height="400.8" fill="#E6E6E6"/>
<path d="M491.9 850.06h389.0M491.9 772.74h389.0M491.9 695.41h389.0M491.9 618.09h389.0M491.9 540.76h389.0M539.09 475.0v400.8M637.31 475.0v400.8M735.53 475.0v400.8M833.75 475.0v400.8" stroke="#fff" stroke-width="1.42" fill="none"/>
<path d="M491.9 811.40h389.0M491.9 734.08h389.0M491.9 656.75h389.0M491.9 579.43h389.0M491.9 502.10h389.0M588.20 475.0v400.8M686.42 475.0v400.8M784.64 475.0v400.8" stroke="#fff" stroke-width="2.85" fill="none"/>
<g class="p"><path d="M504.2 847.1Q504.2 836.1 515.2 836.1H530.2Q541.2 836.1 541.2 847.1V856.0Q541.2 862.0 535.2 862.0H510.2Q504.2 862.0 504.2 856.0Z"/><path d="M537.0 837.9Q537.0 826.9 548.0 826.9H563.0Q574.0 826.9 574.0 837.9V856.0Q574.0 862.0 568.0 862.0H543.0Q537.0 862.0 537.0 856.0Z"/><path d="M569.7 837.9Q569.7 826.9 580.7 826.9H595.7Q606.7 826.9 606.7 837.9V856.0Q606.7 862.0 600.7 862.0H575.7Q569.7 862.0 569.7 856.0Z"/><path d="M602.4 837.9Q602.4 826.9 613.4 826.9H628.4Q639.4 826.9 639.4 837.9V856.0Q639.4 862.0 633.4 862.0H608.4Q602.4 862.0 602.4 856.0Z"/><path d="M635.2 842.5Q635.2 831.5 646.2 831.5H661.2Q672.2 831.5 672.2 842.5V856.0Q672.2 862.0 666.2 862.0H641.2Q635.2 862.0 635.2 856.0Z"/><path d="M667.9 842.5Q667.9 831.5 678.9 831.5H693.9Q704.9 831.5 704.9 842.5V856.0Q704.9 862.0 698.9 862.0H673.9Q667.9 862.0 667.9 856.0Z"/><path d="M700.7 843.3Q700.7 832.3 711.7 832.3H726.7Q737.7 832.3 737.7 843.3V856.0Q737.7 862.0 731.7 862.0H706.7Q700.7 862.0 700.7 856.0Z"/><path d="M735.9 844.1Q735.9 833.1 746.9 833.1H756.9Q767.9 833.1 767.9 844.1V851.0Q767.9 851.1 767.8 851.1H736.0Q735.9 851.1 735.9 851.0Z"/><path d="M733.4 848.1Q733.4 843.1 738.4 843.1H765.4Q770.4 843.1 770.4 848.1V856.0Q770.4 862.0 764.4 862.0H739.4Q733.4 862.0 733.4 856.0Z"/><path d="M768.6 844.1Q768.6 833.1 779.6 833.1H789.6Q800.6 833.1 800.6 844.1V851.0Q800.6 851.1 800.5 851.1H768.7Q768.6 851.1 768.6 851.0Z"/><path d="M766.1 848.1Q766.1 843.1 771.1 843.1H798.1Q803.1 843.1 803.1 848.1V856.0Q803.1 862.0 797.1 862.0H772.1Q766.1 862.0 766.1 856.0Z"/><path d="M801.4 852.6Q801.4 841.6 812.4 841.6H822.4Q833.4 841.6 833.4 852.6V854.9Q833.4 855.0 833.3 855.0H801.5Q801.4 855.0 801.4 854.9Z"/><path d="M798.9 852.0Q798.9 847.0 803.9 847.0H830.9Q835.9 847.0 835.9 852.0V856.0Q835.9 862.0 829.9 862.0H804.9Q798.9 862.0 798.9 856.0Z"/><path d="M834.1 852.6Q834.1 841.6 845.1 841.6H857.6Q868.6 841.6 868.6 852.6V854.9Q868.6 855.0 868.5 855.0H834.2Q834.1 855.0 834.1 854.9Z"/><path d="M831.6 852.0Q831.6 847.0 836.6 847.0H863.6Q868.6 847.0 868.6 852.0V856.0Q868.6 862.0 862.6 862.0H837.6Q831.6 862.0 831.6 856.0Z"/></g><g class="k"><circle cx="509.6" cy="857.6" r="5.6"/><circle cx="516.4" cy="857.9" r="5.6"/><circle cx="522.6" cy="857.7" r="5.6"/><circle cx="529.4" cy="857.8" r="5.6"/><circle cx="535.3" cy="857.5" r="5.6"/><circle cx="514.3" cy="847.8" r="5.6"/><circle cx="518.1" cy="843.7" r="5.6"/><circle cx="522.9" cy="842.7" r="5.6"/><circle cx="527.4" cy="841.8" r="5.6"/><circle cx="532.1" cy="848.0" r="5.6"/><circle cx="509.8" cy="845.1" r="5.6"/><circle cx="510.3" cy="852.5" r="5.6"/><circle cx="542.0" cy="857.4" r="5.6"/><circle cx="548.1" cy="857.9" r="5.6"/><circle cx="555.4" cy="857.8" r="5.6"/><circle cx="563.0" cy="857.7" r="5.6"/><circle cx="569.3" cy="857.6" r="5.6"/><circle cx="545.1" cy="839.8" r="5.6"/><circle cx="550.5" cy="832.0" r="5.6"/><circle cx="556.5" cy="833.4" r="5.6"/><circle cx="559.4" cy="833.9" r="5.6"/><circle cx="565.6" cy="838.6" r="5.6"/><circle cx="574.9" cy="857.9" r="5.6"/><circle cx="580.8" cy="857.5" r="5.6"/><circle cx="588.3" cy="857.5" r="5.6"/><circle cx="595.4" cy="858.0" r="5.6"/><circle cx="601.1" cy="857.6" r="5.6"/><circle cx="580.2" cy="839.4" r="5.6"/><circle cx="583.9" cy="832.9" r="5.6"/><circle cx="588.6" cy="831.7" r="5.6"/><circle cx="593.7" cy="831.9" r="5.6"/><circle cx="598.8" cy="839.3" r="5.6"/><circle cx="608.7" cy="857.6" r="5.6"/><circle cx="614.9" cy="857.6" r="5.6"/><circle cx="621.9" cy="857.4" r="5.6"/><circle cx="627.0" cy="858.0" r="5.6"/><circle cx="633.3" cy="857.4" r="5.6"/><circle cx="612.4" cy="840.2" r="5.6"/><circle cx="616.8" cy="832.3" r="5.6"/><circle cx="620.2" cy="832.6" r="5.6"/><circle cx="626.9" cy="831.9" r="5.6"/><circle cx="630.2" cy="837.4" r="5.6"/><circle cx="641.5" cy="857.3" r="5.6"/><circle cx="647.8" cy="857.8" r="5.6"/><circle cx="653.1" cy="857.6" r="5.6"/><circle cx="660.8" cy="857.6" r="5.6"/><circle cx="665.8" cy="857.9" r="5.6"/><circle cx="643.9" cy="842.2" r="5.6"/><circle cx="647.5" cy="837.9" r="5.6"/><circle cx="654.0" cy="835.9" r="5.6"/><circle cx="659.3" cy="838.3" r="5.6"/><circle cx="663.5" cy="843.1" r="5.6"/><circle cx="674.2" cy="857.9" r="5.6"/><circle cx="679.9" cy="857.5" r="5.6"/><circle cx="687.0" cy="857.8" r="5.6"/><circle cx="692.3" cy="857.9" r="5.6"/><circle cx="698.7" cy="857.7" r="5.6"/><circle cx="676.7" cy="844.9" r="5.6"/><circle cx="682.3" cy="839.0" r="5.6"/><circle cx="687.3" cy="836.3" r="5.6"/><circle cx="691.4" cy="836.7" r="5.6"/><circle cx="696.0" cy="842.7" r="5.6"/><circle cx="706.5" cy="857.4" r="5.6"/><circle cx="711.8" cy="857.9" r="5.6"/><circle cx="718.7" cy="857.4" r="5.6"/><circle cx="724.9" cy="857.8" r="5.6"/><circle cx="733.1" cy="857.6" r="5.6"/><circle cx="710.3" cy="845.8" r="5.6"/><circle cx="713.3" cy="838.8" r="5.6"/><circle cx="720.3" cy="838.5" r="5.6"/><circle cx="723.1" cy="838.3" r="5.6"/><circle cx="727.9" cy="844.7" r="5.6"/><circle cx="738.4" cy="857.9" r="5.6"/><circle cx="745.8" cy="857.3" r="5.6"/><circle cx="752.1" cy="857.7" r="5.6"/><circle cx="758.9" cy="857.6" r="5.6"/><circle cx="765.7" cy="857.6" r="5.6"/><circle cx="742.1" cy="843.5" r="5.6"/><circle cx="745.7" cy="839.4" r="5.6"/><circle cx="752.2" cy="838.3" r="5.6"/><circle cx="757.8" cy="838.0" r="5.6"/><circle cx="761.0" cy="844.7" r="5.6"/><circle cx="772.1" cy="857.8" r="5.6"/><circle cx="779.0" cy="857.9" r="5.6"/><circle cx="785.4" cy="857.5" r="5.6"/><circle cx="791.6" cy="857.3" r="5.6"/><circle cx="797.2" cy="857.6" r="5.6"/><circle cx="776.0" cy="843.5" r="5.6"/><circle cx="779.0" cy="840.6" r="5.6"/><circle cx="783.3" cy="838.8" r="5.6"/><circle cx="788.3" cy="840.7" r="5.6"/><circle cx="794.2" cy="846.2" r="5.6"/><circle cx="805.3" cy="857.6" r="5.6"/><circle cx="810.4" cy="857.5" r="5.6"/><circle cx="817.3" cy="857.8" r="5.6"/><circle cx="824.9" cy="857.5" r="5.6"/><circle cx="830.0" cy="857.5" r="5.6"/><circle cx="808.9" cy="852.6" r="5.6"/><circle cx="812.5" cy="846.3" r="5.6"/><circle cx="817.9" cy="847.2" r="5.6"/><circle cx="822.7" cy="846.7" r="5.6"/><circle cx="826.6" cy="852.5" r="5.6"/><circle cx="837.8" cy="857.4" r="5.6"/><circle cx="843.2" cy="857.7" r="5.6"/><circle cx="850.4" cy="857.5" r="5.6"/><circle cx="856.3" cy="857.3" r="5.6"/><circle cx="863.7" cy="857.5" r="5.6"/><circle cx="840.1" cy="854.6" r="5.6"/><circle cx="845.1" cy="846.5" r="5.6"/><circle cx="849.0" cy="846.3" r="5.6"/><circle cx="854.5" cy="848.4" r="5.6"/><circle cx="859.4" cy="852.0" r="5.6"/><circle cx="863.0" cy="850.6" r="5.6"/></g><g class="q"><circle cx="525" cy="836" r="5"/><circle cx="535" cy="831" r="5"/><circle cx="522" cy="833" r="5"/><circle cx="515" cy="836" r="5"/><circle cx="517" cy="833" r="5"/><circle cx="515" cy="831" r="5"/><circle cx="511" cy="836" r="5"/><circle cx="512" cy="832" r="5"/><circle cx="519" cy="834" r="5"/><circle cx="518" cy="833" r="5"/><circle cx="553" cy="827" r="5"/><circle cx="554" cy="826" r="5"/><circle cx="545" cy="823" r="5"/><circle cx="560" cy="824" r="5"/><circle cx="565" cy="826" r="5"/><circle cx="552" cy="825" r="5"/><circle cx="553" cy="824" r="5"/><circle cx="543" cy="825" r="5"/><circle cx="556" cy="826" r="5"/><circle cx="543" cy="824" r="5"/><circle cx="575" cy="824" r="5"/><circle cx="579" cy="828" r="5"/><circle cx="580" cy="828" r="5"/><circle cx="579" cy="824" r="5"/><circle cx="594" cy="826" r="5"/><circle cx="592" cy="825" r="5"/><circle cx="588" cy="822" r="5"/><circle cx="583" cy="822" r="5"/><circle cx="593" cy="824" r="5"/><circle cx="575" cy="828" r="5"/><circle cx="609" cy="826" r="5"/><circle cx="633" cy="822" r="5"/><circle cx="630" cy="828" r="5"/><circle cx="626" cy="823" r="5"/><circle cx="629" cy="823" r="5"/><circle cx="612" cy="827" r="5"/><circle cx="629" cy="823" r="5"/><circle cx="631" cy="825" r="5"/><circle cx="631" cy="827" r="5"/><circle cx="633" cy="822" r="5"/><circle cx="649" cy="833" r="5"/><circle cx="655" cy="828" r="5"/><circle cx="650" cy="833" r="5"/><circle cx="648" cy="827" r="5"/><circle cx="643" cy="827" r="5"/><circle cx="647" cy="832" r="5"/><circle cx="644" cy="826" r="5"/><circle cx="664" cy="831" r="5"/><circle cx="643" cy="829" r="5"/><circle cx="664" cy="833" r="5"/><circle cx="690" cy="827" r="5"/><circle cx="685" cy="829" r="5"/><circle cx="694" cy="831" r="5"/><circle cx="680" cy="828" r="5"/><circle cx="688" cy="829" r="5"/><circle cx="682" cy="827" r="5"/><circle cx="681" cy="828" r="5"/><circle cx="697" cy="830" r="5"/><circle cx="675" cy="832" r="5"/><circle cx="675" cy="832" r="5"/><circle cx="709" cy="831" r="5"/><circle cx="716" cy="831" r="5"/><circle cx="723" cy="829" r="5"/><circle cx="724" cy="831" r="5"/><circle cx="723" cy="830" r="5"/><circle cx="709" cy="830" r="5"/><circle cx="714" cy="829" r="5"/><circle cx="725" cy="832" r="5"/><circle cx="717" cy="831" r="5"/><circle cx="714" cy="834" r="5"/><circle cx="740" cy="828" r="5"/><circle cx="758" cy="832" r="5"/><circle cx="756" cy="833" r="5"/><circle cx="757" cy="828" r="5"/><circle cx="759" cy="831" r="5"/><circle cx="765" cy="828" r="5"/><circle cx="740" cy="832" r="5"/><circle cx="751" cy="833" r="5"/><circle cx="755" cy="834" r="5"/><circle cx="758" cy="829" r="5"/><circle cx="773" cy="830" r="5"/><circle cx="779" cy="830" r="5"/><circle cx="790" cy="828" r="5"/><circle cx="792" cy="832" r="5"/><circle cx="791" cy="834" r="5"/><circle cx="790" cy="832" r="5"/><circle cx="778" cy="833" r="5"/><circle cx="777" cy="829" r="5"/><circle cx="774" cy="833" r="5"/><circle cx="777" cy="833" r="5"/><circle cx="823" cy="839" r="5"/><circle cx="822" cy="837" r="5"/><circle cx="816" cy="843" r="5"/><circle cx="809" cy="840" r="5"/><circle cx="823" cy="837" r="5"/><circle cx="818" cy="842" r="5"/><circle cx="820" cy="837" r="5"/><circle cx="813" cy="837" r="5"/><circle cx="828" cy="839" r="5"/><circle cx="817" cy="842" r="5"/><circle cx="840" cy="843" r="5"/><circle cx="853" cy="838" r="5"/><circle cx="863" cy="839" r="5"/><circle cx="863" cy="840" r="5"/><circle cx="841" cy="843" r="5"/><circle cx="845" cy="839" r="5"/><circle cx="863" cy="841" r="5"/><circle cx="843" cy="838" r="5"/><circle cx="847" cy="839" r="5"/><circle cx="841" cy="837" r="5"/><circle cx="828" cy="834" r="5"/><circle cx="829" cy="839" r="5"/><circle cx="805" cy="839" r="5"/><circle cx="828" cy="837" r="5"/><circle cx="810" cy="841" r="5"/><circle cx="809" cy="838" r="5"/><circle cx="829" cy="833" r="5"/><circle cx="824" cy="834" r="5"/><circle cx="809" cy="834" r="5"/><circle cx="810" cy="837" r="5"/><circle cx="838" cy="833" r="5"/><circle cx="840" cy="836" r="5"/><circle cx="854" cy="835" r="5"/><circle cx="855" cy="838" r="5"/><circle cx="858" cy="832" r="5"/><circle cx="853" cy="832" r="5"/><circle cx="859" cy="842" r="5"/><circle cx="855" cy="841" r="5"/><circle cx="854" cy="838" r="5"/><circle cx="859" cy="842" r="5"/><circle cx="555" cy="819" r="5"/><circle cx="548" cy="820" r="5"/><circle cx="563" cy="820" r="5"/><circle cx="559" cy="816" r="5"/><circle cx="549" cy="818" r="5"/><circle cx="566" cy="818" r="5"/><circle cx="566" cy="820" r="5"/><circle cx="557" cy="817" r="5"/><circle cx="555" cy="817" r="5"/><circle cx="568" cy="817" r="5"/><circle cx="555" cy="817" r="5"/><circle cx="565" cy="818" r="5"/><circle cx="544" cy="819" r="5"/><circle cx="591" cy="819" r="5"/><circle cx="579" cy="816" r="5"/><circle cx="588" cy="816" r="5"/><circle cx="597" cy="817" r="5"/><circle cx="586" cy="819" r="5"/><circle cx="577" cy="819" r="5"/><circle cx="588" cy="818" r="5"/><circle cx="579" cy="818" r="5"/><circle cx="585" cy="817" r="5"/><circle cx="583" cy="817" r="5"/><circle cx="592" cy="817" r="5"/><circle cx="582" cy="819" r="5"/><circle cx="588" cy="819" r="5"/><circle cx="591" cy="817" r="5"/><circle cx="589" cy="819" r="5"/><circle cx="609" cy="818" r="5"/><circle cx="620" cy="820" r="5"/><circle cx="617" cy="817" r="5"/><circle cx="624" cy="819" r="5"/><circle cx="633" cy="816" r="5"/><circle cx="609" cy="819" r="5"/><circle cx="624" cy="819" r="5"/><circle cx="613" cy="817" r="5"/><circle cx="631" cy="818" r="5"/><circle cx="633" cy="818" r="5"/><circle cx="624" cy="818" r="5"/><circle cx="629" cy="817" r="5"/><circle cx="621" cy="818" r="5"/><circle cx="629" cy="817" r="5"/><circle cx="625" cy="819" r="5"/><circle cx="611" cy="819" r="5"/><circle cx="609" cy="819" r="5"/><circle cx="650" cy="819" r="5"/><circle cx="644" cy="818" r="5"/><circle cx="664" cy="819" r="5"/><circle cx="660" cy="818" r="5"/><circle cx="641" cy="817" r="5"/><circle cx="643" cy="818" r="5"/><circle cx="641" cy="819" r="5"/><circle cx="650" cy="818" r="5"/><circle cx="654" cy="816" r="5"/><circle cx="657" cy="818" r="5"/><circle cx="662" cy="818" r="5"/><circle cx="659" cy="818" r="5"/><circle cx="660" cy="819" r="5"/><circle cx="645" cy="817" r="5"/><circle cx="660" cy="819" r="5"/><circle cx="642" cy="818" r="5"/><circle cx="643" cy="818" r="5"/><circle cx="694" cy="817" r="5"/><circle cx="695" cy="819" r="5"/><circle cx="692" cy="820" r="5"/><circle cx="699" cy="817" r="5"/><circle cx="694" cy="817" r="5"/><circle cx="695" cy="817" r="5"/><circle cx="698" cy="820" r="5"/><circle cx="675" cy="817" r="5"/><circle cx="676" cy="817" r="5"/><circle cx="684" cy="817" r="5"/><circle cx="676" cy="818" r="5"/><circle cx="692" cy="817" r="5"/><circle cx="678" cy="819" r="5"/><circle cx="696" cy="817" r="5"/><circle cx="687" cy="820" r="5"/><circle cx="692" cy="817" r="5"/><circle cx="690" cy="816" r="5"/><circle cx="723" cy="817" r="5"/><circle cx="713" cy="819" r="5"/><circle cx="732" cy="816" r="5"/><circle cx="709" cy="818" r="5"/><circle cx="724" cy="818" r="5"/><circle cx="716" cy="819" r="5"/><circle cx="730" cy="819" r="5"/><circle cx="708" cy="817" r="5"/><circle cx="706" cy="818" r="5"/><circle cx="721" cy="817" r="5"/><circle cx="713" cy="818" r="5"/><circle cx="723" cy="817" r="5"/><circle cx="718" cy="817" r="5"/><circle cx="718" cy="817" r="5"/><circle cx="716" cy="817" r="5"/><circle cx="714" cy="818" r="5"/><circle cx="726" cy="820" r="5"/><circle cx="759" cy="819" r="5"/><circle cx="759" cy="819" r="5"/><circle cx="745" cy="819" r="5"/><circle cx="746" cy="818" r="5"/><circle cx="748" cy="817" r="5"/><circle cx="749" cy="817" r="5"/><circle cx="747" cy="818" r="5"/><circle cx="754" cy="819" r="5"/><circle cx="759" cy="818" r="5"/><circle cx="753" cy="817" r="5"/><circle cx="745" cy="819" r="5"/><circle cx="762" cy="817" r="5"/><circle cx="751" cy="816" r="5"/><circle cx="764" cy="817" r="5"/><circle cx="742" cy="818" r="5"/><circle cx="749" cy="818" r="5"/><circle cx="747" cy="818" r="5"/><circle cx="795" cy="819" r="5"/><circle cx="774" cy="818" r="5"/><circle cx="772" cy="819" r="5"/><circle cx="778" cy="817" r="5"/><circle cx="776" cy="818" r="5"/><circle cx="794" cy="817" r="5"/><circle cx="782" cy="819" r="5"/><circle cx="796" cy="817" r="5"/><circle cx="822" cy="819" r="5"/><circle cx="811" cy="817" r="5"/><circle cx="826" cy="817" r="5"/><circle cx="845" cy="817" r="5"/><circle cx="858" cy="817" r="5"/><circle cx="856" cy="820" r="5"/><circle cx="527" cy="824" r="5"/><circle cx="516" cy="825" r="5"/><circle cx="521" cy="832" r="5"/><circle cx="527" cy="833" r="5"/><circle cx="535" cy="833" r="5"/><circle cx="531" cy="829" r="5"/><circle cx="513" cy="825" r="5"/><circle cx="813" cy="795" r="5"/><circle cx="828" cy="795" r="5"/><circle cx="820" cy="798" r="5"/><circle cx="824" cy="799" r="5"/><circle cx="808" cy="795" r="5"/><circle cx="811" cy="795" r="5"/><circle cx="824" cy="798" r="5"/><circle cx="830" cy="798" r="5"/><circle cx="816" cy="795" r="5"/><circle cx="805" cy="797" r="5"/><circle cx="819" cy="794" r="5"/><circle cx="861" cy="799" r="5"/><circle cx="843" cy="798" r="5"/><circle cx="843" cy="799" r="5"/><circle cx="853" cy="795" r="5"/><circle cx="838" cy="794" r="5"/><circle cx="854" cy="796" r="5"/><circle cx="848" cy="794" r="5"/><circle cx="858" cy="797" r="5"/><circle cx="851" cy="794" r="5"/><circle cx="853" cy="799" r="5"/><circle cx="838" cy="795" r="5"/><circle cx="855" cy="797" r="5"/><circle cx="852" cy="797" r="5"/><circle cx="839" cy="796" r="5"/><circle cx="839" cy="798" r="5"/><circle cx="738" cy="842" r="5"/><circle cx="740" cy="844" r="5"/><circle cx="739" cy="837" r="5"/><circle cx="765" cy="839" r="5"/><circle cx="764" cy="845" r="5"/><circle cx="765" cy="841" r="5"/><circle cx="772" cy="842" r="5"/><circle cx="771" cy="839" r="5"/><circle cx="771" cy="846" r="5"/><circle cx="797" cy="847" r="5"/><circle cx="798" cy="838" r="5"/><circle cx="798" cy="840" r="5"/><circle cx="804" cy="849" r="5"/><circle cx="804" cy="850" r="5"/><circle cx="805" cy="850" r="5"/><circle cx="830" cy="845" r="5"/><circle cx="831" cy="851" r="5"/><circle cx="830" cy="850" r="5"/><circle cx="837" cy="848" r="5"/><circle cx="837" cy="845" r="5"/><circle cx="838" cy="849" r="5"/><circle cx="863" cy="846" r="5"/><circle cx="862" cy="846" r="5"/><circle cx="862" cy="846" r="5"/></g><g class="p"><circle cx="534.4" cy="834.1" r="5"/><circle cx="511.1" cy="834.6" r="5"/><circle cx="512.9" cy="822.4" r="5"/><circle cx="531.5" cy="823.3" r="5"/><circle cx="514.5" cy="826.1" r="5"/><circle cx="530.5" cy="825.6" r="5"/><circle cx="516.7" cy="822.6" r="5"/><circle cx="528.7" cy="826.1" r="5"/><circle cx="517.1" cy="829.7" r="5"/><circle cx="529.5" cy="828.2" r="5"/><circle cx="522.4" cy="823.2" r="5"/><circle cx="520.6" cy="824.0" r="5"/><circle cx="510.8" cy="828.0" r="5"/><circle cx="528.3" cy="834.5" r="5"/><circle cx="527.9" cy="831.1" r="5"/><circle cx="526.0" cy="826.9" r="5"/><circle cx="513.2" cy="822.9" r="5"/><circle cx="516.0" cy="832.9" r="5"/><circle cx="521.2" cy="833.8" r="5"/><circle cx="512.3" cy="825.2" r="5"/><circle cx="512.2" cy="827.9" r="5"/><circle cx="532.8" cy="829.0" r="5"/><circle cx="661.9" cy="824.3" r="5"/><circle cx="644.9" cy="833.7" r="5"/><circle cx="661.1" cy="823.9" r="5"/><circle cx="662.9" cy="825.8" r="5"/><circle cx="653.9" cy="822.7" r="5"/><circle cx="660.0" cy="825.2" r="5"/><circle cx="664.5" cy="833.9" r="5"/><circle cx="660.0" cy="827.4" r="5"/><circle cx="640.9" cy="831.4" r="5"/><circle cx="659.3" cy="828.1" r="5"/><circle cx="655.3" cy="831.0" r="5"/><circle cx="655.4" cy="823.7" r="5"/><circle cx="666.3" cy="827.8" r="5"/><circle cx="659.7" cy="833.5" r="5"/><circle cx="644.3" cy="827.7" r="5"/><circle cx="662.2" cy="833.1" r="5"/><circle cx="644.4" cy="828.4" r="5"/><circle cx="648.6" cy="832.9" r="5"/><circle cx="644.7" cy="829.3" r="5"/><circle cx="661.3" cy="832.5" r="5"/><circle cx="661.7" cy="833.7" r="5"/><circle cx="647.2" cy="826.3" r="5"/><circle cx="673.5" cy="830.6" r="5"/><circle cx="677.4" cy="831.7" r="5"/><circle cx="696.5" cy="832.6" r="5"/><circle cx="692.2" cy="823.3" r="5"/><circle cx="679.8" cy="823.9" r="5"/><circle cx="681.7" cy="825.0" r="5"/><circle cx="688.5" cy="830.3" r="5"/><circle cx="696.5" cy="826.0" r="5"/><circle cx="681.7" cy="827.5" r="5"/><circle cx="681.0" cy="831.1" r="5"/><circle cx="697.9" cy="822.5" r="5"/><circle cx="677.5" cy="823.3" r="5"/><circle cx="692.0" cy="834.5" r="5"/><circle cx="676.2" cy="829.2" r="5"/><circle cx="696.6" cy="823.8" r="5"/><circle cx="679.9" cy="829.1" r="5"/><circle cx="697.6" cy="832.0" r="5"/><circle cx="676.1" cy="829.5" r="5"/><circle cx="691.2" cy="823.8" r="5"/><circle cx="696.3" cy="834.5" r="5"/><circle cx="677.9" cy="833.0" r="5"/><circle cx="688.9" cy="829.6" r="5"/><circle cx="730.2" cy="827.0" r="5"/><circle cx="722.2" cy="826.1" r="5"/><circle cx="711.4" cy="823.5" r="5"/><circle cx="728.6" cy="824.4" r="5"/><circle cx="726.6" cy="832.5" r="5"/><circle cx="707.5" cy="830.1" r="5"/><circle cx="724.8" cy="832.1" r="5"/><circle cx="728.8" cy="824.0" r="5"/><circle cx="724.3" cy="828.6" r="5"/><circle cx="710.0" cy="824.6" r="5"/><circle cx="710.6" cy="828.5" r="5"/><circle cx="725.9" cy="826.7" r="5"/><circle cx="712.2" cy="823.7" r="5"/><circle cx="714.5" cy="829.4" r="5"/><circle cx="717.5" cy="825.9" r="5"/><circle cx="707.1" cy="826.7" r="5"/><circle cx="718.8" cy="824.7" r="5"/><circle cx="715.6" cy="827.5" r="5"/><circle cx="731.4" cy="833.9" r="5"/><circle cx="726.8" cy="828.8" r="5"/><circle cx="713.9" cy="831.2" r="5"/><circle cx="711.8" cy="824.2" r="5"/><circle cx="744.1" cy="822.7" r="5"/><circle cx="752.3" cy="831.1" r="5"/><circle cx="759.3" cy="827.4" r="5"/><circle cx="762.0" cy="832.8" r="5"/><circle cx="756.9" cy="834.3" r="5"/><circle cx="743.6" cy="829.5" r="5"/><circle cx="747.0" cy="831.1" r="5"/><circle cx="753.7" cy="825.4" r="5"/><circle cx="749.7" cy="828.3" r="5"/><circle cx="759.3" cy="831.8" r="5"/><circle cx="764.9" cy="834.3" r="5"/><circle cx="748.5" cy="824.4" r="5"/><circle cx="745.0" cy="830.5" r="5"/><circle cx="743.3" cy="822.5" r="5"/><circle cx="761.8" cy="833.6" r="5"/><circle cx="752.9" cy="832.7" r="5"/><circle cx="739.3" cy="831.9" r="5"/><circle cx="757.2" cy="828.1" r="5"/><circle cx="746.3" cy="827.4" r="5"/><circle cx="741.0" cy="830.4" r="5"/><circle cx="741.4" cy="824.4" r="5"/><circle cx="748.8" cy="825.7" r="5"/><circle cx="780.3" cy="829.5" r="5"/><circle cx="786.6" cy="831.4" r="5"/><circle cx="785.9" cy="825.0" r="5"/><circle cx="773.5" cy="832.1" r="5"/><circle cx="772.1" cy="828.6" r="5"/><circle cx="774.4" cy="828.2" r="5"/><circle cx="775.8" cy="828.1" r="5"/><circle cx="778.9" cy="825.3" r="5"/><circle cx="792.9" cy="822.7" r="5"/><circle cx="783.7" cy="823.6" r="5"/><circle cx="794.1" cy="830.4" r="5"/><circle cx="797.2" cy="822.7" r="5"/><circle cx="775.7" cy="825.3" r="5"/><circle cx="789.5" cy="827.0" r="5"/><circle cx="790.2" cy="831.2" r="5"/><circle cx="793.4" cy="825.7" r="5"/><circle cx="776.3" cy="822.6" r="5"/><circle cx="790.8" cy="833.9" r="5"/><circle cx="772.4" cy="832.5" r="5"/><circle cx="788.9" cy="825.7" r="5"/><circle cx="828.7" cy="823.7" r="5"/><circle cx="809.6" cy="832.2" r="5"/><circle cx="806.5" cy="829.8" r="5"/><circle cx="815.4" cy="829.9" r="5"/><circle cx="825.8" cy="827.0" r="5"/><circle cx="825.3" cy="823.9" r="5"/><circle cx="824.3" cy="828.2" r="5"/><circle cx="815.0" cy="828.0" r="5"/><circle cx="816.3" cy="826.3" r="5"/><circle cx="826.6" cy="826.2" r="5"/><circle cx="810.9" cy="827.6" r="5"/><circle cx="816.2" cy="833.1" r="5"/><circle cx="807.0" cy="829.0" r="5"/><circle cx="828.9" cy="825.9" r="5"/><circle cx="805.7" cy="823.3" r="5"/><circle cx="823.3" cy="827.1" r="5"/><circle cx="804.4" cy="830.8" r="5"/><circle cx="813.0" cy="828.6" r="5"/><circle cx="807.5" cy="826.8" r="5"/><circle cx="820.3" cy="826.7" r="5"/><circle cx="850.0" cy="827.7" r="5"/><circle cx="840.0" cy="824.4" r="5"/><circle cx="859.8" cy="824.1" r="5"/><circle cx="857.1" cy="831.6" r="5"/><circle cx="844.7" cy="834.0" r="5"/><circle cx="857.6" cy="824.0" r="5"/><circle cx="861.6" cy="827.2" r="5"/><circle cx="858.0" cy="824.1" r="5"/><circle cx="840.2" cy="833.8" r="5"/><circle cx="860.0" cy="822.6" r="5"/><circle cx="855.8" cy="826.9" r="5"/><circle cx="847.4" cy="824.0" r="5"/><circle cx="844.5" cy="833.9" r="5"/><circle cx="858.1" cy="833.8" r="5"/><circle cx="855.8" cy="826.6" r="5"/><circle cx="839.9" cy="829.2" r="5"/><circle cx="844.2" cy="824.6" r="5"/><circle cx="857.4" cy="830.5" r="5"/><circle cx="841.1" cy="830.4" r="5"/><circle cx="848.5" cy="827.1" r="5"/><circle cx="861.8" cy="830.6" r="5"/><circle cx="840.9" cy="826.8" r="5"/><circle cx="520.8" cy="821.7" r="5"/><circle cx="527.0" cy="823.1" r="5"/><circle cx="531.0" cy="825.5" r="5"/><circle cx="530.1" cy="825.6" r="5"/><circle cx="522.2" cy="823.0" r="5"/><circle cx="523.9" cy="826.1" r="5"/><circle cx="554.4" cy="824.9" r="5"/><circle cx="549.6" cy="823.9" r="5"/><circle cx="553.2" cy="825.4" r="5"/><circle cx="560.3" cy="820.4" r="5"/><circle cx="567.2" cy="825.6" r="5"/><circle cx="548.4" cy="824.0" r="5"/><circle cx="557.9" cy="822.0" r="5"/><circle cx="557.8" cy="823.4" r="5"/><circle cx="601.3" cy="820.2" r="5"/><circle cx="596.2" cy="825.1" r="5"/><circle cx="595.2" cy="826.6" r="5"/><circle cx="599.9" cy="822.0" r="5"/><circle cx="599.3" cy="823.9" r="5"/><circle cx="593.7" cy="825.1" r="5"/><circle cx="599.3" cy="825.6" r="5"/><circle cx="575.3" cy="824.9" r="5"/><circle cx="625.2" cy="823.1" r="5"/><circle cx="629.0" cy="822.1" r="5"/><circle cx="628.3" cy="820.3" r="5"/><circle cx="609.6" cy="826.1" r="5"/><circle cx="615.4" cy="825.9" r="5"/><circle cx="622.3" cy="821.9" r="5"/><circle cx="612.6" cy="823.4" r="5"/><circle cx="614.3" cy="826.7" r="5"/><circle cx="647.5" cy="825.0" r="5"/><circle cx="658.6" cy="820.1" r="5"/><circle cx="642.4" cy="823.5" r="5"/><circle cx="652.7" cy="822.5" r="5"/><circle cx="644.5" cy="820.2" r="5"/><circle cx="647.8" cy="822.8" r="5"/><circle cx="684.0" cy="823.0" r="5"/><circle cx="696.4" cy="822.6" r="5"/><circle cx="682.3" cy="820.2" r="5"/><circle cx="677.9" cy="820.2" r="5"/><circle cx="691.0" cy="825.2" r="5"/><circle cx="699.1" cy="820.8" r="5"/><circle cx="719.4" cy="821.2" r="5"/><circle cx="708.5" cy="825.0" r="5"/><circle cx="718.6" cy="820.3" r="5"/><circle cx="715.7" cy="820.0" r="5"/><circle cx="721.3" cy="821.9" r="5"/><circle cx="726.5" cy="825.9" r="5"/><circle cx="762.9" cy="822.7" r="5"/><circle cx="742.0" cy="825.8" r="5"/><circle cx="759.7" cy="823.0" r="5"/><circle cx="763.1" cy="820.9" r="5"/><circle cx="753.2" cy="824.0" r="5"/><circle cx="758.8" cy="820.1" r="5"/><circle cx="779.6" cy="823.3" r="5"/><circle cx="774.6" cy="826.6" r="5"/><circle cx="773.1" cy="824.3" r="5"/><circle cx="787.7" cy="820.9" r="5"/><circle cx="791.2" cy="820.2" r="5"/><circle cx="778.2" cy="820.9" r="5"/><circle cx="812.7" cy="824.3" r="5"/><circle cx="818.5" cy="819.9" r="5"/><circle cx="816.4" cy="826.5" r="5"/><circle cx="813.9" cy="822.9" r="5"/><circle cx="822.2" cy="825.8" r="5"/><circle cx="811.7" cy="825.7" r="5"/><circle cx="850.5" cy="824.1" r="5"/><circle cx="845.4" cy="823.3" r="5"/><circle cx="856.8" cy="822.6" r="5"/><circle cx="856.2" cy="824.1" r="5"/><circle cx="861.3" cy="826.1" r="5"/><circle cx="838.9" cy="826.2" r="5"/><circle cx="511.0" cy="818.5" r="5"/><circle cx="510.7" cy="818.5" r="5"/><circle cx="510.1" cy="818.5" r="5"/><circle cx="521.9" cy="818.8" r="5"/><circle cx="521.6" cy="818.8" r="5"/><circle cx="526.4" cy="817.1" r="5"/><circle cx="526.5" cy="817.1" r="5"/><circle cx="534.8" cy="817.1" r="5"/><circle cx="534.9" cy="817.1" r="5"/><circle cx="535.7" cy="817.1" r="5"/><circle cx="551.1" cy="817.1" r="5"/><circle cx="548.1" cy="817.4" r="5"/><circle cx="548.1" cy="817.4" r="5"/><circle cx="562.8" cy="818.0" r="5"/><circle cx="562.8" cy="818.0" r="5"/><circle cx="561.5" cy="818.4" r="5"/><circle cx="561.5" cy="818.4" r="5"/><circle cx="564.4" cy="817.3" r="5"/><circle cx="590.2" cy="817.7" r="5"/><circle cx="590.1" cy="817.7" r="5"/><circle cx="588.0" cy="818.6" r="5"/><circle cx="583.6" cy="818.2" r="5"/><circle cx="584.7" cy="819.0" r="5"/><circle cx="584.1" cy="819.0" r="5"/><circle cx="589.8" cy="818.6" r="5"/><circle cx="589.6" cy="818.6" r="5"/><circle cx="588.9" cy="818.6" r="5"/><circle cx="629.4" cy="817.5" r="5"/><circle cx="610.8" cy="818.1" r="5"/><circle cx="613.0" cy="817.6" r="5"/><circle cx="613.5" cy="817.6" r="5"/><circle cx="629.5" cy="819.0" r="5"/><circle cx="617.3" cy="818.0" r="5"/><circle cx="617.7" cy="818.0" r="5"/><circle cx="616.6" cy="817.1" r="5"/><circle cx="615.8" cy="817.1" r="5"/><circle cx="616.2" cy="817.1" r="5"/><circle cx="664.8" cy="818.4" r="5"/><circle cx="663.9" cy="818.7" r="5"/><circle cx="651.0" cy="819.0" r="5"/><circle cx="651.4" cy="819.0" r="5"/><circle cx="645.7" cy="817.8" r="5"/><circle cx="652.6" cy="818.1" r="5"/><circle cx="652.9" cy="818.1" r="5"/><circle cx="662.3" cy="817.2" r="5"/><circle cx="662.0" cy="817.2" r="5"/><circle cx="685.0" cy="818.0" r="5"/><circle cx="682.6" cy="818.3" r="5"/><circle cx="683.5" cy="818.3" r="5"/><circle cx="677.3" cy="817.3" r="5"/><circle cx="677.8" cy="817.3" r="5"/><circle cx="677.1" cy="817.3" r="5"/><circle cx="688.9" cy="818.5" r="5"/><circle cx="689.2" cy="818.5" r="5"/><circle cx="720.3" cy="817.3" r="5"/><circle cx="724.4" cy="817.0" r="5"/><circle cx="717.3" cy="817.8" r="5"/><circle cx="716.6" cy="817.8" r="5"/><circle cx="712.9" cy="817.5" r="5"/><circle cx="712.1" cy="817.5" r="5"/><circle cx="712.0" cy="817.5" r="5"/><circle cx="731.4" cy="817.6" r="5"/><circle cx="731.7" cy="817.6" r="5"/><circle cx="761.8" cy="817.2" r="5"/><circle cx="741.2" cy="817.1" r="5"/><circle cx="748.5" cy="817.5" r="5"/><circle cx="747.8" cy="817.5" r="5"/><circle cx="749.2" cy="817.5" r="5"/><circle cx="753.4" cy="817.1" r="5"/><circle cx="758.8" cy="818.3" r="5"/><circle cx="759.1" cy="818.3" r="5"/><circle cx="758.8" cy="818.3" r="5"/><circle cx="777.9" cy="818.1" r="5"/><circle cx="784.5" cy="817.9" r="5"/><circle cx="784.0" cy="817.9" r="5"/><circle cx="783.9" cy="817.9" r="5"/><circle cx="790.2" cy="818.9" r="5"/><circle cx="790.7" cy="818.9" r="5"/><circle cx="789.3" cy="818.9" r="5"/><circle cx="792.2" cy="818.7" r="5"/><circle cx="785.9" cy="818.6" r="5"/><circle cx="786.7" cy="818.6" r="5"/><circle cx="787.6" cy="819.0" r="5"/><circle cx="789.3" cy="818.3" r="5"/><circle cx="789.7" cy="818.3" r="5"/><circle cx="814.5" cy="819.1" r="5"/><circle cx="830.0" cy="817.3" r="5"/><circle cx="806.9" cy="817.6" r="5"/><circle cx="806.8" cy="817.6" r="5"/><circle cx="810.2" cy="818.6" r="5"/><circle cx="810.1" cy="818.6" r="5"/><circle cx="826.7" cy="818.3" r="5"/><circle cx="827.6" cy="818.3" r="5"/><circle cx="817.0" cy="818.7" r="5"/><circle cx="817.5" cy="818.7" r="5"/><circle cx="807.3" cy="818.1" r="5"/><circle cx="808.1" cy="818.1" r="5"/><circle cx="848.9" cy="818.4" r="5"/><circle cx="861.1" cy="818.2" r="5"/><circle cx="841.2" cy="819.1" r="5"/><circle cx="840.9" cy="819.1" r="5"/><circle cx="847.4" cy="818.5" r="5"/><circle cx="855.0" cy="818.6" r="5"/><circle cx="852.7" cy="817.0" r="5"/><circle cx="852.3" cy="817.0" r="5"/><circle cx="841.6" cy="818.2" r="5"/><circle cx="841.2" cy="818.2" r="5"/><circle cx="844.8" cy="819.1" r="5"/><circle cx="850.6" cy="818.3" r="5"/><circle cx="849.9" cy="818.3" r="5"/><circle cx="850.3" cy="818.3" r="5"/><circle cx="516.8" cy="807.3" r="5"/><circle cx="524.6" cy="803.8" r="5"/><circle cx="559.7" cy="814.4" r="5"/><circle cx="562.0" cy="804.0" r="5"/><circle cx="599.4" cy="811.7" r="5"/><circle cx="590.4" cy="812.2" r="5"/><circle cx="591.5" cy="805.5" r="5"/><circle cx="630.5" cy="808.0" r="5"/><circle cx="622.6" cy="810.8" r="5"/><circle cx="610.4" cy="809.2" r="5"/><circle cx="645.3" cy="806.0" r="5"/><circle cx="646.8" cy="809.8" r="5"/><circle cx="640.9" cy="810.7" r="5"/><circle cx="662.7" cy="813.1" r="5"/><circle cx="686.6" cy="805.3" r="5"/><circle cx="698.0" cy="806.5" r="5"/><circle cx="674.6" cy="805.1" r="5"/><circle cx="695.6" cy="804.1" r="5"/><circle cx="726.7" cy="805.6" r="5"/><circle cx="725.8" cy="809.1" r="5"/><circle cx="707.6" cy="811.8" r="5"/><circle cx="718.4" cy="808.3" r="5"/><circle cx="764.9" cy="810.0" r="5"/><circle cx="750.2" cy="805.1" r="5"/><circle cx="746.4" cy="809.8" r="5"/><circle cx="743.4" cy="808.5" r="5"/><circle cx="775.4" cy="806.9" r="5"/><circle cx="783.3" cy="812.1" r="5"/><circle cx="778.4" cy="807.2" r="5"/><circle cx="779.9" cy="802.4" r="5"/><circle cx="796.9" cy="809.6" r="5"/><circle cx="822.4" cy="811.4" r="5"/><circle cx="808.8" cy="804.8" r="5"/><circle cx="828.8" cy="811.5" r="5"/><circle cx="812.3" cy="806.7" r="5"/><circle cx="808.3" cy="811.9" r="5"/><circle cx="817.1" cy="809.1" r="5"/><circle cx="844.1" cy="808.4" r="5"/><circle cx="844.3" cy="809.5" r="5"/><circle cx="857.5" cy="807.2" r="5"/><circle cx="848.5" cy="808.8" r="5"/><circle cx="862.3" cy="802.5" r="5"/><circle cx="860.0" cy="805.2" r="5"/><circle cx="520.9" cy="824.2" r="5"/><circle cx="513.0" cy="816.9" r="5"/><circle cx="514.2" cy="831.8" r="5"/><circle cx="526.0" cy="831.2" r="5"/><circle cx="529.1" cy="827.9" r="5"/><circle cx="529.0" cy="823.7" r="5"/><circle cx="513.1" cy="824.3" r="5"/><circle cx="527.1" cy="833.0" r="5"/><circle cx="513.1" cy="826.7" r="5"/><circle cx="525.1" cy="826.1" r="5"/><circle cx="520.2" cy="821.7" r="5"/><circle cx="516.0" cy="828.0" r="5"/><circle cx="521.9" cy="817.2" r="5"/><circle cx="520.2" cy="831.8" r="5"/><circle cx="515.7" cy="824.2" r="5"/><circle cx="535.2" cy="822.1" r="5"/><circle cx="523.6" cy="829.0" r="5"/><circle cx="518.4" cy="818.2" r="5"/><circle cx="535.3" cy="826.8" r="5"/><circle cx="526.5" cy="821.2" r="5"/><circle cx="528.7" cy="828.2" r="5"/><circle cx="515.8" cy="826.8" r="5"/><circle cx="522.3" cy="829.2" r="5"/><circle cx="510.5" cy="817.4" r="5"/><circle cx="518.9" cy="824.7" r="5"/><circle cx="517.2" cy="817.0" r="5"/><circle cx="544.4" cy="797.5" r="5"/><circle cx="548.2" cy="800.1" r="5"/><circle cx="543.2" cy="801.0" r="5"/><circle cx="565.0" cy="797.7" r="5"/><circle cx="586.8" cy="797.5" r="5"/><circle cx="582.4" cy="799.4" r="5"/><circle cx="585.6" cy="799.7" r="5"/><circle cx="588.7" cy="799.1" r="5"/><circle cx="593.9" cy="797.8" r="5"/><circle cx="584.9" cy="799.4" r="5"/><circle cx="622.5" cy="800.6" r="5"/><circle cx="609.7" cy="801.2" r="5"/><circle cx="627.8" cy="800.6" r="5"/><circle cx="610.7" cy="797.9" r="5"/><circle cx="625.4" cy="799.3" r="5"/><circle cx="611.4" cy="797.2" r="5"/><circle cx="614.0" cy="800.8" r="5"/><circle cx="627.2" cy="800.3" r="5"/><circle cx="666.0" cy="797.2" r="5"/><circle cx="652.1" cy="797.8" r="5"/><circle cx="644.7" cy="798.2" r="5"/><circle cx="649.1" cy="800.5" r="5"/><circle cx="659.4" cy="797.0" r="5"/><circle cx="654.9" cy="797.7" r="5"/><circle cx="683.3" cy="799.7" r="5"/><circle cx="691.8" cy="798.2" r="5"/><circle cx="673.6" cy="800.4" r="5"/><circle cx="691.1" cy="799.0" r="5"/><circle cx="677.1" cy="799.7" r="5"/><circle cx="697.6" cy="800.8" r="5"/><circle cx="673.4" cy="801.1" r="5"/><circle cx="687.9" cy="796.9" r="5"/><circle cx="731.3" cy="796.3" r="5"/><circle cx="710.0" cy="799.1" r="5"/><circle cx="729.1" cy="795.0" r="5"/><circle cx="722.4" cy="793.9" r="5"/><circle cx="720.4" cy="795.3" r="5"/><circle cx="716.6" cy="799.8" r="5"/><circle cx="729.7" cy="796.9" r="5"/><circle cx="707.5" cy="794.8" r="5"/><circle cx="709.4" cy="798.1" r="5"/><circle cx="727.6" cy="795.6" r="5"/><circle cx="730.6" cy="794.4" r="5"/><circle cx="715.1" cy="797.5" r="5"/><circle cx="710.2" cy="794.9" r="5"/><circle cx="728.4" cy="797.1" r="5"/><circle cx="727.1" cy="793.6" r="5"/><circle cx="723.0" cy="796.8" r="5"/><circle cx="723.7" cy="796.4" r="5"/><circle cx="715.5" cy="796.7" r="5"/><circle cx="728.4" cy="798.1" r="5"/><circle cx="708.4" cy="793.9" r="5"/><circle cx="710.5" cy="798.6" r="5"/><circle cx="713.7" cy="793.8" r="5"/><circle cx="753.3" cy="794.7" r="5"/><circle cx="757.6" cy="794.8" r="5"/><circle cx="739.2" cy="799.2" r="5"/><circle cx="755.7" cy="795.0" r="5"/><circle cx="759.3" cy="797.4" r="5"/><circle cx="748.6" cy="794.2" r="5"/><circle cx="759.3" cy="797.7" r="5"/><circle cx="757.5" cy="799.3" r="5"/><circle cx="759.1" cy="798.0" r="5"/><circle cx="742.5" cy="796.1" r="5"/><circle cx="753.0" cy="796.2" r="5"/><circle cx="744.7" cy="794.5" r="5"/><circle cx="755.9" cy="799.6" r="5"/><circle cx="764.4" cy="798.3" r="5"/><circle cx="741.0" cy="795.7" r="5"/><circle cx="754.0" cy="799.1" r="5"/><circle cx="777.1" cy="797.5" r="5"/><circle cx="794.0" cy="798.7" r="5"/><circle cx="777.0" cy="799.7" r="5"/><circle cx="780.8" cy="799.3" r="5"/><circle cx="783.5" cy="797.0" r="5"/><circle cx="777.3" cy="797.6" r="5"/><circle cx="786.0" cy="795.5" r="5"/><circle cx="795.5" cy="799.0" r="5"/><circle cx="794.9" cy="797.2" r="5"/><circle cx="775.5" cy="797.8" r="5"/><circle cx="778.0" cy="794.5" r="5"/><circle cx="771.8" cy="798.5" r="5"/><circle cx="785.7" cy="798.5" r="5"/><circle cx="794.1" cy="799.2" r="5"/><circle cx="795.7" cy="795.7" r="5"/><circle cx="794.1" cy="796.7" r="5"/><circle cx="773.0" cy="794.8" r="5"/><circle cx="781.6" cy="796.3" r="5"/><circle cx="791.1" cy="799.0" r="5"/><circle cx="777.8" cy="797.8" r="5"/><circle cx="775.9" cy="794.4" r="5"/><circle cx="788.6" cy="797.8" r="5"/><circle cx="791.0" cy="795.1" r="5"/><circle cx="779.7" cy="795.1" r="5"/><circle cx="791.0" cy="794.9" r="5"/><circle cx="792.8" cy="799.6" r="5"/><circle cx="782.2" cy="797.2" r="5"/><circle cx="815.7" cy="793.8" r="5"/><circle cx="819.8" cy="794.3" r="5"/><circle cx="814.9" cy="797.2" r="5"/><circle cx="811.7" cy="795.8" r="5"/><circle cx="825.7" cy="795.4" r="5"/><circle cx="804.8" cy="797.7" r="5"/><circle cx="804.5" cy="798.0" r="5"/><circle cx="809.7" cy="798.4" r="5"/><circle cx="808.0" cy="798.6" r="5"/><circle cx="829.0" cy="799.5" r="5"/><circle cx="825.0" cy="794.6" r="5"/><circle cx="825.2" cy="798.9" r="5"/><circle cx="860.2" cy="793.8" r="5"/><circle cx="858.1" cy="794.0" r="5"/><circle cx="845.2" cy="794.9" r="5"/><circle cx="848.6" cy="799.7" r="5"/><circle cx="851.6" cy="799.1" r="5"/><circle cx="860.1" cy="795.3" r="5"/><circle cx="850.7" cy="794.5" r="5"/><circle cx="861.2" cy="798.1" r="5"/><circle cx="852.1" cy="795.0" r="5"/><circle cx="838.2" cy="798.4" r="5"/><circle cx="862.2" cy="797.0" r="5"/><circle cx="861.3" cy="796.6" r="5"/><circle cx="860.7" cy="794.2" r="5"/><circle cx="855.9" cy="794.6" r="5"/><circle cx="859.7" cy="796.4" r="5"/><circle cx="518.5" cy="641.6" r="5"/><circle cx="517.9" cy="641.6" r="5"/><circle cx="518.4" cy="641.6" r="5"/><circle cx="544.4" cy="633.5" r="5"/><circle cx="543.3" cy="633.5" r="5"/><circle cx="543.6" cy="633.5" r="5"/><circle cx="575.0" cy="633.5" r="5"/><circle cx="578.0" cy="633.5" r="5"/><circle cx="586.0" cy="633.5" r="5"/><circle cx="593.9" cy="633.5" r="5"/><circle cx="614.0" cy="663.8" r="5"/><circle cx="618.8" cy="663.8" r="5"/><circle cx="807.0" cy="551.9" r="5"/><circle cx="806.7" cy="551.9" r="5"/><circle cx="845.3" cy="602.5" r="5"/><circle cx="852.3" cy="602.5" r="5"/><circle cx="788.4" cy="640.0" r="5"/><circle cx="795.4" cy="640.0" r="5"/><circle cx="820.7" cy="640.0" r="5"/><circle cx="824.4" cy="640.0" r="5"/><circle cx="824.6" cy="640.0" r="5"/><circle cx="828.2" cy="640.0" r="5"/><circle cx="827.3" cy="640.0" r="5"/><circle cx="827.8" cy="640.0" r="5"/><circle cx="830.4" cy="640.0" r="5"/><circle cx="742.6" cy="657.6" r="5"/><circle cx="750.0" cy="657.6" r="5"/><circle cx="771.3" cy="657.6" r="5"/><circle cx="782.8" cy="657.6" r="5"/><circle cx="783.7" cy="657.6" r="5"/><circle cx="783.9" cy="657.6" r="5"/><circle cx="786.5" cy="657.6" r="5"/><circle cx="786.9" cy="657.6" r="5"/><circle cx="796.6" cy="657.6" r="5"/><circle cx="807.3" cy="657.6" r="5"/><circle cx="807.8" cy="657.6" r="5"/><circle cx="807.5" cy="657.6" r="5"/><circle cx="814.8" cy="657.6" r="5"/><circle cx="823.0" cy="657.6" r="5"/><circle cx="822.1" cy="657.6" r="5"/><circle cx="821.8" cy="657.6" r="5"/><circle cx="827.4" cy="657.6" r="5"/><circle cx="826.3" cy="657.6" r="5"/><circle cx="828.4" cy="657.6" r="5"/><circle cx="839.3" cy="657.6" r="5"/><circle cx="841.1" cy="657.6" r="5"/><circle cx="843.5" cy="657.6" r="5"/><circle cx="835.0" cy="657.6" r="5"/><circle cx="840.5" cy="657.6" r="5"/><circle cx="843.8" cy="657.6" r="5"/><circle cx="843.6" cy="657.6" r="5"/><circle cx="845.9" cy="657.6" r="5"/><circle cx="842.2" cy="657.6" r="5"/><circle cx="849.0" cy="657.6" r="5"/><circle cx="853.5" cy="657.6" r="5"/><circle cx="845.2" cy="657.6" r="5"/><circle cx="849.4" cy="657.6" r="5"/><circle cx="851.1" cy="657.6" r="5"/><circle cx="853.5" cy="657.6" r="5"/><circle cx="857.1" cy="657.6" r="5"/><circle cx="855.6" cy="657.6" r="5"/><circle cx="855.3" cy="657.6" r="5"/><circle cx="856.1" cy="657.6" r="5"/><circle cx="857.9" cy="657.6" r="5"/><circle cx="858.9" cy="657.6" r="5"/><circle cx="857.6" cy="657.6" r="5"/><circle cx="862.4" cy="657.6" r="5"/><circle cx="640.5" cy="671.5" r="5"/><circle cx="661.6" cy="671.5" r="5"/><circle cx="613.3" cy="678.6" r="5"/><circle cx="625.6" cy="678.6" r="5"/><circle cx="512.4" cy="692.0" r="5"/><circle cx="525.9" cy="692.0" r="5"/><circle cx="548.5" cy="692.0" r="5"/><circle cx="554.2" cy="692.0" r="5"/><circle cx="554.6" cy="692.0" r="5"/><circle cx="555.2" cy="692.0" r="5"/><circle cx="563.7" cy="692.0" r="5"/><circle cx="577.1" cy="692.0" r="5"/><circle cx="581.0" cy="692.0" r="5"/><circle cx="581.9" cy="692.0" r="5"/><circle cx="609.6" cy="692.0" r="5"/><circle cx="609.4" cy="692.0" r="5"/><circle cx="610.3" cy="692.0" r="5"/><circle cx="618.5" cy="692.0" r="5"/><circle cx="633.1" cy="692.0" r="5"/><circle cx="642.3" cy="692.0" r="5"/><circle cx="652.7" cy="692.0" r="5"/><circle cx="656.4" cy="692.0" r="5"/><circle cx="657.3" cy="692.0" r="5"/><circle cx="656.6" cy="692.0" r="5"/><circle cx="662.4" cy="692.0" r="5"/><circle cx="662.7" cy="692.0" r="5"/><circle cx="662.1" cy="692.0" r="5"/><circle cx="678.0" cy="692.0" r="5"/><circle cx="682.5" cy="692.0" r="5"/><circle cx="683.2" cy="692.0" r="5"/><circle cx="683.5" cy="692.0" r="5"/><circle cx="678.7" cy="692.0" r="5"/><circle cx="686.9" cy="692.0" r="5"/><circle cx="642.3" cy="697.2" r="5"/><circle cx="645.3" cy="697.2" r="5"/><circle cx="645.6" cy="697.2" r="5"/><circle cx="647.5" cy="697.2" r="5"/><circle cx="678.0" cy="697.2" r="5"/><circle cx="689.2" cy="697.2" r="5"/><circle cx="576.5" cy="711.7" r="5"/><circle cx="585.0" cy="711.7" r="5"/><circle cx="583.1" cy="728.3" r="5"/><circle cx="595.9" cy="728.3" r="5"/><circle cx="612.2" cy="728.3" r="5"/><circle cx="627.4" cy="728.3" r="5"/><circle cx="642.6" cy="737.3" r="5"/><circle cx="663.9" cy="737.3" r="5"/><circle cx="678.3" cy="737.3" r="5"/><circle cx="691.4" cy="737.3" r="5"/><circle cx="528.5" cy="767.9" r="5"/><circle cx="533.4" cy="767.9" r="5"/><circle cx="543.3" cy="767.9" r="5"/><circle cx="553.8" cy="767.9" r="5"/><circle cx="575.3" cy="767.9" r="5"/><circle cx="585.0" cy="767.9" r="5"/><circle cx="591.4" cy="767.9" r="5"/><circle cx="598.0" cy="767.9" r="5"/><circle cx="617.3" cy="767.9" r="5"/><circle cx="625.6" cy="767.9" r="5"/><circle cx="678.0" cy="770.0" r="5"/><circle cx="680.2" cy="770.0" r="5"/><circle cx="681.4" cy="770.0" r="5"/><circle cx="681.2" cy="770.0" r="5"/><circle cx="690.7" cy="770.0" r="5"/><circle cx="652.7" cy="774.9" r="5"/><circle cx="658.7" cy="774.9" r="5"/><circle cx="679.8" cy="774.9" r="5"/><circle cx="641.6" cy="781.6" r="5"/><circle cx="647.5" cy="781.6" r="5"/><circle cx="661.6" cy="781.6" r="5"/><circle cx="518.0" cy="787.9" r="5"/><circle cx="520.1" cy="787.9" r="5"/><circle cx="517.0" cy="787.9" r="5"/><circle cx="520.2" cy="787.9" r="5"/><circle cx="522.5" cy="787.9" r="5"/><circle cx="525.9" cy="787.9" r="5"/><circle cx="546.3" cy="787.9" r="5"/><circle cx="551.5" cy="787.9" r="5"/><circle cx="557.5" cy="787.9" r="5"/><circle cx="565.7" cy="787.9" r="5"/><circle cx="580.5" cy="787.9" r="5"/><circle cx="595.4" cy="787.9" r="5"/><circle cx="610.3" cy="787.9" r="5"/><circle cx="615.5" cy="787.9" r="5"/><circle cx="559.0" cy="791.3" r="5"/><circle cx="559.2" cy="791.3" r="5"/><circle cx="596.2" cy="791.3" r="5"/><circle cx="643.8" cy="791.3" r="5"/><circle cx="643.6" cy="791.3" r="5"/><circle cx="644.6" cy="791.3" r="5"/><circle cx="673.5" cy="791.3" r="5"/><circle cx="686.9" cy="791.3" r="5"/><circle cx="683.2" cy="791.3" r="5"/><circle cx="689.2" cy="791.3" r="5"/><circle cx="682.7" cy="791.3" r="5"/><circle cx="510.6" cy="796.5" r="5"/><circle cx="529.5" cy="796.5" r="5"/><circle cx="548.2" cy="796.5" r="5"/><circle cx="565.7" cy="796.5" r="5"/><circle cx="587.2" cy="796.5" r="5"/><circle cx="623.0" cy="796.5" r="5"/><circle cx="645.3" cy="796.5" r="5"/><circle cx="646.2" cy="796.5" r="5"/><circle cx="645.1" cy="796.5" r="5"/><circle cx="642.8" cy="796.5" r="5"/><circle cx="657.2" cy="796.5" r="5"/><circle cx="659.0" cy="796.5" r="5"/><circle cx="657.2" cy="796.5" r="5"/><circle cx="658.2" cy="796.5" r="5"/><circle cx="661.0" cy="796.5" r="5"/><circle cx="661.6" cy="796.5" r="5"/><circle cx="659.4" cy="796.5" r="5"/><circle cx="657.2" cy="796.5" r="5"/><circle cx="659.9" cy="796.5" r="5"/><circle cx="678.0" cy="796.5" r="5"/><circle cx="678.4" cy="796.5" r="5"/><circle cx="677.3" cy="796.5" r="5"/><circle cx="685.5" cy="796.5" r="5"/><circle cx="682.5" cy="796.5" r="5"/><circle cx="689.1" cy="796.5" r="5"/><circle cx="686.9" cy="796.5" r="5"/><circle cx="579.8" cy="801.0" r="5"/><circle cx="579.3" cy="801.0" r="5"/><circle cx="583.3" cy="801.0" r="5"/><circle cx="578.2" cy="801.0" r="5"/><circle cx="581.3" cy="801.0" r="5"/><circle cx="599.1" cy="801.0" r="5"/><circle cx="611.0" cy="801.0" r="5"/><circle cx="608.3" cy="801.0" r="5"/><circle cx="610.4" cy="801.0" r="5"/><circle cx="613.8" cy="801.0" r="5"/><circle cx="627.4" cy="801.0" r="5"/><circle cx="631.1" cy="801.0" r="5"/><circle cx="630.8" cy="801.0" r="5"/><circle cx="626.4" cy="801.0" r="5"/><circle cx="628.2" cy="801.0" r="5"/><circle cx="625.8" cy="801.0" r="5"/><circle cx="557.5" cy="803.9" r="5"/><circle cx="565.7" cy="803.9" r="5"/><circle cx="594.7" cy="803.9" r="5"/><circle cx="512.8" cy="809.1" r="5"/><circle cx="518.8" cy="809.1" r="5"/><circle cx="535.2" cy="809.1" r="5"/><circle cx="744.8" cy="684.1" r="5"/><circle cx="750.8" cy="684.1" r="5"/><circle cx="707.6" cy="689.3" r="5"/><circle cx="716.6" cy="689.3" r="5"/><circle cx="721.0" cy="689.3" r="5"/><circle cx="720.1" cy="689.3" r="5"/><circle cx="721.0" cy="689.3" r="5"/><circle cx="725.5" cy="689.3" r="5"/><circle cx="726.3" cy="689.3" r="5"/><circle cx="726.3" cy="689.3" r="5"/><circle cx="729.2" cy="689.3" r="5"/><circle cx="774.6" cy="689.3" r="5"/><circle cx="775.1" cy="689.3" r="5"/><circle cx="775.7" cy="689.3" r="5"/><circle cx="793.9" cy="689.3" r="5"/><circle cx="696.5" cy="692.0" r="5"/><circle cx="718.0" cy="692.0" r="5"/><circle cx="730.7" cy="692.0" r="5"/><circle cx="750.3" cy="692.0" r="5"/><circle cx="763.1" cy="692.0" r="5"/><circle cx="808.1" cy="692.0" r="5"/><circle cx="823.0" cy="692.0" r="5"/><circle cx="837.5" cy="692.0" r="5"/><circle cx="846.0" cy="692.0" r="5"/><circle cx="691.3" cy="697.2" r="5"/><circle cx="810.3" cy="714.6" r="5"/><circle cx="809.8" cy="714.6" r="5"/><circle cx="712.4" cy="731.0" r="5"/><circle cx="731.0" cy="731.0" r="5"/><circle cx="747.8" cy="731.0" r="5"/><circle cx="756.7" cy="731.0" r="5"/><circle cx="755.9" cy="731.0" r="5"/><circle cx="756.6" cy="731.0" r="5"/><circle cx="763.4" cy="731.0" r="5"/><circle cx="785.0" cy="731.0" r="5"/><circle cx="784.5" cy="731.0" r="5"/><circle cx="692.0" cy="737.3" r="5"/><circle cx="810.3" cy="739.6" r="5"/><circle cx="815.5" cy="739.6" r="5"/><circle cx="825.2" cy="739.6" r="5"/><circle cx="824.5" cy="739.6" r="5"/><circle cx="825.0" cy="739.6" r="5"/><circle cx="839.3" cy="739.6" r="5"/><circle cx="839.6" cy="739.6" r="5"/><circle cx="855.7" cy="739.6" r="5"/><circle cx="855.6" cy="739.6" r="5"/><circle cx="854.0" cy="739.6" r="5"/><circle cx="858.7" cy="739.6" r="5"/><circle cx="851.2" cy="739.6" r="5"/><circle cx="861.6" cy="739.6" r="5"/><circle cx="708.4" cy="741.9" r="5"/><circle cx="710.6" cy="741.9" r="5"/><circle cx="744.8" cy="741.9" r="5"/><circle cx="751.5" cy="741.9" r="5"/><circle cx="756.0" cy="741.9" r="5"/><circle cx="757.1" cy="741.9" r="5"/><circle cx="760.5" cy="741.9" r="5"/><circle cx="760.3" cy="741.9" r="5"/><circle cx="759.4" cy="741.9" r="5"/><circle cx="763.4" cy="741.9" r="5"/><circle cx="780.5" cy="741.9" r="5"/><circle cx="788.7" cy="741.9" r="5"/><circle cx="817.0" cy="741.9" r="5"/><circle cx="840.1" cy="741.9" r="5"/><circle cx="708.1" cy="747.4" r="5"/><circle cx="720.3" cy="747.4" r="5"/><circle cx="772.1" cy="754.1" r="5"/><circle cx="791.0" cy="754.1" r="5"/><circle cx="840.8" cy="759.3" r="5"/><circle cx="845.3" cy="759.3" r="5"/><circle cx="714.0" cy="762.0" r="5"/><circle cx="731.4" cy="762.0" r="5"/><circle cx="777.1" cy="762.0" r="5"/><circle cx="789.0" cy="762.0" r="5"/><circle cx="807.8" cy="762.0" r="5"/><circle cx="815.8" cy="762.0" r="5"/><circle cx="822.2" cy="762.0" r="5"/><circle cx="821.1" cy="762.0" r="5"/><circle cx="823.1" cy="762.0" r="5"/><circle cx="693.5" cy="769.0" r="5"/><circle cx="720.0" cy="769.0" r="5"/><circle cx="727.3" cy="769.0" r="5"/><circle cx="840.8" cy="769.0" r="5"/><circle cx="847.5" cy="769.0" r="5"/><circle cx="692.0" cy="774.9" r="5"/><circle cx="757.2" cy="776.8" r="5"/><circle cx="761.6" cy="776.8" r="5"/><circle cx="739.6" cy="789.8" r="5"/><circle cx="748.5" cy="789.8" r="5"/><circle cx="761.9" cy="789.8" r="5"/><circle cx="778.3" cy="789.8" r="5"/><circle cx="787.2" cy="789.8" r="5"/><circle cx="804.4" cy="789.8" r="5"/><circle cx="825.9" cy="789.8" r="5"/></g><path d="M522.7 845.4 L536.4 844.8 L550.0 844.1 L563.6 843.4 L577.3 842.8 L590.9 842.2 L604.6 841.7 L618.2 841.3 L631.9 840.9 L645.5 840.6 L659.1 840.4 L672.8 840.4 L686.4 840.5 L700.1 840.7 L713.7 840.8 L727.3 840.8 L741.0 840.9 L754.6 840.8 L768.3 840.5 L781.9 839.7 L795.6 838.6 L809.2 837.3 L822.8 835.6 L836.5 833.1 L850.1 830.6" fill="none" stroke="#2A49FE" stroke-width="6.2" stroke-linejoin="round"/>
</g>
<g clip-path="url(#c12)">
<rect x="895.4" y="475.0" width="389.0" height="400.8" fill="#E6E6E6"/>
<path d="M895.4 850.06h389.0M895.4 772.74h389.0M895.4 695.41h389.0M895.4 618.09h389.0M895.4 540.76h389.0M942.59 475.0v400.8M1040.81 475.0v400.8M1139.03 475.0v400.8M1237.25 475.0v400.8" stroke="#fff" stroke-width="1.42" fill="none"/>
<path d="M895.4 811.40h389.0M895.4 734.08h389.0M895.4 656.75h389.0M895.4 579.43h389.0M895.4 502.10h389.0M991.70 475.0v400.8M1089.92 475.0v400.8M1188.14 475.0v400.8" stroke="#fff" stroke-width="2.85" fill="none"/>
<g class="p"><path d="M907.7 842.5Q907.7 831.5 918.7 831.5H933.7Q944.7 831.5 944.7 842.5V856.0Q944.7 862.0 938.7 862.0H913.7Q907.7 862.0 907.7 856.0Z"/><path d="M940.5 841.7Q940.5 830.7 951.5 830.7H966.5Q977.5 830.7 977.5 841.7V856.0Q977.5 862.0 971.5 862.0H946.5Q940.5 862.0 940.5 856.0Z"/><path d="M973.2 841.7Q973.2 830.7 984.2 830.7H999.2Q1010.2 830.7 1010.2 841.7V856.0Q1010.2 862.0 1004.2 862.0H979.2Q973.2 862.0 973.2 856.0Z"/><path d="M1005.9 841.0Q1005.9 830.0 1016.9 830.0H1031.9Q1042.9 830.0 1042.9 841.0V856.0Q1042.9 862.0 1036.9 862.0H1011.9Q1005.9 862.0 1005.9 856.0Z"/><path d="M1038.7 841.0Q1038.7 830.0 1049.7 830.0H1064.7Q1075.7 830.0 1075.7 841.0V856.0Q1075.7 862.0 1069.7 862.0H1044.7Q1038.7 862.0 1038.7 856.0Z"/><path d="M1071.4 841.0Q1071.4 830.0 1082.4 830.0H1097.4Q1108.4 830.0 1108.4 841.0V856.0Q1108.4 862.0 1102.4 862.0H1077.4Q1071.4 862.0 1071.4 856.0Z"/><path d="M1104.2 849.5Q1104.2 838.5 1115.2 838.5H1130.2Q1141.2 838.5 1141.2 849.5V856.0Q1141.2 862.0 1135.2 862.0H1110.2Q1104.2 862.0 1104.2 856.0Z"/></g><g class="k"><circle cx="913.1" cy="857.8" r="5.6"/><circle cx="919.1" cy="857.5" r="5.6"/><circle cx="926.9" cy="857.6" r="5.6"/><circle cx="932.5" cy="857.7" r="5.6"/><circle cx="939.7" cy="857.9" r="5.6"/><circle cx="917.0" cy="844.8" r="5.6"/><circle cx="922.7" cy="839.3" r="5.6"/><circle cx="927.5" cy="837.3" r="5.6"/><circle cx="931.5" cy="837.4" r="5.6"/><circle cx="934.5" cy="845.0" r="5.6"/><circle cx="913.0" cy="840.5" r="5.6"/><circle cx="913.2" cy="846.3" r="5.6"/><circle cx="913.7" cy="853.2" r="5.6"/><circle cx="946.4" cy="858.0" r="5.6"/><circle cx="953.4" cy="858.0" r="5.6"/><circle cx="959.1" cy="857.9" r="5.6"/><circle cx="965.7" cy="857.9" r="5.6"/><circle cx="973.0" cy="857.6" r="5.6"/><circle cx="948.4" cy="843.7" r="5.6"/><circle cx="955.6" cy="838.4" r="5.6"/><circle cx="958.8" cy="835.7" r="5.6"/><circle cx="962.5" cy="838.2" r="5.6"/><circle cx="967.7" cy="841.5" r="5.6"/><circle cx="977.8" cy="857.9" r="5.6"/><circle cx="985.0" cy="857.9" r="5.6"/><circle cx="990.8" cy="857.6" r="5.6"/><circle cx="998.7" cy="857.8" r="5.6"/><circle cx="1004.2" cy="857.6" r="5.6"/><circle cx="983.2" cy="844.2" r="5.6"/><circle cx="985.8" cy="837.3" r="5.6"/><circle cx="992.9" cy="836.2" r="5.6"/><circle cx="997.3" cy="836.3" r="5.6"/><circle cx="1001.1" cy="841.2" r="5.6"/><circle cx="1011.9" cy="857.7" r="5.6"/><circle cx="1017.3" cy="858.0" r="5.6"/><circle cx="1023.9" cy="857.3" r="5.6"/><circle cx="1031.4" cy="857.4" r="5.6"/><circle cx="1037.9" cy="857.4" r="5.6"/><circle cx="1013.6" cy="842.9" r="5.6"/><circle cx="1020.1" cy="836.8" r="5.6"/><circle cx="1025.1" cy="835.8" r="5.6"/><circle cx="1028.2" cy="836.0" r="5.6"/><circle cx="1034.1" cy="843.3" r="5.6"/><circle cx="1044.4" cy="857.6" r="5.6"/><circle cx="1051.3" cy="857.9" r="5.6"/><circle cx="1056.7" cy="857.4" r="5.6"/><circle cx="1062.7" cy="857.9" r="5.6"/><circle cx="1069.7" cy="857.7" r="5.6"/><circle cx="1047.8" cy="842.6" r="5.6"/><circle cx="1053.8" cy="836.8" r="5.6"/><circle cx="1056.2" cy="834.8" r="5.6"/><circle cx="1061.0" cy="835.9" r="5.6"/><circle cx="1067.3" cy="842.6" r="5.6"/><circle cx="1077.1" cy="857.9" r="5.6"/><circle cx="1084.4" cy="857.5" r="5.6"/><circle cx="1090.3" cy="857.7" r="5.6"/><circle cx="1095.5" cy="858.0" r="5.6"/><circle cx="1102.8" cy="857.8" r="5.6"/><circle cx="1079.7" cy="841.8" r="5.6"/><circle cx="1084.1" cy="837.8" r="5.6"/><circle cx="1088.5" cy="833.6" r="5.6"/><circle cx="1095.3" cy="836.5" r="5.6"/><circle cx="1098.8" cy="843.6" r="5.6"/><circle cx="1110.0" cy="857.6" r="5.6"/><circle cx="1116.5" cy="858.0" r="5.6"/><circle cx="1123.4" cy="857.5" r="5.6"/><circle cx="1129.8" cy="857.4" r="5.6"/><circle cx="1135.5" cy="858.0" r="5.6"/><circle cx="1113.9" cy="850.2" r="5.6"/><circle cx="1118.1" cy="844.5" r="5.6"/><circle cx="1123.3" cy="843.6" r="5.6"/><circle cx="1127.2" cy="844.5" r="5.6"/><circle cx="1133.2" cy="851.6" r="5.6"/><circle cx="1135.3" cy="847.5" r="5.6"/><circle cx="1136.5" cy="853.5" r="5.6"/></g><g class="q"><circle cx="917" cy="830" r="5"/><circle cx="918" cy="829" r="5"/><circle cx="929" cy="831" r="5"/><circle cx="929" cy="830" r="5"/><circle cx="914" cy="830" r="5"/><circle cx="929" cy="830" r="5"/><circle cx="936" cy="829" r="5"/><circle cx="923" cy="832" r="5"/><circle cx="949" cy="828" r="5"/><circle cx="964" cy="829" r="5"/><circle cx="957" cy="830" r="5"/><circle cx="952" cy="829" r="5"/><circle cx="950" cy="829" r="5"/><circle cx="962" cy="829" r="5"/><circle cx="952" cy="832" r="5"/><circle cx="955" cy="829" r="5"/><circle cx="992" cy="828" r="5"/><circle cx="990" cy="830" r="5"/><circle cx="1002" cy="831" r="5"/><circle cx="984" cy="829" r="5"/><circle cx="995" cy="830" r="5"/><circle cx="993" cy="830" r="5"/><circle cx="996" cy="827" r="5"/><circle cx="1000" cy="829" r="5"/><circle cx="1024" cy="826" r="5"/><circle cx="1023" cy="828" r="5"/><circle cx="1034" cy="828" r="5"/><circle cx="1022" cy="827" r="5"/><circle cx="1027" cy="827" r="5"/><circle cx="1028" cy="829" r="5"/><circle cx="1037" cy="829" r="5"/><circle cx="1022" cy="826" r="5"/><circle cx="1069" cy="831" r="5"/><circle cx="1046" cy="827" r="5"/><circle cx="1067" cy="829" r="5"/><circle cx="1051" cy="828" r="5"/><circle cx="1069" cy="830" r="5"/><circle cx="1056" cy="828" r="5"/><circle cx="1050" cy="829" r="5"/><circle cx="1048" cy="829" r="5"/><circle cx="1083" cy="831" r="5"/><circle cx="1087" cy="831" r="5"/><circle cx="1080" cy="831" r="5"/><circle cx="1088" cy="830" r="5"/><circle cx="1096" cy="829" r="5"/><circle cx="1083" cy="830" r="5"/><circle cx="1085" cy="827" r="5"/><circle cx="1082" cy="829" r="5"/><circle cx="1131" cy="836" r="5"/><circle cx="1122" cy="835" r="5"/><circle cx="1126" cy="839" r="5"/><circle cx="1112" cy="839" r="5"/><circle cx="1130" cy="838" r="5"/><circle cx="1131" cy="835" r="5"/><circle cx="1134" cy="837" r="5"/><circle cx="1110" cy="839" r="5"/><circle cx="1115" cy="831" r="5"/><circle cx="1128" cy="828" r="5"/><circle cx="1128" cy="827" r="5"/><circle cx="1126" cy="833" r="5"/><circle cx="1131" cy="836" r="5"/><circle cx="1130" cy="830" r="5"/><circle cx="1132" cy="838" r="5"/><circle cx="1115" cy="827" r="5"/><circle cx="1113" cy="834" r="5"/><circle cx="1125" cy="833" r="5"/><circle cx="1133" cy="827" r="5"/><circle cx="1119" cy="838" r="5"/></g><g class="p"><circle cx="937.1" cy="825.0" r="5"/><circle cx="919.6" cy="828.5" r="5"/><circle cx="913.4" cy="823.7" r="5"/><circle cx="920.5" cy="823.9" r="5"/><circle cx="937.3" cy="824.7" r="5"/><circle cx="938.1" cy="829.2" r="5"/><circle cx="933.0" cy="821.8" r="5"/><circle cx="938.2" cy="829.6" r="5"/><circle cx="926.4" cy="823.9" r="5"/><circle cx="928.8" cy="824.9" r="5"/><circle cx="920.3" cy="820.2" r="5"/><circle cx="936.1" cy="822.4" r="5"/><circle cx="938.2" cy="824.0" r="5"/><circle cx="915.2" cy="822.4" r="5"/><circle cx="915.9" cy="821.8" r="5"/><circle cx="930.1" cy="827.7" r="5"/><circle cx="917.1" cy="829.2" r="5"/><circle cx="917.8" cy="819.4" r="5"/><circle cx="919.1" cy="820.4" r="5"/><circle cx="916.6" cy="826.3" r="5"/><circle cx="925.5" cy="826.1" r="5"/><circle cx="938.4" cy="827.4" r="5"/><circle cx="958.5" cy="827.7" r="5"/><circle cx="948.7" cy="822.5" r="5"/><circle cx="954.7" cy="824.7" r="5"/><circle cx="964.0" cy="829.0" r="5"/><circle cx="947.3" cy="822.5" r="5"/><circle cx="971.9" cy="829.8" r="5"/><circle cx="957.7" cy="819.2" r="5"/><circle cx="967.7" cy="819.2" r="5"/><circle cx="959.7" cy="819.4" r="5"/><circle cx="947.3" cy="824.8" r="5"/><circle cx="968.1" cy="825.7" r="5"/><circle cx="957.4" cy="825.1" r="5"/><circle cx="955.8" cy="821.2" r="5"/><circle cx="971.3" cy="827.5" r="5"/><circle cx="954.3" cy="821.3" r="5"/><circle cx="965.3" cy="821.1" r="5"/><circle cx="963.7" cy="820.1" r="5"/><circle cx="968.0" cy="823.1" r="5"/><circle cx="986.0" cy="829.0" r="5"/><circle cx="1001.1" cy="820.7" r="5"/><circle cx="1002.0" cy="827.1" r="5"/><circle cx="997.9" cy="819.9" r="5"/><circle cx="984.0" cy="829.7" r="5"/><circle cx="983.2" cy="827.6" r="5"/><circle cx="996.4" cy="821.1" r="5"/><circle cx="1000.0" cy="822.5" r="5"/><circle cx="1004.2" cy="819.4" r="5"/><circle cx="990.1" cy="820.0" r="5"/><circle cx="997.4" cy="827.3" r="5"/><circle cx="993.9" cy="828.1" r="5"/><circle cx="989.1" cy="821.2" r="5"/><circle cx="978.9" cy="824.1" r="5"/><circle cx="990.0" cy="826.9" r="5"/><circle cx="980.3" cy="824.3" r="5"/><circle cx="1020.1" cy="828.9" r="5"/><circle cx="1021.9" cy="822.6" r="5"/><circle cx="1013.4" cy="821.5" r="5"/><circle cx="1013.5" cy="824.9" r="5"/><circle cx="1020.9" cy="820.7" r="5"/><circle cx="1034.7" cy="822.0" r="5"/><circle cx="1019.1" cy="826.4" r="5"/><circle cx="1065.7" cy="824.4" r="5"/><circle cx="1060.7" cy="822.1" r="5"/><circle cx="1049.1" cy="825.8" r="5"/><circle cx="1069.1" cy="826.4" r="5"/><circle cx="1066.3" cy="828.3" r="5"/><circle cx="1044.5" cy="824.5" r="5"/><circle cx="1051.5" cy="823.5" r="5"/><circle cx="1097.0" cy="829.5" r="5"/><circle cx="1089.9" cy="825.9" r="5"/><circle cx="1100.6" cy="820.8" r="5"/><circle cx="1100.0" cy="821.9" r="5"/><circle cx="1085.9" cy="823.3" r="5"/><circle cx="1091.1" cy="826.0" r="5"/><circle cx="1084.4" cy="822.9" r="5"/><circle cx="1133.0" cy="827.3" r="5"/><circle cx="1118.9" cy="828.2" r="5"/><circle cx="1119.1" cy="825.8" r="5"/><circle cx="1112.0" cy="823.0" r="5"/><circle cx="1118.6" cy="821.2" r="5"/><circle cx="1115.9" cy="822.0" r="5"/><circle cx="1135.2" cy="828.1" r="5"/><circle cx="1119.3" cy="819.4" r="5"/><circle cx="1120.1" cy="826.4" r="5"/><circle cx="1113.6" cy="821.0" r="5"/><circle cx="1118.1" cy="820.4" r="5"/><circle cx="1124.2" cy="828.0" r="5"/><circle cx="1135.6" cy="820.2" r="5"/><circle cx="1129.2" cy="823.4" r="5"/><circle cx="1129.3" cy="819.7" r="5"/><circle cx="1114.7" cy="827.3" r="5"/><circle cx="933.1" cy="819.6" r="5"/><circle cx="938.9" cy="817.1" r="5"/><circle cx="926.8" cy="821.2" r="5"/><circle cx="929.2" cy="818.5" r="5"/><circle cx="961.1" cy="817.4" r="5"/><circle cx="958.4" cy="816.7" r="5"/><circle cx="961.5" cy="821.2" r="5"/><circle cx="1000.1" cy="821.2" r="5"/><circle cx="1002.3" cy="816.5" r="5"/><circle cx="983.7" cy="821.0" r="5"/><circle cx="997.0" cy="819.4" r="5"/><circle cx="1021.2" cy="817.6" r="5"/><circle cx="1020.1" cy="821.4" r="5"/><circle cx="1058.5" cy="816.8" r="5"/><circle cx="1069.2" cy="821.6" r="5"/><circle cx="1096.4" cy="820.2" r="5"/><circle cx="1102.3" cy="819.8" r="5"/><circle cx="1112.3" cy="820.2" r="5"/><circle cx="1123.1" cy="821.1" r="5"/><circle cx="1129.7" cy="820.2" r="5"/><circle cx="1129.0" cy="820.8" r="5"/><circle cx="1051.2" cy="579.3" r="5"/><circle cx="1065.2" cy="579.3" r="5"/><circle cx="1093.1" cy="579.3" r="5"/><circle cx="1095.5" cy="579.3" r="5"/><circle cx="1094.4" cy="579.3" r="5"/><circle cx="1113.0" cy="579.3" r="5"/><circle cx="1119.5" cy="579.3" r="5"/><circle cx="1128.4" cy="579.3" r="5"/><circle cx="1132.7" cy="579.3" r="5"/><circle cx="1114.5" cy="589.4" r="5"/><circle cx="1122.9" cy="589.4" r="5"/><circle cx="1082.9" cy="619.5" r="5"/><circle cx="1094.4" cy="619.5" r="5"/><circle cx="1118.2" cy="619.5" r="5"/><circle cx="1132.2" cy="619.5" r="5"/><circle cx="1025.2" cy="703.8" r="5"/><circle cx="1029.9" cy="703.8" r="5"/><circle cx="945.8" cy="723.3" r="5"/><circle cx="967.5" cy="723.3" r="5"/><circle cx="920.1" cy="744.8" r="5"/><circle cx="929.0" cy="744.8" r="5"/><circle cx="955.5" cy="744.8" r="5"/><circle cx="962.3" cy="744.8" r="5"/><circle cx="984.8" cy="744.8" r="5"/><circle cx="985.3" cy="744.8" r="5"/><circle cx="985.0" cy="744.8" r="5"/><circle cx="1013.1" cy="744.8" r="5"/><circle cx="1015.9" cy="744.8" r="5"/><circle cx="1015.4" cy="744.8" r="5"/><circle cx="1016.6" cy="744.8" r="5"/><circle cx="1027.4" cy="744.8" r="5"/><circle cx="995.4" cy="770.2" r="5"/><circle cx="1003.8" cy="770.2" r="5"/><circle cx="1023.3" cy="770.2" r="5"/><circle cx="1027.4" cy="770.2" r="5"/><circle cx="1052.7" cy="774.2" r="5"/><circle cx="1069.9" cy="774.2" r="5"/><circle cx="1093.7" cy="774.2" r="5"/><circle cx="1092.5" cy="774.2" r="5"/><circle cx="1116.7" cy="774.2" r="5"/><circle cx="1130.9" cy="774.2" r="5"/><circle cx="952.7" cy="782.0" r="5"/><circle cx="956.4" cy="782.0" r="5"/><circle cx="990.4" cy="784.8" r="5"/><circle cx="997.3" cy="784.8" r="5"/><circle cx="1019.6" cy="784.8" r="5"/><circle cx="1028.9" cy="784.8" r="5"/><circle cx="1047.5" cy="784.8" r="5"/><circle cx="1061.5" cy="784.8" r="5"/><circle cx="1060.6" cy="784.8" r="5"/><circle cx="1061.4" cy="784.8" r="5"/><circle cx="1064.3" cy="784.8" r="5"/><circle cx="1063.1" cy="784.8" r="5"/><circle cx="1065.1" cy="784.8" r="5"/><circle cx="1068.9" cy="784.8" r="5"/><circle cx="1080.1" cy="784.8" r="5"/><circle cx="1079.5" cy="784.8" r="5"/><circle cx="1079.2" cy="784.8" r="5"/><circle cx="1082.9" cy="784.8" r="5"/><circle cx="1095.0" cy="784.8" r="5"/><circle cx="1099.6" cy="784.8" r="5"/><circle cx="1098.5" cy="784.8" r="5"/><circle cx="1099.9" cy="784.8" r="5"/><circle cx="1118.2" cy="784.8" r="5"/><circle cx="1118.1" cy="784.8" r="5"/><circle cx="1118.5" cy="784.8" r="5"/><circle cx="1125.7" cy="784.8" r="5"/><circle cx="1084.7" cy="789.4" r="5"/><circle cx="1112.6" cy="789.4" r="5"/><circle cx="1123.8" cy="789.4" r="5"/><circle cx="981.5" cy="795.0" r="5"/><circle cx="986.1" cy="795.0" r="5"/><circle cx="1002.9" cy="795.0" r="5"/><circle cx="1003.3" cy="795.0" r="5"/><circle cx="927.6" cy="799.6" r="5"/><circle cx="933.7" cy="799.6" r="5"/><circle cx="954.2" cy="799.6" r="5"/><circle cx="964.2" cy="799.6" r="5"/><circle cx="982.4" cy="799.6" r="5"/><circle cx="992.7" cy="799.6" r="5"/><circle cx="1017.8" cy="799.6" r="5"/><circle cx="1018.5" cy="799.6" r="5"/><circle cx="1018.9" cy="799.6" r="5"/><circle cx="1023.3" cy="799.6" r="5"/><circle cx="1034.5" cy="799.6" r="5"/><circle cx="1036.2" cy="799.6" r="5"/><circle cx="1031.8" cy="799.6" r="5"/><circle cx="1034.3" cy="799.6" r="5"/><circle cx="1044.7" cy="799.6" r="5"/><circle cx="1053.1" cy="799.6" r="5"/><circle cx="1050.2" cy="799.6" r="5"/><circle cx="1048.7" cy="799.6" r="5"/><circle cx="1052.9" cy="799.6" r="5"/><circle cx="1060.6" cy="799.6" r="5"/><circle cx="1076.4" cy="799.6" r="5"/><circle cx="1084.7" cy="799.6" r="5"/><circle cx="1085.2" cy="799.6" r="5"/><circle cx="1084.0" cy="799.6" r="5"/><circle cx="1096.8" cy="799.6" r="5"/><circle cx="1094.8" cy="799.6" r="5"/><circle cx="1095.4" cy="799.6" r="5"/><circle cx="1098.6" cy="799.6" r="5"/><circle cx="1101.5" cy="799.6" r="5"/><circle cx="1116.4" cy="799.6" r="5"/><circle cx="1121.0" cy="799.6" r="5"/><circle cx="1133.1" cy="799.6" r="5"/><circle cx="1138.7" cy="799.6" r="5"/><circle cx="912.7" cy="809.5" r="5"/><circle cx="917.3" cy="809.5" r="5"/><circle cx="917.4" cy="809.5" r="5"/><circle cx="917.6" cy="809.5" r="5"/><circle cx="930.3" cy="809.5" r="5"/><circle cx="948.0" cy="809.5" r="5"/><circle cx="952.7" cy="809.5" r="5"/><circle cx="953.3" cy="809.5" r="5"/><circle cx="952.4" cy="809.5" r="5"/><circle cx="967.2" cy="809.5" r="5"/><circle cx="979.6" cy="809.5" r="5"/><circle cx="982.3" cy="809.5" r="5"/><circle cx="983.3" cy="809.5" r="5"/><circle cx="975.9" cy="809.5" r="5"/><circle cx="996.4" cy="809.5" r="5"/><circle cx="1017.8" cy="809.5" r="5"/><circle cx="1021.7" cy="809.5" r="5"/><circle cx="1019.8" cy="809.5" r="5"/><circle cx="1014.4" cy="809.5" r="5"/><circle cx="1017.3" cy="809.5" r="5"/><circle cx="1027.1" cy="809.5" r="5"/><circle cx="1034.5" cy="809.5" r="5"/><circle cx="1046.6" cy="809.5" r="5"/><circle cx="1047.7" cy="809.5" r="5"/><circle cx="1050.3" cy="809.5" r="5"/><circle cx="1045.5" cy="809.5" r="5"/><circle cx="1056.8" cy="809.5" r="5"/><circle cx="1057.4" cy="809.5" r="5"/><circle cx="1060.2" cy="809.5" r="5"/><circle cx="1059.5" cy="809.5" r="5"/><circle cx="1069.9" cy="809.5" r="5"/><circle cx="1078.2" cy="809.5" r="5"/><circle cx="1084.7" cy="809.5" r="5"/><circle cx="1088.7" cy="809.5" r="5"/><circle cx="1084.4" cy="809.5" r="5"/><circle cx="1086.1" cy="809.5" r="5"/><circle cx="1082.1" cy="809.5" r="5"/><circle cx="1092.2" cy="809.5" r="5"/><circle cx="1094.2" cy="809.5" r="5"/><circle cx="1095.0" cy="809.5" r="5"/><circle cx="1093.4" cy="809.5" r="5"/><circle cx="1094.1" cy="809.5" r="5"/><circle cx="1098.7" cy="809.5" r="5"/><circle cx="1096.1" cy="809.5" r="5"/><circle cx="1102.3" cy="809.5" r="5"/><circle cx="1103.0" cy="809.5" r="5"/><circle cx="1103.0" cy="809.5" r="5"/><circle cx="1099.0" cy="809.5" r="5"/><circle cx="1110.8" cy="809.5" r="5"/><circle cx="1120.1" cy="809.5" r="5"/><circle cx="1122.7" cy="809.5" r="5"/><circle cx="1118.5" cy="809.5" r="5"/><circle cx="1123.8" cy="809.5" r="5"/><circle cx="1123.3" cy="809.5" r="5"/><circle cx="1127.5" cy="809.5" r="5"/><circle cx="1126.2" cy="809.5" r="5"/><circle cx="1123.8" cy="809.5" r="5"/><circle cx="1127.0" cy="809.5" r="5"/><circle cx="1128.0" cy="809.5" r="5"/><circle cx="1135.0" cy="809.5" r="5"/><circle cx="922.9" cy="816.4" r="5"/><circle cx="929.4" cy="816.4" r="5"/><circle cx="935.9" cy="816.4" r="5"/><circle cx="956.4" cy="816.4" r="5"/><circle cx="961.0" cy="816.4" r="5"/><circle cx="989.9" cy="816.4" r="5"/><circle cx="995.4" cy="816.4" r="5"/><circle cx="996.1" cy="816.4" r="5"/><circle cx="995.4" cy="816.4" r="5"/><circle cx="1002.0" cy="816.4" r="5"/><circle cx="1021.5" cy="816.4" r="5"/><circle cx="1033.6" cy="816.4" r="5"/><circle cx="1016.8" cy="821.0" r="5"/><circle cx="1033.6" cy="821.0" r="5"/><circle cx="1080.1" cy="821.0" r="5"/><circle cx="1101.5" cy="821.0" r="5"/><circle cx="1110.8" cy="821.0" r="5"/><circle cx="1121.9" cy="821.0" r="5"/><circle cx="1133.1" cy="821.0" r="5"/><circle cx="1052.2" cy="824.7" r="5"/><circle cx="1058.7" cy="824.7" r="5"/><circle cx="1067.1" cy="824.7" r="5"/></g><path d="M926.2 847.9 L934.4 848.0 L942.6 848.1 L950.8 848.2 L959.0 848.3 L967.1 848.4 L975.3 848.5 L983.5 848.5 L991.7 848.5 L999.9 848.5 L1008.1 848.4 L1016.3 848.2 L1024.4 848.1 L1032.6 847.9 L1040.8 847.7 L1049.0 847.5 L1057.2 847.3 L1065.4 847.0 L1073.5 846.8 L1081.7 846.5 L1089.9 846.2 L1098.1 845.9 L1106.3 845.6 L1114.5 845.3 L1122.7 845.0" fill="none" stroke="#2A49FE" stroke-width="6.2" stroke-linejoin="round"/>
</g>
<defs>
<clipPath id="c00"><rect x="88.2" y="59.5" width="389.0" height="401.2"/></clipPath>
<clipPath id="c01"><rect x="491.9" y="59.5" width="389.0" height="401.2"/></clipPath>
<clipPath id="c02"><rect x="895.4" y="59.5" width="389.0" height="401.2"/></clipPath>
<clipPath id="c10"><rect x="88.2" y="475.0" width="389.0" height="400.8"/></clipPath>
<clipPath id="c11"><rect x="491.9" y="475.0" width="389.0" height="400.8"/></clipPath>
<clipPath id="c12"><rect x="895.4" y="475.0" width="389.0" height="400.8"/></clipPath>
</defs>
<path d="M80.9 396.00h7.3M80.9 318.68h7.3M80.9 241.35h7.3M80.9 164.03h7.3M80.9 86.70h7.3M80.9 811.40h7.3M80.9 734.08h7.3M80.9 656.75h7.3M80.9 579.43h7.3M80.9 502.10h7.3M184.50 875.8v7.3M282.72 875.8v7.3M380.94 875.8v7.3M588.20 875.8v7.3M686.42 875.8v7.3M784.64 875.8v7.3M991.70 875.8v7.3M1089.92 875.8v7.3M1188.14 875.8v7.3" stroke="#333" stroke-width="2.85" fill="none"/>
<text class="ax" x="75" y="405.3" text-anchor="end">5</text>
<text class="ax" x="75" y="328.0" text-anchor="end">10</text>
<text class="ax" x="75" y="250.7" text-anchor="end">15</text>
<text class="ax" x="75" y="173.3" text-anchor="end">20</text>
<text class="ax" x="75" y="96.0" text-anchor="end">25</text>
<text class="ax" x="75" y="820.7" text-anchor="end">5</text>
<text class="ax" x="75" y="743.4" text-anchor="end">10</text>
<text class="ax" x="75" y="666.0" text-anchor="end">15</text>
<text class="ax" x="75" y="588.7" text-anchor="end">20</text>
<text class="ax" x="75" y="511.4" text-anchor="end">25</text>
<text class="ax" x="184.5" y="906.1" text-anchor="middle">3</text>
<text class="ax" x="282.7" y="906.1" text-anchor="middle">6</text>
<text class="ax" x="380.9" y="906.1" text-anchor="middle">9</text>
<text class="ax" x="588.2" y="906.1" text-anchor="middle">3</text>
<text class="ax" x="686.4" y="906.1" text-anchor="middle">6</text>
<text class="ax" x="784.6" y="906.1" text-anchor="middle">9</text>
<text class="ax" x="991.7" y="906.1" text-anchor="middle">3</text>
<text class="ax" x="1089.9" y="906.1" text-anchor="middle">6</text>
<text class="ax" x="1188.1" y="906.1" text-anchor="middle">9</text>
<text class="ti" x="686.7" y="939.8" text-anchor="middle" letter-spacing="0.1">Wave.Number</text>
<text class="ti" transform="translate(35.4,467.5) rotate(-90)" text-anchor="middle" letter-spacing="0.28">Tower.Attraction.Trait</text>
</svg>
</body></html>
